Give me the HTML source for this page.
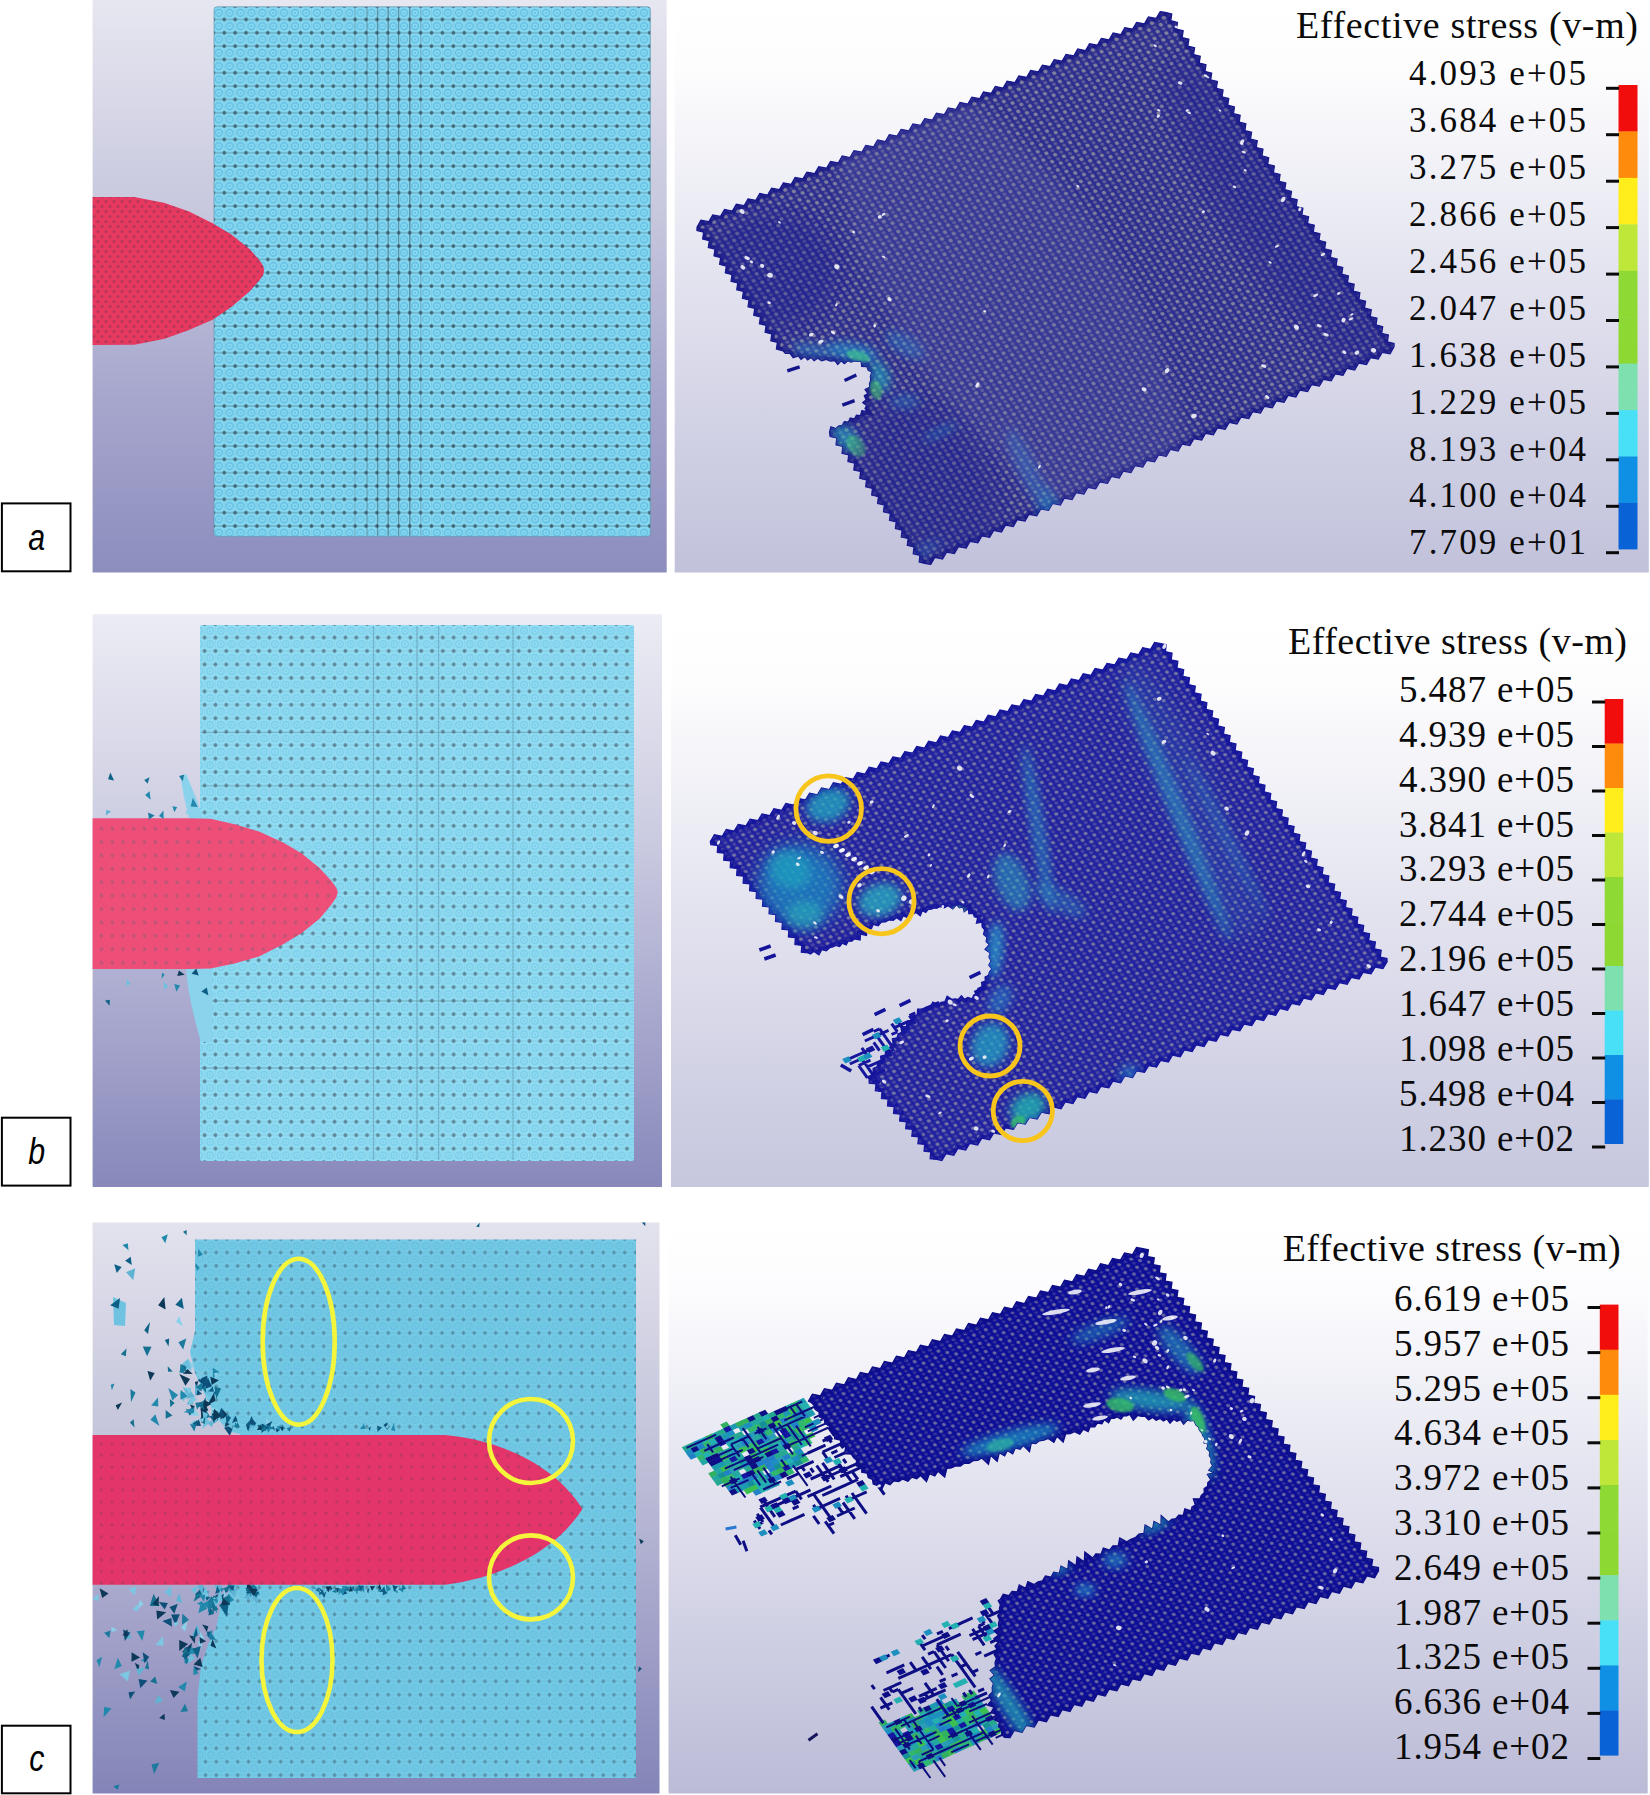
<!DOCTYPE html>
<html lang="en"><head><meta charset="utf-8"><title>Effective stress (v-m)</title>
<style>
html,body{margin:0;padding:0;background:#fff}
body{width:1650px;height:1795px;overflow:hidden;font-family:"Liberation Serif",serif}
svg{display:block}
.t{font-family:"Liberation Serif",serif;fill:#0a0a0a}
.l{font-family:"Liberation Sans",sans-serif;font-style:italic;fill:#000}
</style></head><body>
<svg width="1650" height="1795" viewBox="0 0 1650 1795">
<defs>
<linearGradient id="gaL" x1="0" y1="0" x2="0" y2="1"><stop offset="0" stop-color="#e7e7f1"/><stop offset="0.35" stop-color="#c9c9df"/><stop offset="0.7" stop-color="#a6a6cd"/><stop offset="1" stop-color="#8d8dbe"/></linearGradient>
<linearGradient id="gbL" x1="0" y1="0" x2="0" y2="1"><stop offset="0" stop-color="#ececf5"/><stop offset="0.35" stop-color="#cfcfe3"/><stop offset="0.7" stop-color="#a8a8ce"/><stop offset="1" stop-color="#8888bb"/></linearGradient>
<linearGradient id="gcL" x1="0" y1="0" x2="0" y2="1"><stop offset="0" stop-color="#e3e3ee"/><stop offset="0.35" stop-color="#c6c6dc"/><stop offset="0.7" stop-color="#a3a3ca"/><stop offset="1" stop-color="#8484b8"/></linearGradient>
<linearGradient id="gaR" x1="0" y1="0" x2="0" y2="1"><stop offset="0" stop-color="#ffffff"/><stop offset="0.12" stop-color="#fdfdfe"/><stop offset="0.5" stop-color="#e2e2ef"/><stop offset="1" stop-color="#c1c1db"/></linearGradient>
<linearGradient id="gbR" x1="0" y1="0" x2="0" y2="1"><stop offset="0" stop-color="#ffffff"/><stop offset="0.12" stop-color="#fdfdfe"/><stop offset="0.5" stop-color="#e4e4f0"/><stop offset="1" stop-color="#c6c6de"/></linearGradient>
<linearGradient id="gcR" x1="0" y1="0" x2="0" y2="1"><stop offset="0" stop-color="#ffffff"/><stop offset="0.12" stop-color="#fcfcfe"/><stop offset="0.5" stop-color="#e0e0ee"/><stop offset="1" stop-color="#bbbbd7"/></linearGradient>
<clipPath id="caL"><rect x="92.6" y="0" width="574.1" height="572.5"/></clipPath>
<clipPath id="caR"><rect x="674.7" y="0" width="974.1" height="572.5"/></clipPath>
<clipPath id="cbL"><rect x="92.6" y="614.2" width="569.4" height="572.8"/></clipPath>
<clipPath id="cbR"><rect x="671" y="614.2" width="977.8" height="572.8"/></clipPath>
<clipPath id="ccL"><rect x="92.6" y="1222.4" width="566.9" height="571.1"/></clipPath>
<clipPath id="ccR"><rect x="668.5" y="1222.4" width="979.2" height="571.1"/></clipPath>
<filter id="b1" x="-5%" y="-5%" width="110%" height="110%"><feGaussianBlur stdDeviation="0.6"/></filter>
<filter id="b2" x="-20%" y="-20%" width="140%" height="140%"><feGaussianBlur stdDeviation="1.2"/></filter>
<filter id="b4" x="-30%" y="-30%" width="160%" height="160%"><feGaussianBlur stdDeviation="4"/></filter>
<filter id="b8" x="-40%" y="-40%" width="180%" height="180%"><feGaussianBlur stdDeviation="8"/></filter>
<pattern id="redA" patternUnits="userSpaceOnUse" width="8" height="10" patternTransform="translate(94 199)"><rect width="8" height="10" fill="#e73760"/><circle cx="4" cy="2.5" r="1.5" fill="#7a3a52" fill-opacity=".5"/><circle cx="0" cy="7.5" r="1.5" fill="#7a3a52" fill-opacity=".5"/><circle cx="8" cy="7.5" r="1.5" fill="#7a3a52" fill-opacity=".5"/></pattern>
<pattern id="redB" patternUnits="userSpaceOnUse" width="10.8" height="13.4" patternTransform="translate(96 822)"><rect width="10.8" height="13.4" fill="#ee4f79"/><circle cx="5.4" cy="6.7" r="1.8" fill="#8a5a74" fill-opacity=".5"/></pattern>
<pattern id="redC" patternUnits="userSpaceOnUse" width="10.7" height="11.6" patternTransform="translate(96 1438)"><rect width="10.7" height="11.6" fill="#e4346a"/><circle cx="5.3" cy="5.8" r="1.6" fill="#8a3a5c" fill-opacity=".45"/></pattern>
<pattern id="mA" patternUnits="userSpaceOnUse" x="415.1" y="12.8" width="10.91" height="13.33"><rect width="10.91" height="13.33" fill="#86d9f2"/><circle cx="0" cy="0" r="3.4" fill="none" stroke="#3f9dcc" stroke-opacity="0.6" stroke-width="1.1"/><circle cx="0" cy="0" r="1" fill="#3f9dcc" fill-opacity="0.5"/><circle cx="10.9" cy="0" r="3.4" fill="none" stroke="#3f9dcc" stroke-opacity="0.6" stroke-width="1.1"/><circle cx="10.9" cy="0" r="1" fill="#3f9dcc" fill-opacity="0.5"/><circle cx="0" cy="13.3" r="3.4" fill="none" stroke="#3f9dcc" stroke-opacity="0.6" stroke-width="1.1"/><circle cx="0" cy="13.3" r="1" fill="#3f9dcc" fill-opacity="0.5"/><circle cx="10.9" cy="13.3" r="3.4" fill="none" stroke="#3f9dcc" stroke-opacity="0.6" stroke-width="1.1"/><circle cx="10.9" cy="13.3" r="1" fill="#3f9dcc" fill-opacity="0.5"/><path d="M0 6.7 H10.91" stroke="#33505f" stroke-opacity="0.38" stroke-width="1.2"/><path d="M5.5 0 V13.33" stroke="#33505f" stroke-opacity="0.1" stroke-width="1"/><circle cx="5.5" cy="6.7" r="1.9" fill="#33505f" fill-opacity="0.78"/></pattern>
<pattern id="mB" patternUnits="userSpaceOnUse" x="199.2" y="630.8" width="10.83" height="13.45"><rect width="10.83" height="13.45" fill="#90dcf3"/><circle cx="0" cy="0" r="3.2" fill="none" stroke="#58aed2" stroke-opacity="0.4" stroke-width="1.1"/><circle cx="0" cy="0" r="1" fill="#58aed2" fill-opacity="0.4"/><circle cx="10.8" cy="0" r="3.2" fill="none" stroke="#58aed2" stroke-opacity="0.4" stroke-width="1.1"/><circle cx="10.8" cy="0" r="1" fill="#58aed2" fill-opacity="0.4"/><circle cx="0" cy="13.4" r="3.2" fill="none" stroke="#58aed2" stroke-opacity="0.4" stroke-width="1.1"/><circle cx="0" cy="13.4" r="1" fill="#58aed2" fill-opacity="0.4"/><circle cx="10.8" cy="13.4" r="3.2" fill="none" stroke="#58aed2" stroke-opacity="0.4" stroke-width="1.1"/><circle cx="10.8" cy="13.4" r="1" fill="#58aed2" fill-opacity="0.4"/><path d="M0 6.7 H10.83" stroke="#4a6878" stroke-opacity="0.12" stroke-width="1.2"/><path d="M5.4 0 V13.45" stroke="#4a6878" stroke-opacity="0.08" stroke-width="1"/><circle cx="5.4" cy="6.7" r="2.0" fill="#4a6878" fill-opacity="0.7"/></pattern>
<pattern id="mC" patternUnits="userSpaceOnUse" x="200.1" y="1245.8" width="10.75" height="13.4"><rect width="10.75" height="13.4" fill="#73cae6"/><circle cx="0" cy="0" r="3.2" fill="none" stroke="#4fa8cc" stroke-opacity="0.35" stroke-width="1.1"/><circle cx="0" cy="0" r="1" fill="#4fa8cc" fill-opacity="0.3"/><circle cx="10.8" cy="0" r="3.2" fill="none" stroke="#4fa8cc" stroke-opacity="0.35" stroke-width="1.1"/><circle cx="10.8" cy="0" r="1" fill="#4fa8cc" fill-opacity="0.3"/><circle cx="0" cy="13.4" r="3.2" fill="none" stroke="#4fa8cc" stroke-opacity="0.35" stroke-width="1.1"/><circle cx="0" cy="13.4" r="1" fill="#4fa8cc" fill-opacity="0.3"/><circle cx="10.8" cy="13.4" r="3.2" fill="none" stroke="#4fa8cc" stroke-opacity="0.35" stroke-width="1.1"/><circle cx="10.8" cy="13.4" r="1" fill="#4fa8cc" fill-opacity="0.3"/><path d="M0 6.7 H10.75" stroke="#3f6478" stroke-opacity="0.1" stroke-width="1.2"/><path d="M5.4 0 V13.4" stroke="#3f6478" stroke-opacity="0.06" stroke-width="1"/><circle cx="5.4" cy="6.7" r="1.8" fill="#3f6478" fill-opacity="0.5"/></pattern>
<pattern id="pA" patternUnits="userSpaceOnUse" width="13.0" height="10.1" patternTransform="matrix(0.9105 -0.4136 0.5592 0.8290 1167 11)"><rect width="13.0" height="10.1" fill="#2d2d90"/><circle cx="0" cy="0" r="2.0" fill="#80809e"/><circle cx="13" cy="0" r="2.0" fill="#80809e"/><circle cx="0" cy="10.1" r="2.0" fill="#80809e"/><circle cx="13" cy="10.1" r="2.0" fill="#80809e"/><circle cx="6.5" cy="5" r="2.0" fill="#80809e"/><circle cx="6.5" cy="0" r="1.8" fill="#5e5e98"/><circle cx="6.5" cy="10.1" r="1.8" fill="#5e5e98"/><circle cx="0" cy="5" r="1.8" fill="#5e5e98"/><circle cx="13" cy="5" r="1.8" fill="#5e5e98"/></pattern>
<clipPath id="kA"><path d="M1165.1 12.3 L1171.8 13.9 L1170.8 20.7 L1177.5 22.4 L1176.5 29.2 L1183.2 30.8 L1182.2 37.6 L1188.9 39.3 L1187.9 46.1 L1194.6 47.7 L1193.6 54.5 L1200.3 56.2 L1199.3 63 L1206 64.6 L1205 71.4 L1211.7 73.1 L1210.7 79.9 L1217.4 81.5 L1216.4 88.3 L1223.1 90 L1222.1 96.8 L1228.8 98.4 L1227.8 105.2 L1234.5 106.9 L1233.5 113.7 L1240.2 115.3 L1239.2 122.1 L1245.9 123.8 L1244.9 130.6 L1251.6 132.2 L1250.6 139 L1257.3 140.7 L1256.3 147.5 L1263 149.1 L1262 155.9 L1268.7 157.6 L1267.7 164.4 L1274.4 166 L1273.4 172.8 L1280.1 174.5 L1279.1 181.3 L1285.8 182.9 L1284.8 189.7 L1291.5 191.4 L1290.5 198.2 L1297.2 199.8 L1296.2 206.6 L1302.9 208.3 L1301.9 215.1 L1308.6 216.7 L1307.6 223.5 L1314.3 225.2 L1313.3 232 L1320 233.6 L1319 240.4 L1325.7 242.1 L1324.7 248.9 L1331.4 250.5 L1330.4 257.3 L1337.1 259 L1336.1 265.8 L1342.8 267.4 L1341.8 274.2 L1348.5 275.9 L1347.5 282.7 L1354.2 284.3 L1353.2 291.1 L1359.9 292.8 L1358.9 299.6 L1365.6 301.2 L1364.6 308 L1371.3 309.7 L1370.3 316.5 L1377 318.1 L1376 324.9 L1382.7 326.6 L1381.7 333.4 L1388.4 335 L1387.4 341.8 L1394.1 343.5 L1394 346.9 L1390.1 353.8 L1382.3 352.3 L1378.3 359.2 L1370.5 357.7 L1366.5 364.6 L1358.7 363.1 L1354.7 370 L1346.9 368.5 L1343 375.4 L1335.2 373.9 L1331.2 380.8 L1323.4 379.3 L1319.4 386.2 L1311.6 384.7 L1307.6 391.6 L1299.8 390.1 L1295.9 397 L1288.1 395.5 L1284.1 402.4 L1276.3 400.9 L1272.3 407.8 L1264.5 406.3 L1260.5 413.2 L1252.7 411.7 L1248.8 418.6 L1241 417.1 L1237 424 L1229.2 422.5 L1225.2 429.4 L1217.4 427.9 L1213.4 434.8 L1205.6 433.3 L1201.7 440.2 L1193.9 438.7 L1189.9 445.6 L1182.1 444.1 L1178.1 451 L1170.3 449.5 L1166.3 456.4 L1158.5 454.9 L1154.6 461.8 L1146.8 460.3 L1142.8 467.2 L1135 465.7 L1131 472.6 L1123.2 471.1 L1119.2 478 L1111.4 476.5 L1107.5 483.4 L1099.7 481.9 L1095.7 488.8 L1087.9 487.3 L1083.9 494.2 L1076.1 492.7 L1072.1 499.6 L1064.3 498.1 L1060.4 505 L1052.6 503.5 L1048.6 510.4 L1040.8 508.9 L1036.8 515.8 L1029 514.3 L1025 521.2 L1017.2 519.7 L1013.3 526.6 L1005.5 525.1 L1001.5 532 L993.7 530.5 L989.7 537.4 L981.9 535.9 L977.9 542.8 L970.1 541.3 L966.2 548.2 L958.4 546.7 L954.4 553.6 L946.6 552.1 L942.6 559 L934.8 557.5 L930.8 564.4 L925.9 563.7 L919.2 562.1 L919.9 555.3 L913.2 553.8 L914 546.9 L907.3 545.4 L908.1 538.5 L901.3 537 L902.1 530.2 L895.4 528.6 L896.2 521.8 L889.5 520.3 L890.3 513.4 L883.5 511.9 L884.3 505 L877.6 503.5 L878.4 496.7 L871.7 495.1 L872.4 488.3 L865.7 486.8 L866.5 479.9 L859.8 478.4 L860.6 471.5 L853.8 470 L854.6 463.2 L847.9 461.6 L848.7 454.8 L842 453.3 L842.8 446.4 L836 444.9 L836.8 438 L830.1 436.5 L829.5 432 L830.9 426.9 L835.8 428.6 L838.5 426.1 L842.2 425.3 L844.3 421.6 L848.5 422 L850.2 418 L854.5 418.8 L856.4 415.2 L860.5 415.6 L861.8 410.7 L867.1 411.4 L865 408.5 L866.6 405.4 L862.7 402.6 L866.1 399.7 L864.2 395.8 L867.8 393.5 L865 389.4 L869.6 387.2 L869.5 383.5 L870.8 380 L870.3 376.3 L871.8 371.9 L868.2 370.3 L866.8 366.6 L861.7 366.4 L861 360.9 L857.7 361.4 L854.4 360.9 L851.1 362.2 L847.8 360.8 L844.4 363.7 L841.1 360.8 L837.8 364.6 L834.7 360.7 L830.3 361.2 L826.2 359.5 L821.7 360.9 L817.7 358.3 L814.1 360.7 L811.2 357.5 L807.6 360 L804.7 356.7 L801 359.4 L798.3 355.9 L793.2 357.7 L789.9 353.5 L785.3 353.5 L783.1 350.8 L776.4 349.1 L777.4 342.3 L770.8 340.7 L771.8 333.9 L765.1 332.2 L766.1 325.4 L759.4 323.7 L760.4 316.9 L753.7 315.3 L754.7 308.5 L748 306.8 L749 300 L742.4 298.3 L743.4 291.5 L736.7 289.8 L737.7 283 L731 281.4 L732 274.6 L725.3 272.9 L726.3 266.1 L719.6 264.4 L720.6 257.6 L714 255.9 L715 249.1 L708.3 247.5 L709.3 240.7 L702.6 239 L703.6 232.2 L696.9 230.5 L697 227.1 L700.9 220.2 L708.7 221.7 L712.7 214.9 L720.5 216.4 L724.5 209.5 L732.3 211 L736.3 204.2 L744.1 205.7 L748 198.8 L755.8 200.3 L759.8 193.5 L767.6 195 L771.6 188.1 L779.4 189.6 L783.4 182.8 L791.2 184.3 L795.1 177.4 L802.9 178.9 L806.9 172.1 L814.7 173.6 L818.7 166.7 L826.5 168.2 L830.5 161.4 L838.3 162.9 L842.2 156 L850 157.5 L854 150.7 L861.8 152.2 L865.8 145.3 L873.6 146.8 L877.6 140 L885.4 141.5 L889.3 134.6 L897.1 136.1 L901.1 129.3 L908.9 130.8 L912.9 123.9 L920.7 125.4 L924.7 118.6 L932.5 120.1 L936.4 113.2 L944.2 114.7 L948.2 107.9 L956 109.4 L960 102.5 L967.8 104 L971.8 97.2 L979.6 98.7 L983.5 91.8 L991.3 93.3 L995.3 86.5 L1003.1 88 L1007.1 81.1 L1014.9 82.6 L1018.9 75.8 L1026.7 77.3 L1030.6 70.4 L1038.4 71.9 L1042.4 65.1 L1050.2 66.6 L1054.2 59.7 L1062 61.2 L1066 54.4 L1073.8 55.9 L1077.7 49 L1085.5 50.5 L1089.5 43.7 L1097.3 45.2 L1101.3 38.3 L1109.1 39.8 L1113.1 33 L1120.9 34.5 L1124.8 27.6 L1132.6 29.1 L1136.6 22.3 L1144.4 23.8 L1148.4 16.9 L1156.2 18.4 L1160.2 11.6Z"/></clipPath>
<pattern id="pB" patternUnits="userSpaceOnUse" width="13.0" height="10.1" patternTransform="matrix(0.9127 -0.4087 0.5753 0.8179 1161.5 642)"><rect width="13.0" height="10.1" fill="#2424a0"/><circle cx="0" cy="0" r="1.9" fill="#7676a4"/><circle cx="13" cy="0" r="1.9" fill="#7676a4"/><circle cx="0" cy="10.1" r="1.9" fill="#7676a4"/><circle cx="13" cy="10.1" r="1.9" fill="#7676a4"/><circle cx="6.5" cy="5" r="1.9" fill="#7676a4"/><circle cx="6.5" cy="0" r="1.7" fill="#4a4aa2"/><circle cx="6.5" cy="10.1" r="1.7" fill="#4a4aa2"/><circle cx="0" cy="5" r="1.7" fill="#4a4aa2"/><circle cx="13" cy="5" r="1.7" fill="#4a4aa2"/></pattern>
<clipPath id="kB"><path d="M1159.6 643.3 L1166.3 644.8 L1165.4 651.6 L1172.1 653.1 L1171.2 659.8 L1177.9 661.3 L1177 668.1 L1183.7 669.6 L1182.8 676.3 L1189.5 677.8 L1188.7 684.6 L1195.3 686.1 L1194.5 692.9 L1201.1 694.3 L1200.3 701.1 L1206.9 702.6 L1206.1 709.4 L1212.7 710.9 L1211.9 717.6 L1218.6 719.1 L1217.7 725.9 L1224.4 727.4 L1223.5 734.1 L1230.2 735.6 L1229.3 742.4 L1236 743.9 L1235.1 750.7 L1241.8 752.1 L1240.9 758.9 L1247.6 760.4 L1246.7 767.2 L1253.4 768.7 L1252.5 775.4 L1259.2 776.9 L1258.3 783.7 L1265 785.2 L1264.2 791.9 L1270.8 793.4 L1270 800.2 L1276.6 801.7 L1275.8 808.5 L1282.4 809.9 L1281.6 816.7 L1288.2 818.2 L1287.4 825 L1294.1 826.4 L1293.2 833.2 L1299.9 834.7 L1299 841.5 L1305.7 843 L1304.8 849.7 L1311.5 851.2 L1310.6 858 L1317.3 859.5 L1316.4 866.2 L1323.1 867.7 L1322.2 874.5 L1328.9 876 L1328 882.8 L1334.7 884.2 L1333.8 891 L1340.5 892.5 L1339.7 899.3 L1346.3 900.8 L1345.5 907.5 L1352.1 909 L1351.3 915.8 L1357.9 917.3 L1357.1 924 L1363.7 925.5 L1362.9 932.3 L1369.6 933.8 L1368.7 940.6 L1375.4 942 L1374.5 948.8 L1381.2 950.3 L1380.3 957.1 L1387 958.5 L1387.1 961.9 L1383 968.7 L1375.2 967.1 L1371 973.9 L1363.2 972.3 L1359.1 979.1 L1351.3 977.4 L1347.2 984.3 L1339.4 982.6 L1335.3 989.4 L1327.5 987.8 L1323.4 994.6 L1315.6 993 L1311.4 999.8 L1303.6 998.2 L1299.5 1005 L1291.7 1003.4 L1287.6 1010.2 L1279.8 1008.5 L1275.7 1015.4 L1267.9 1013.7 L1263.7 1020.5 L1256 1018.9 L1251.8 1025.7 L1244 1024.1 L1239.9 1030.9 L1232.1 1029.3 L1228 1036.1 L1220.2 1034.5 L1216.1 1041.3 L1208.3 1039.7 L1204.1 1046.5 L1196.3 1044.8 L1192.2 1051.6 L1184.4 1050 L1180.3 1056.8 L1172.5 1055.2 L1168.4 1062 L1160.6 1060.4 L1156.5 1067.2 L1148.7 1065.6 L1144.5 1072.4 L1136.7 1070.8 L1132.6 1077.6 L1124.8 1075.9 L1120.7 1082.8 L1112.9 1081.1 L1108.8 1087.9 L1101 1086.3 L1096.9 1093.1 L1089.1 1091.5 L1084.9 1098.3 L1077.1 1096.7 L1073 1103.5 L1065.2 1101.9 L1061.1 1108.7 L1053.3 1107 L1049.2 1113.9 L1041.4 1112.2 L1037.2 1119 L1029.5 1117.4 L1025.3 1124.2 L1017.5 1122.6 L1013.4 1129.4 L1005.6 1127.8 L1001.5 1134.6 L993.7 1133 L989.6 1139.8 L981.8 1138.2 L977.6 1145 L969.8 1143.3 L965.7 1150.1 L957.9 1148.5 L953.8 1155.3 L946 1153.7 L941.9 1160.5 L936.9 1159.5 L930.1 1158.7 L930.8 1151.9 L924 1151.2 L924.7 1144.4 L917.9 1143.6 L918.6 1136.9 L911.8 1136.1 L912.5 1129.3 L905.7 1128.6 L906.4 1121.8 L899.6 1121 L900.3 1114.2 L893.5 1113.5 L894.2 1106.7 L887.5 1105.9 L888.1 1099.1 L881.4 1098.4 L882 1091.6 L875.3 1090.8 L876 1084 L869.2 1083.3 L869.1 1078.7 L870.8 1075.5 L873.1 1072.7 L873.1 1068.4 L877.1 1066.7 L877.6 1062.7 L881.1 1060.7 L880.6 1056.1 L885.1 1055 L885.6 1051.1 L889.1 1049.2 L890.4 1045.9 L893.1 1043.5 L892.3 1038.7 L897 1037.8 L898.1 1034 L901.7 1032.2 L900.9 1026.8 L906.3 1026.5 L907.4 1022.6 L910.9 1020.9 L912.1 1015.9 L917.2 1014.9 L917.6 1009 L923.1 1009.2 L926.5 1007.2 L930.4 1006.7 L932.8 1002 L937.7 1004.2 L941.1 1002.4 L944.9 1001.7 L947.1 996.1 L951.8 999.3 L955 998.9 L958.2 999.3 L961.4 995.7 L964.6 999.3 L967.8 997.3 L972 998.8 L973.7 995.1 L977 992.8 L977.9 988.5 L982.1 986.6 L981.5 982.5 L985.3 981 L985 977.1 L988.5 975.3 L989.4 972.1 L991.9 968.9 L988.8 965.2 L991 960.9 L988.9 957 L990.2 952.9 L985 949.4 L989.2 944.6 L986.1 941.6 L986.9 937.3 L983.5 934.3 L984.6 929.9 L982.1 926.7 L981.9 922.1 L976.4 923.3 L977.6 917.7 L974.2 916.8 L973.3 913.4 L968.8 913.6 L968.4 908.8 L964.2 911.7 L962.8 906.8 L959.3 907.8 L956.5 904.7 L952.8 909 L948.2 905.7 L944.2 907.8 L939.7 906.7 L937 908.2 L933.9 908.1 L931.2 909.2 L928.2 909.4 L925.8 912.4 L922.4 910.7 L920.3 915.8 L915.9 912.5 L913 914.5 L909.5 914.2 L906.9 917.4 L903.1 916 L900.9 920.6 L896.6 917.7 L893.2 920.3 L889 919.9 L885.4 921.9 L881.3 922.1 L878.2 925.8 L873.2 924.5 L871.4 928.7 L866.9 929.3 L866.5 935.4 L860.5 934.1 L860.1 940.1 L854.6 938.8 L851.9 941.2 L848.3 941 L846.2 944.9 L842.1 943.3 L839.7 946.5 L835.8 945.5 L832.8 947 L829.7 947.7 L826.3 950.9 L821.8 949.6 L818.9 954.9 L814 951.4 L810.4 954 L808.2 953 L801.3 952.2 L801.8 945.3 L794.9 944.5 L795.3 937.6 L788.4 936.9 L788.8 929.9 L781.9 929.2 L782.4 922.3 L775.5 921.5 L775.9 914.6 L769 913.8 L769.4 906.9 L762.5 906.2 L763 899.2 L756.1 898.5 L756.5 891.6 L749.6 890.8 L750 883.9 L743.1 883.1 L743.6 876.2 L736.7 875.5 L737.1 868.5 L730.2 867.8 L730.6 860.9 L723.7 860.1 L724.2 853.2 L717.3 852.5 L717.7 845.5 L710.8 844.8 L710.3 841.5 L714.4 834.7 L722.2 836.3 L726.3 829.5 L734.1 831.1 L738.2 824.3 L746 825.9 L750.1 819.1 L757.9 820.7 L762 813.9 L769.8 815.5 L773.9 808.7 L781.7 810.3 L785.8 803.5 L793.6 805.1 L797.7 798.3 L805.5 799.9 L809.6 793.1 L817.4 794.8 L821.5 787.9 L829.3 789.6 L833.4 782.7 L841.2 784.4 L845.3 777.6 L853.1 779.2 L857.2 772.4 L865 774 L869.1 767.2 L876.9 768.8 L881 762 L888.8 763.6 L892.9 756.8 L900.7 758.4 L904.8 751.6 L912.6 753.2 L916.7 746.4 L924.5 748 L928.6 741.2 L936.4 742.8 L940.5 736 L948.3 737.6 L952.4 730.8 L960.2 732.4 L964.3 725.6 L972.1 727.2 L976.2 720.4 L984 722 L988.1 715.2 L995.9 716.8 L1000 710 L1007.8 711.6 L1011.9 704.8 L1019.7 706.4 L1023.8 699.6 L1031.5 701.2 L1035.7 694.4 L1043.4 696.1 L1047.6 689.2 L1055.3 690.9 L1059.5 684 L1067.2 685.7 L1071.3 678.9 L1079.1 680.5 L1083.2 673.7 L1091 675.3 L1095.1 668.5 L1102.9 670.1 L1107 663.3 L1114.8 664.9 L1118.9 658.1 L1126.7 659.7 L1130.8 652.9 L1138.6 654.5 L1142.7 647.7 L1150.5 649.3 L1154.6 642.5Z"/></clipPath>
<pattern id="pC" patternUnits="userSpaceOnUse" width="13.0" height="10.1" patternTransform="matrix(0.9122 -0.4097 0.5817 0.8134 1146 1247)"><rect width="13.0" height="10.1" fill="#101098"/><circle cx="0" cy="0" r="1.8" fill="#6a6aa0"/><circle cx="13" cy="0" r="1.8" fill="#6a6aa0"/><circle cx="0" cy="10.1" r="1.8" fill="#6a6aa0"/><circle cx="13" cy="10.1" r="1.8" fill="#6a6aa0"/><circle cx="6.5" cy="5" r="1.8" fill="#6a6aa0"/><circle cx="6.5" cy="0" r="1.6" fill="#34349a"/><circle cx="6.5" cy="10.1" r="1.6" fill="#34349a"/><circle cx="0" cy="5" r="1.6" fill="#34349a"/><circle cx="13" cy="5" r="1.6" fill="#34349a"/></pattern>
<clipPath id="kC"><path d="M1141.6 1248.4 L1148.4 1249.7 L1147.5 1256.6 L1154.3 1257.8 L1153.4 1264.7 L1160.2 1266 L1159.3 1272.9 L1166.1 1274.1 L1165.2 1281 L1172 1282.3 L1171.1 1289.2 L1177.9 1290.4 L1177 1297.3 L1183.8 1298.6 L1182.9 1305.5 L1189.7 1306.7 L1188.8 1313.6 L1195.6 1314.9 L1194.7 1321.8 L1201.5 1323 L1200.6 1329.9 L1207.4 1331.2 L1206.5 1338.1 L1213.3 1339.3 L1212.4 1346.2 L1219.2 1347.5 L1218.3 1354.4 L1225.1 1355.6 L1224.2 1362.5 L1231 1363.8 L1230.1 1370.7 L1236.9 1371.9 L1236 1378.8 L1242.8 1380.1 L1241.9 1387 L1248.7 1388.2 L1247.8 1395.1 L1254.6 1396.4 L1253.7 1403.3 L1260.5 1404.5 L1259.6 1411.4 L1266.4 1412.7 L1265.5 1419.6 L1272.3 1420.8 L1271.4 1427.7 L1278.2 1429 L1277.3 1435.9 L1284.1 1437.1 L1283.2 1444 L1290 1445.3 L1289.1 1452.2 L1295.9 1453.4 L1295 1460.3 L1301.8 1461.6 L1300.9 1468.5 L1307.7 1469.7 L1306.8 1476.6 L1313.6 1477.9 L1312.7 1484.8 L1319.5 1486 L1318.6 1492.9 L1325.4 1494.2 L1324.5 1501.1 L1331.3 1502.3 L1330.4 1509.2 L1337.2 1510.5 L1336.3 1517.4 L1343.1 1518.6 L1342.2 1525.5 L1349 1526.8 L1348.1 1533.7 L1354.9 1534.9 L1354 1541.8 L1360.8 1543.1 L1359.9 1550 L1366.7 1551.2 L1365.8 1558.1 L1372.6 1559.4 L1371.7 1566.3 L1378.5 1567.5 L1378.5 1570.8 L1374.6 1577.8 L1366.8 1575.9 L1362.9 1582.9 L1355.1 1581.1 L1351.2 1588.1 L1343.4 1586.2 L1339.5 1593.2 L1331.7 1591.4 L1327.8 1598.3 L1320 1596.5 L1316 1603.5 L1308.2 1601.7 L1304.3 1608.6 L1296.5 1606.8 L1292.6 1613.8 L1284.8 1611.9 L1280.9 1618.9 L1273.1 1617.1 L1269.2 1624.1 L1261.4 1622.2 L1257.5 1629.2 L1249.7 1627.4 L1245.8 1634.3 L1238 1632.5 L1234 1639.5 L1226.2 1637.7 L1222.3 1644.6 L1214.5 1642.8 L1210.6 1649.8 L1202.8 1647.9 L1198.9 1654.9 L1191.1 1653.1 L1187.2 1660.1 L1179.4 1658.2 L1175.5 1665.2 L1167.7 1663.4 L1163.8 1670.3 L1156 1668.5 L1152 1675.5 L1144.2 1673.7 L1140.3 1680.6 L1132.5 1678.8 L1128.6 1685.8 L1120.8 1683.9 L1116.9 1690.9 L1109.1 1689.1 L1105.2 1696.1 L1097.4 1694.2 L1093.5 1701.2 L1085.7 1699.4 L1081.8 1706.3 L1074 1704.5 L1070 1711.5 L1062.2 1709.7 L1058.3 1716.6 L1050.5 1714.8 L1046.4 1721.8 L1038.4 1720 L1034.3 1727.1 L1026.3 1725.3 L1022.1 1732.3 L1014.2 1730.5 L1010 1737.6 L1004.4 1737.5 L1001.6 1734.2 L1001.8 1729.9 L998.6 1726.8 L999.2 1722.3 L994.3 1719.8 L996.6 1714.7 L991.1 1712.4 L994 1707.1 L987.5 1705.1 L991.5 1700.2 L988.9 1695.6 L992.5 1691.8 L992.2 1687.6 L993.5 1683.5 L990 1678.9 L994.5 1675.2 L990.3 1670.4 L995.5 1666.8 L995 1662.6 L996.5 1658.5 L994 1654 L997.5 1650.1 L994.9 1646.1 L998 1642.5 L993.9 1638.5 L998.5 1635 L993.9 1630.9 L999 1627.4 L998.4 1623.5 L999.4 1619.8 L997.6 1615.9 L999.9 1612.2 L999.4 1608.4 L1000.4 1604.7 L998.2 1600.7 L1000.4 1599.2 L1003.2 1594.3 L1008.8 1595.5 L1012 1591.4 L1017.2 1591.9 L1019.2 1584.9 L1025.7 1588.2 L1027.8 1581.5 L1034.1 1584.5 L1038 1581.9 L1042.5 1580.9 L1045.4 1576 L1051 1577.2 L1053.7 1572.1 L1059.3 1573.3 L1061 1566.1 L1067.7 1569.5 L1068.7 1560.9 L1076 1565.7 L1077 1556.9 L1084.3 1561.8 L1084.8 1552 L1092.7 1558 L1095.8 1553.8 L1101 1554.2 L1103.3 1547.9 L1109.6 1550 L1112.9 1545.8 L1118.2 1545.9 L1119.7 1538 L1126.8 1541.7 L1130.8 1539.2 L1135.3 1537.6 L1138.9 1534 L1143.9 1533.4 L1145.1 1525 L1152.5 1529.3 L1154 1521.4 L1161 1525.2 L1161.2 1515.6 L1168.4 1521.9 L1171.6 1519.3 L1175.8 1518.7 L1178.7 1515.2 L1183.2 1515.4 L1184.8 1508.8 L1190.9 1510.9 L1192 1507 L1195.3 1504.9 L1193.3 1498.8 L1199.8 1498.9 L1201.3 1495.4 L1204.3 1492.7 L1204.1 1488.6 L1207.6 1486.3 L1207.8 1482.5 L1210.8 1480 L1207.4 1474.3 L1214.2 1472.7 L1208.8 1470.2 L1212.7 1465.7 L1210.8 1462.5 L1211.3 1458.7 L1209.3 1455.5 L1209.9 1451.7 L1206.7 1448.7 L1208.3 1444.3 L1204 1442.9 L1205.1 1438.5 L1203 1435.9 L1201.8 1432.8 L1199.4 1430.3 L1198.6 1427 L1195.8 1424.8 L1194.1 1420.5 L1190.7 1420.9 L1187.3 1420.1 L1183.6 1424.2 L1180.5 1419.7 L1177 1421.4 L1173.7 1419.3 L1170 1423.3 L1166.9 1418.9 L1163.4 1421 L1160.2 1418.5 L1156.1 1420.4 L1152.7 1417.5 L1148.6 1419.9 L1145.2 1416.5 L1141.4 1416.5 L1137.7 1415.5 L1133.3 1420.2 L1129.7 1414.5 L1126.7 1415.8 L1123.5 1415.8 L1120.9 1419.1 L1117.2 1417 L1114.2 1418.3 L1111 1418.3 L1108.6 1422.8 L1104.3 1419.7 L1102 1423.9 L1097.3 1423.2 L1094.8 1427 L1090.2 1426.7 L1088.2 1431.6 L1083.2 1429.3 L1079.8 1434.3 L1074.5 1431.6 L1070.3 1433.6 L1065.7 1433.9 L1063.2 1442.2 L1056.9 1436.2 L1053.9 1442.4 L1048.2 1438.5 L1043.9 1440.2 L1039.3 1440.8 L1035.8 1443.6 L1031.3 1443.2 L1029.5 1451.7 L1023.3 1445.6 L1020.1 1449.3 L1015.3 1448 L1012.7 1453.9 L1007.3 1450.4 L1004.7 1456 L999.3 1452.8 L997.2 1461.4 L990.6 1455.4 L988.5 1464.4 L981.8 1458 L977.8 1460.5 L973.1 1460.7 L969.1 1463.3 L964.3 1463.3 L960.4 1466.1 L955.6 1465.9 L951.4 1467.9 L946.8 1468.5 L944.7 1477.2 L938.1 1471.2 L934.8 1476 L929.5 1473.7 L926.5 1481.7 L920.6 1475.5 L916.7 1478.8 L911.7 1477.3 L907.9 1481.4 L902.8 1479.1 L898.7 1481.6 L893.9 1480.9 L890 1484.7 L885 1482.7 L881.7 1489.6 L877.7 1485.8 L873.2 1484.1 L872.4 1479.5 L868.2 1477.6 L867.1 1473.1 L861.7 1472.2 L861.8 1466.8 L856.3 1465.9 L856.5 1460.4 L853.5 1457.5 L851.2 1454.1 L844.4 1453.7 L845.7 1447.1 L841.4 1444.8 L840.2 1440.1 L834.6 1438.8 L834.7 1433.1 L830.6 1430.6 L829.2 1426.1 L825.1 1423.7 L824.1 1419.1 L819.6 1417 L818.9 1412.1 L815.1 1409.5 L813.8 1405.1 L810.6 1402.1 L808.4 1401.2 L812.4 1394.1 L820.4 1395.8 L824.4 1388.7 L832.4 1390.3 L836.4 1383.2 L844.4 1384.9 L848.4 1377.8 L856.4 1379.5 L860.4 1372.4 L868.4 1374 L872.4 1367 L880.4 1368.6 L884.4 1361.5 L892.4 1363.2 L896.4 1356.1 L904.4 1357.8 L908.4 1350.7 L916.4 1352.3 L920.4 1345.2 L928.4 1346.9 L932.4 1339.8 L940.4 1341.5 L944.5 1334.4 L952.4 1336 L956.5 1329 L964.4 1330.6 L968.5 1323.5 L976.4 1325.2 L980.5 1318.1 L988.4 1319.8 L992.5 1312.7 L1000.4 1314.3 L1004.5 1307.2 L1012.4 1308.9 L1016.5 1301.8 L1024.5 1303.5 L1028.5 1296.4 L1036.5 1298 L1040.5 1291 L1048.5 1292.6 L1052.5 1285.5 L1060.5 1287.2 L1064.5 1280.1 L1072.5 1281.8 L1076.5 1274.7 L1084.5 1276.3 L1088.5 1269.2 L1096.5 1270.9 L1100.5 1263.8 L1108.5 1265.5 L1112.5 1258.4 L1120.5 1260 L1124.5 1253 L1132.5 1254.6 L1136.5 1247.5Z"/></clipPath>
</defs>
<rect x="92.6" y="0" width="574.1" height="572.5" fill="url(#gaL)"/>
<rect x="674.7" y="0" width="974.1" height="572.5" fill="url(#gaR)"/>
<rect x="92.6" y="614.2" width="569.4" height="572.8" fill="url(#gbL)"/>
<rect x="671" y="614.2" width="977.8" height="572.8" fill="url(#gbR)"/>
<rect x="92.6" y="1222.4" width="566.9" height="571.1" fill="url(#gcL)"/>
<rect x="668.5" y="1222.4" width="979.2" height="571.1" fill="url(#gcR)"/>
<rect x="1.9" y="503.4" width="68.6" height="67.9" fill="#fff" stroke="#000" stroke-width="2"/>
<text class="l" x="0" y="0" font-size="37" text-anchor="middle" transform="translate(36.8 549.7) scale(0.82 1)">a</text>
<rect x="1.9" y="1117.7" width="68.6" height="67.9" fill="#fff" stroke="#000" stroke-width="2"/>
<text class="l" x="0" y="0" font-size="37" text-anchor="middle" transform="translate(36.8 1164) scale(0.82 1)">b</text>
<rect x="1.9" y="1725.7" width="68.6" height="67.6" fill="#fff" stroke="#000" stroke-width="2"/>
<text class="l" x="0" y="0" font-size="37" text-anchor="middle" transform="translate(36.8 1771) scale(0.82 1)">c</text>
<g clip-path="url(#caL)">
<rect x="214" y="6.8" width="436.4" height="529.6" rx="3" fill="url(#mA)" filter="url(#b1)"/>
<path d="M367 7 V536" stroke="#2f4a58" stroke-opacity="0.35" stroke-width="1.3"/>
<path d="M377.6 7 V536" stroke="#2f4a58" stroke-opacity="0.45" stroke-width="1.3"/>
<path d="M388.2 7 V536" stroke="#2f4a58" stroke-opacity="0.5" stroke-width="1.3"/>
<path d="M398.6 7 V536" stroke="#2f4a58" stroke-opacity="0.45" stroke-width="1.3"/>
<path d="M409.8 7 V536" stroke="#2f4a58" stroke-opacity="0.5" stroke-width="1.3"/>
<path d="M355 7 V536" stroke="#2f4a58" stroke-opacity="0.2" stroke-width="1.3"/>
<path d="M420.8 7 V536" stroke="#2f4a58" stroke-opacity="0.2" stroke-width="1.3"/>
<rect x="214" y="6.8" width="436.4" height="529.6" rx="3" fill="none" stroke="#5a8ea6" stroke-opacity=".6" stroke-width="1"/>
<path d="M92 197 L134.4 197 L164.7 203 L189 211.5 L213 223.6 L231.4 234.5 L249.6 249 L259.3 260 L263.3 266 L264.1 270.3 L263.3 275 L259.3 280.6 L249.6 291.5 L231.4 307 L213 319.4 L189 330 L164.7 338.8 L134.4 344.8 L92 345Z" fill="url(#redA)" filter="url(#b1)"/>
</g>
<g clip-path="url(#cbL)">
<rect x="200" y="625" width="434" height="536" rx="2" fill="url(#mB)" filter="url(#b1)"/>
<path d="M373.5 626 V1160" stroke="#3f5c6c" stroke-opacity="0.3" stroke-width="1.1"/>
<path d="M417 626 V1160" stroke="#3f5c6c" stroke-opacity="0.35" stroke-width="1.1"/>
<path d="M438.6 626 V1160" stroke="#3f5c6c" stroke-opacity="0.3" stroke-width="1.1"/>
<path d="M513 626 V1160" stroke="#3f5c6c" stroke-opacity="0.3" stroke-width="1.1"/>
<path d="M201 732.5 H633" stroke="#3f5c6c" stroke-opacity="0.3" stroke-width="1.1"/>
<path d="M201 786 H633" stroke="#3f5c6c" stroke-opacity="0.3" stroke-width="1.1"/>
<path d="M201 1001 H633" stroke="#3f5c6c" stroke-opacity="0.3" stroke-width="1.1"/>
<path d="M201 1068 H633" stroke="#3f5c6c" stroke-opacity="0.35" stroke-width="1.1"/>
<path d="M180.6 776 L186 774 L197 800 L202 816 L202 822 L190 822 C186 806 182 790 180.6 776Z" fill="#8bd3ec"/>
<path d="M186 968 L212 968 L212 1042 L201 1042 C194 1018 188 994 186 968Z" fill="#8bd3ec"/>
<path d="M92 818.2 L190 818.2 L210.5 818.8 L234.7 824.2 L259 831.5 L283.2 842.4 L301.4 853.3 L319.6 867.9 L331.7 881.2 L336.5 888 L337.8 892.1 L336.5 897 L331.7 904.2 L319.6 918.8 L301.4 933.3 L283.2 944.2 L259 956.4 L234.7 963.6 L210.5 968.5 L190 969 L92 969Z" fill="url(#redB)" filter="url(#b1)"/>
</g>
<g clip-path="url(#cbL)">
<g filter="url(#b1)"><path d="M114.1 780.4 L108.1 779.2 L110.3 772.5Z" fill="#0f5f85" fill-opacity="1.0"/><path d="M144.2 779.9 L149.5 777.2 L147.7 783.8Z" fill="#14708f" fill-opacity="1.0"/><path d="M150.6 799.8 L145.1 795 L149.6 791.3Z" fill="#2389ad" fill-opacity="1.0"/><path d="M184.1 774.7 L182.8 781.2 L179 776.1Z" fill="#1a7a9e" fill-opacity="1.0"/><path d="M197.8 807.1 L190.6 806.5 L192.8 797.7Z" fill="#2389ad" fill-opacity="1.0"/><path d="M105.8 815.4 L106.2 809.9 L111.2 811.3Z" fill="#5fb4d4" fill-opacity="1.0"/><path d="M163.4 810.6 L163.7 818.9 L159 815.9Z" fill="#2389ad" fill-opacity="1.0"/><path d="M185.4 814.1 L187.5 809 L192 813.7Z" fill="#8ad0e8" fill-opacity="1.0"/><path d="M148.9 819.6 L148.1 812.5 L154.6 815.6Z" fill="#1a7a9e" fill-opacity="1.0"/><path d="M172.4 806.2 L177.2 807.1 L174.4 812.2Z" fill="#2389ad" fill-opacity="1.0"/></g>
<g filter="url(#b1)"><path d="M126.2 985.6 L126.8 978.9 L130.8 984.3Z" fill="#6cc0de" fill-opacity="1.0"/><path d="M161.7 978.6 L162 972.4 L164.7 974.7Z" fill="#2389ad" fill-opacity="1.0"/><path d="M164.7 990.4 L163.5 982.1 L168.1 986Z" fill="#6cc0de" fill-opacity="1.0"/><path d="M184.8 974.7 L177.3 975.9 L178.9 970.4Z" fill="#0a3858" fill-opacity="1.0"/><path d="M176.4 991.7 L174.3 984.1 L180.1 985.4Z" fill="#2389ad" fill-opacity="1.0"/><path d="M206.8 987.6 L208.5 995.5 L201.3 991.6Z" fill="#0f5f85" fill-opacity="1.0"/><path d="M109.6 1005.7 L105.1 1000.4 L109.8 999.8Z" fill="#0f5f85" fill-opacity="1.0"/><path d="M196.3 968.5 L198.7 975.6 L191.6 973.8Z" fill="#0d4f78" fill-opacity="1.0"/><path d="M211.4 998.4 L206.4 996.5 L210.4 993.2Z" fill="#8ad0e8" fill-opacity="1.0"/></g>
</g>
<g clip-path="url(#ccL)">
<path d="M195 1239.5 L636 1239.5 L636 1778 L197.5 1778 L197.5 1699 L201 1666 L208 1645 L216 1628 L221 1605 L232 1586 L240 1434 L228 1431 L215 1415 L205 1395 L195 1373 L190 1352 L195 1331Z" fill="url(#mC)" filter="url(#b1)"/>
<path d="M113 1297 L126 1303 L125 1326 L114 1325Z" fill="#6fc3e0"/>
<g filter="url(#b1)"><path d="M186.7 1230 L186.6 1235.3 L183 1231.7Z" fill="#14708f" fill-opacity="1.0"/><path d="M161.4 1237.3 L167.8 1234.2 L165.3 1243.2Z" fill="#2389ad" fill-opacity="1.0"/><path d="M128.5 1250.2 L122.4 1245.1 L127.8 1243.3Z" fill="#2389ad" fill-opacity="1.0"/><path d="M125.1 1260.7 L130.7 1256.7 L131.8 1265.1Z" fill="#0f5f85" fill-opacity="1.0"/><path d="M114.3 1264.2 L121.7 1267 L116.7 1272.9Z" fill="#0f5f85" fill-opacity="1.0"/><path d="M135.2 1268.2 L133.3 1280.2 L126.1 1272.3Z" fill="#5fb4d4" fill-opacity="1.0"/><path d="M118.6 1308.7 L110.2 1305.2 L120 1298.1Z" fill="#0f5f85" fill-opacity="1.0"/><path d="M165.6 1309.6 L158.1 1305.2 L164.3 1296.9Z" fill="#0a3858" fill-opacity="1.0"/><path d="M175.4 1304.7 L181.9 1297.8 L183.8 1309Z" fill="#0f5f85" fill-opacity="1.0"/><path d="M182.9 1326.3 L176.1 1321.9 L179.1 1316.3Z" fill="#8ad0e8" fill-opacity="1.0"/><path d="M148 1334 L144.2 1330.2 L150 1321.9Z" fill="#0f5f85" fill-opacity="1.0"/><path d="M164.8 1339.9 L169.2 1338.4 L168.6 1346.4Z" fill="#0f5f85" fill-opacity="1.0"/><path d="M178.4 1342.2 L186.3 1338.4 L183.2 1349.4Z" fill="#1a7a9e" fill-opacity="1.0"/><path d="M147.1 1356.3 L142.8 1346.5 L151.5 1346.8Z" fill="#14708f" fill-opacity="1.0"/><path d="M126.5 1348.5 L125.8 1356.3 L120.8 1354.3Z" fill="#14708f" fill-opacity="1.0"/><path d="M167.7 1366.3 L172.8 1371.5 L168.1 1371.8Z" fill="#14708f" fill-opacity="1.0"/><path d="M188.3 1366.5 L179.8 1371.6 L180.5 1363.9Z" fill="#1a7a9e" fill-opacity="1.0"/><path d="M184.4 1363.9 L189.2 1370.9 L182.5 1371.2Z" fill="#14708f" fill-opacity="1.0"/><path d="M188.7 1359.8 L194.2 1366.4 L185.4 1371.5Z" fill="#8ad0e8" fill-opacity="1.0"/><path d="M188.3 1358.5 L191.8 1371 L182.1 1363.7Z" fill="#6cc0de" fill-opacity="1.0"/><path d="M192.7 1374 L183 1373.8 L187.4 1369Z" fill="#0a3858" fill-opacity="1.0"/><path d="M183.5 1366.5 L184.1 1373.1 L179.1 1372.6Z" fill="#1a7a9e" fill-opacity="1.0"/><path d="M150.2 1380.7 L147.5 1371.1 L154.7 1373.1Z" fill="#0a3858" fill-opacity="1.0"/><path d="M111.9 1390.3 L110.7 1384.7 L114.5 1383.5Z" fill="#2389ad" fill-opacity="1.0"/><path d="M131 1402.1 L130.4 1388.9 L135.5 1392.8Z" fill="#1a7a9e" fill-opacity="1.0"/><path d="M151.1 1405.4 L158 1397.5 L158.3 1406.4Z" fill="#2389ad" fill-opacity="1.0"/><path d="M122.1 1402.4 L117.9 1410.1 L115.6 1405.3Z" fill="#0a3858" fill-opacity="1.0"/><path d="M165.7 1418.8 L165.7 1410 L172.5 1415.5Z" fill="#14708f" fill-opacity="1.0"/><path d="M186.6 1404.4 L189.8 1398.7 L193.9 1404Z" fill="#5fb4d4" fill-opacity="1.0"/><path d="M189.6 1415.5 L185.8 1408.8 L194.4 1411.4Z" fill="#14708f" fill-opacity="1.0"/><path d="M199.4 1415.6 L190.4 1415.7 L193.7 1408.2Z" fill="#8ad0e8" fill-opacity="1.0"/><path d="M197.1 1409.7 L195.3 1402.8 L201.9 1402Z" fill="#1a7a9e" fill-opacity="1.0"/><path d="M183.6 1412.3 L194.7 1406.1 L193.7 1413.3Z" fill="#2389ad" fill-opacity="1.0"/><path d="M133.6 1419.2 L134.5 1427.4 L129.9 1422.5Z" fill="#14708f" fill-opacity="1.0"/><path d="M159.5 1425.9 L150.4 1419.8 L155.3 1414.3Z" fill="#2389ad" fill-opacity="1.0"/><path d="M189.2 1424.7 L194.8 1419.9 L197.4 1424.5Z" fill="#7cc8e2" fill-opacity="1.0"/><path d="M201 1425.9 L192.7 1425.4 L198.9 1419.6Z" fill="#0d4f78" fill-opacity="1.0"/><path d="M197.5 1425.9 L192.1 1424 L197.3 1420.1Z" fill="#0f5f85" fill-opacity="1.0"/><path d="M190 1424.3 L196.4 1424.5 L194.3 1431.6Z" fill="#1a7a9e" fill-opacity="1.0"/><path d="M204.3 1392.2 L211.3 1388.9 L211.4 1397.2Z" fill="#6cc0de" fill-opacity="1.0"/><path d="M206.5 1387.4 L197.6 1380 L207.3 1375.4Z" fill="#0d4f78" fill-opacity="1.0"/><path d="M205.6 1384.9 L206.2 1393.1 L201.4 1387.3Z" fill="#14708f" fill-opacity="1.0"/><path d="M194.9 1381.9 L198.3 1381.1 L196.3 1389.1Z" fill="#0a3858" fill-opacity="1.0"/><path d="M200.4 1390.4 L194.9 1396 L195.1 1383.7Z" fill="#5fb4d4" fill-opacity="1.0"/><path d="M207 1388.1 L199.1 1389.8 L204.9 1381Z" fill="#1a7a9e" fill-opacity="1.0"/><path d="M197.4 1389.7 L202.2 1393.9 L196.5 1395.5Z" fill="#0d4f78" fill-opacity="1.0"/><path d="M207.2 1383.8 L201.6 1388.9 L203.6 1381.3Z" fill="#0d4f78" fill-opacity="1.0"/><path d="M205.5 1409.1 L210.4 1417.2 L200 1419.3Z" fill="#1a7a9e" fill-opacity="1.0"/><path d="M206.9 1410.5 L201.5 1419.9 L200.6 1407.5Z" fill="#0a3858" fill-opacity="1.0"/><path d="M211.4 1416.9 L211.7 1407.4 L217.9 1409.4Z" fill="#8ad0e8" fill-opacity="1.0"/><path d="M207 1405.8 L200.6 1405 L205.8 1396.9Z" fill="#2389ad" fill-opacity="1.0"/><path d="M212.4 1410.1 L220 1415.3 L216.1 1421.2Z" fill="#14708f" fill-opacity="1.0"/><path d="M203.1 1411.8 L205.2 1403.4 L208.3 1410.5Z" fill="#0a3858" fill-opacity="1.0"/><path d="M204.5 1399.7 L211.2 1403.9 L200.4 1410.6Z" fill="#0a3858" fill-opacity="1.0"/><path d="M202.7 1401.1 L204 1409.6 L196.6 1405Z" fill="#14708f" fill-opacity="1.0"/><path d="M221.4 1419 L216.1 1414.4 L224.4 1410.7Z" fill="#0a3858" fill-opacity="1.0"/><path d="M211.8 1413.4 L218.5 1413.1 L213.9 1420.5Z" fill="#0a3858" fill-opacity="1.0"/><path d="M218.8 1412.8 L224.6 1416.2 L218.3 1420.3Z" fill="#0a3858" fill-opacity="1.0"/><path d="M212.1 1424.8 L215.6 1414.7 L220.2 1419.3Z" fill="#5fb4d4" fill-opacity="1.0"/><path d="M215.6 1416.7 L220.5 1415 L220.1 1422.6Z" fill="#8ad0e8" fill-opacity="1.0"/><path d="M209.7 1416.5 L214.4 1414.6 L214.5 1423.2Z" fill="#0f5f85" fill-opacity="1.0"/><path d="M251.8 1415.4 L255.6 1422.6 L249.1 1423.2Z" fill="#6cc0de" fill-opacity="1.0"/><path d="M246.4 1423.9 L251.5 1418.4 L249.7 1427.7Z" fill="#0f5f85" fill-opacity="1.0"/><path d="M249.8 1423.3 L255.3 1423.8 L252 1430.2Z" fill="#1a7a9e" fill-opacity="1.0"/><path d="M256.4 1423.2 L251.5 1427.6 L252.4 1419.3Z" fill="#0f5f85" fill-opacity="1.0"/><path d="M249 1421.7 L252.1 1417.6 L253.7 1424.5Z" fill="#1a7a9e" fill-opacity="1.0"/><path d="M251.3 1416.1 L255.8 1425.6 L249.3 1423.6Z" fill="#0d4f78" fill-opacity="1.0"/><path d="M266.3 1417.4 L272.8 1426.3 L265.6 1429.1Z" fill="#8ad0e8" fill-opacity="1.0"/><path d="M268.8 1429.1 L266.1 1424.5 L272.4 1421Z" fill="#0d4f78" fill-opacity="1.0"/><path d="M264.8 1426.4 L270.9 1425.6 L268.8 1432.7Z" fill="#1a7a9e" fill-opacity="1.0"/><path d="M261.5 1433 L261.6 1423.6 L268.5 1427.3Z" fill="#0d4f78" fill-opacity="1.0"/><path d="M195.5 1262.9 L199.7 1267.7 L196.8 1271.1Z" fill="#2389ad" fill-opacity="1.0"/><path d="M203 1254.7 L197.7 1256.7 L198.2 1248.7Z" fill="#2389ad" fill-opacity="1.0"/></g>
<g filter="url(#b1)"><path d="M201.5 1391.5 L195.5 1387.1 L202.5 1382.5Z" fill="#1a7a9e" fill-opacity="1.0"/><path d="M187.1 1394.7 L182.7 1387.3 L189 1388.7Z" fill="#5fb4d4" fill-opacity="1.0"/><path d="M213.4 1393.1 L216.6 1389.5 L217.9 1395.9Z" fill="#0f5f85" fill-opacity="1.0"/><path d="M212.7 1367.7 L219.2 1371.7 L213 1378.3Z" fill="#2389ad" fill-opacity="1.0"/><path d="M207.7 1377.1 L211.9 1386.5 L205.6 1388.5Z" fill="#0d4f78" fill-opacity="1.0"/><path d="M185.4 1385.7 L179.3 1373.9 L190.1 1378.9Z" fill="#0a3858" fill-opacity="1.0"/><path d="M196.9 1399.7 L187.8 1405.6 L191.8 1394.8Z" fill="#7cc8e2" fill-opacity="1.0"/><path d="M218.9 1380.3 L211.7 1385 L210.3 1376.8Z" fill="#0a3858" fill-opacity="1.0"/><path d="M213.9 1373.3 L218 1372.4 L216 1379.2Z" fill="#8ad0e8" fill-opacity="1.0"/><path d="M214.5 1386.6 L221.1 1388.6 L216.2 1398.9Z" fill="#14708f" fill-opacity="1.0"/><path d="M215.3 1401 L207.3 1405 L214 1392.7Z" fill="#0a3858" fill-opacity="1.0"/><path d="M212.8 1386.6 L213.9 1391.7 L208.2 1391.6Z" fill="#0f5f85" fill-opacity="1.0"/><path d="M179.2 1392.7 L189.2 1391.7 L183.4 1401.4Z" fill="#6cc0de" fill-opacity="1.0"/><path d="M200.6 1380.1 L197.2 1371.6 L204.2 1371.5Z" fill="#7cc8e2" fill-opacity="1.0"/><path d="M208 1414 L204.1 1421.8 L202.4 1411.2Z" fill="#6cc0de" fill-opacity="1.0"/><path d="M205.4 1415.8 L210.2 1422.6 L202.2 1428.4Z" fill="#6cc0de" fill-opacity="1.0"/><path d="M200.8 1422.3 L205.4 1416.8 L204.8 1423.9Z" fill="#14708f" fill-opacity="1.0"/><path d="M217 1420.7 L216 1410.5 L220.9 1413.7Z" fill="#0f5f85" fill-opacity="1.0"/><path d="M221.4 1407.7 L227.4 1415.1 L218.9 1416.5Z" fill="#0d4f78" fill-opacity="1.0"/><path d="M227.6 1421.2 L227.5 1413.4 L230.5 1417.5Z" fill="#1a7a9e" fill-opacity="1.0"/><path d="M212.4 1427.2 L208.1 1424 L212.6 1419.1Z" fill="#5fb4d4" fill-opacity="1.0"/><path d="M227.1 1414.9 L222.6 1419.1 L223 1410.5Z" fill="#0a3858" fill-opacity="1.0"/><path d="M214.7 1410.3 L220.9 1414 L216 1420.5Z" fill="#8ad0e8" fill-opacity="1.0"/><path d="M224.6 1416 L217.4 1417.9 L220.9 1409.1Z" fill="#0d4f78" fill-opacity="1.0"/><path d="M198 1419.6 L204 1418.1 L203.1 1422.2Z" fill="#7cc8e2" fill-opacity="1.0"/><path d="M213 1421.8 L214.1 1408.7 L221 1415.6Z" fill="#0a3858" fill-opacity="1.0"/><path d="M192 1409 L189.9 1404.5 L194.7 1405.9Z" fill="#0a3858" fill-opacity="1.0"/><path d="M178.2 1395 L172.4 1400.5 L168.2 1388Z" fill="#2389ad" fill-opacity="1.0"/><path d="M169.8 1398.9 L174.6 1403.1 L170.3 1407.3Z" fill="#14708f" fill-opacity="1.0"/><path d="M189.8 1389.6 L194.8 1396.7 L185.9 1399Z" fill="#5fb4d4" fill-opacity="1.0"/><path d="M180.7 1389.7 L187.5 1396.2 L180.4 1399.7Z" fill="#2389ad" fill-opacity="1.0"/><path d="M190.4 1393.8 L183.6 1387.8 L191.3 1388Z" fill="#7cc8e2" fill-opacity="1.0"/><path d="M229.9 1436 L224.1 1427.7 L233.8 1425.3Z" fill="#0d4f78" fill-opacity="1.0"/><path d="M236.9 1418 L237.5 1422.4 L232.7 1418.9Z" fill="#2389ad" fill-opacity="1.0"/><path d="M232.5 1429.1 L228.1 1426.1 L233.1 1421.5Z" fill="#6cc0de" fill-opacity="1.0"/><path d="M225.6 1422.2 L230 1424.1 L224.9 1426.8Z" fill="#0a3858" fill-opacity="1.0"/><path d="M237.5 1422 L239.7 1427.2 L235.6 1427.6Z" fill="#14708f" fill-opacity="1.0"/><path d="M237.4 1420.8 L232 1422.9 L235.5 1415.4Z" fill="#0d4f78" fill-opacity="1.0"/><path d="M226.7 1424.9 L225.5 1415.6 L231 1417.5Z" fill="#0f5f85" fill-opacity="1.0"/><path d="M238.6 1427.9 L234.2 1427 L235.5 1422Z" fill="#1a7a9e" fill-opacity="1.0"/></g>
<g filter="url(#b1)"><path d="M99.6 1588.3 L108.5 1593.5 L102.2 1597.9Z" fill="#0a3858" fill-opacity="1.0"/><path d="M98.6 1594.1 L98.4 1601.1 L92.1 1598.7Z" fill="#7cc8e2" fill-opacity="1.0"/><path d="M128.7 1589.1 L136.1 1586.8 L134.9 1595.7Z" fill="#7cc8e2" fill-opacity="1.0"/><path d="M137.8 1608.9 L139.5 1599.9 L143.7 1604.1Z" fill="#8ad0e8" fill-opacity="1.0"/><path d="M138.1 1611.6 L132.3 1609.9 L137.9 1603.8Z" fill="#7cc8e2" fill-opacity="1.0"/><path d="M159.7 1606 L149.8 1605.9 L153.6 1593.8Z" fill="#14708f" fill-opacity="1.0"/><path d="M156.4 1610.5 L166.2 1612.2 L157.2 1619.4Z" fill="#0a3858" fill-opacity="1.0"/><path d="M171.3 1597.3 L164.4 1591.9 L171.1 1586.5Z" fill="#6cc0de" fill-opacity="1.0"/><path d="M182.3 1603.3 L176.1 1600.7 L179.2 1593Z" fill="#5fb4d4" fill-opacity="1.0"/><path d="M175.3 1625.2 L171.1 1614.4 L179.8 1614.2Z" fill="#0d4f78" fill-opacity="1.0"/><path d="M200.5 1597.6 L194.8 1594.7 L201.5 1587.7Z" fill="#0f5f85" fill-opacity="1.0"/><path d="M204.5 1587.8 L205.8 1599 L199.5 1595.2Z" fill="#2389ad" fill-opacity="1.0"/><path d="M195.9 1595.6 L203.1 1586.1 L204.9 1597.1Z" fill="#0f5f85" fill-opacity="1.0"/><path d="M208.4 1599 L202 1594.3 L208.5 1590.5Z" fill="#2389ad" fill-opacity="1.0"/><path d="M208.8 1595.7 L202.2 1595 L205.4 1586.1Z" fill="#6cc0de" fill-opacity="1.0"/><path d="M194.7 1593.8 L190.9 1589.4 L199.4 1585Z" fill="#6cc0de" fill-opacity="1.0"/><path d="M200.4 1597.1 L193.6 1601.7 L196.8 1592.2Z" fill="#14708f" fill-opacity="1.0"/><path d="M201.5 1593 L208.7 1594 L206.1 1599.8Z" fill="#7cc8e2" fill-opacity="1.0"/><path d="M228.7 1603.3 L226.9 1616.9 L219.5 1605.6Z" fill="#0f5f85" fill-opacity="1.0"/><path d="M223.3 1601 L225 1606.9 L218.9 1606.1Z" fill="#0f5f85" fill-opacity="1.0"/><path d="M210.6 1598.7 L217.8 1593.9 L218 1603.6Z" fill="#0d4f78" fill-opacity="1.0"/><path d="M216 1600.6 L217.1 1613.4 L208.9 1601.7Z" fill="#2389ad" fill-opacity="1.0"/><path d="M215.4 1603.5 L215.5 1596.1 L220.2 1601.7Z" fill="#6cc0de" fill-opacity="1.0"/><path d="M214.5 1597 L214.9 1604.3 L210.6 1598.9Z" fill="#0f5f85" fill-opacity="1.0"/><path d="M225.7 1588.9 L225.1 1601 L221.1 1596.6Z" fill="#8ad0e8" fill-opacity="1.0"/><path d="M213.1 1595.3 L218.3 1599.6 L212.8 1602.5Z" fill="#14708f" fill-opacity="1.0"/><path d="M231.2 1600.9 L225.6 1605.6 L226.9 1596Z" fill="#14708f" fill-opacity="1.0"/><path d="M233.7 1602.6 L225.3 1596.9 L230.9 1593.5Z" fill="#6cc0de" fill-opacity="1.0"/><path d="M232.8 1602.6 L234.7 1592.7 L239.8 1597Z" fill="#7cc8e2" fill-opacity="1.0"/><path d="M227.1 1604.2 L228.2 1593.8 L234.1 1600Z" fill="#2389ad" fill-opacity="1.0"/><path d="M237.6 1587.5 L234.9 1597.4 L228.3 1590.3Z" fill="#5fb4d4" fill-opacity="1.0"/><path d="M230 1604.7 L221.2 1598.9 L229.7 1594.8Z" fill="#14708f" fill-opacity="1.0"/><path d="M252 1594.7 L256.7 1587.4 L259.8 1594.5Z" fill="#2389ad" fill-opacity="1.0"/><path d="M252.2 1598.8 L255 1591.8 L257.7 1597.5Z" fill="#7cc8e2" fill-opacity="1.0"/><path d="M249.1 1594 L255.5 1597.2 L252.1 1602.9Z" fill="#6cc0de" fill-opacity="1.0"/><path d="M258.1 1589.5 L257.1 1604.4 L252.2 1597.1Z" fill="#5fb4d4" fill-opacity="1.0"/><path d="M256.1 1597.5 L251.9 1592.7 L259.3 1591.7Z" fill="#0f5f85" fill-opacity="1.0"/><path d="M316.9 1592.2 L322.7 1593.3 L317.3 1597.9Z" fill="#7cc8e2" fill-opacity="1.0"/><path d="M319.5 1595.4 L318.1 1587 L324.2 1591.4Z" fill="#0f5f85" fill-opacity="1.0"/><path d="M326.7 1590.4 L324.3 1598 L318.9 1589.5Z" fill="#0f5f85" fill-opacity="1.0"/><path d="M342.9 1587.4 L347.3 1593.6 L342.2 1595.1Z" fill="#0d4f78" fill-opacity="1.0"/><path d="M346.2 1586 L343.1 1595.5 L337.8 1588.7Z" fill="#2389ad" fill-opacity="1.0"/><path d="M344.1 1585.8 L343.8 1591.7 L340.3 1586.7Z" fill="#2389ad" fill-opacity="1.0"/><path d="M111.3 1626.7 L117.6 1630.1 L111.5 1632.1Z" fill="#8ad0e8" fill-opacity="1.0"/><path d="M128.8 1630.7 L131.2 1638.5 L123.4 1639.1Z" fill="#5fb4d4" fill-opacity="1.0"/><path d="M124.8 1640.9 L123.1 1629.4 L130.3 1632.7Z" fill="#0d4f78" fill-opacity="1.0"/><path d="M127.4 1629.2 L127.7 1636 L122.4 1635.2Z" fill="#0a3858" fill-opacity="1.0"/><path d="M110.7 1630.6 L109.3 1637.9 L104.1 1632.8Z" fill="#1a7a9e" fill-opacity="1.0"/><path d="M136.7 1631.2 L144.7 1630.5 L142.4 1641.1Z" fill="#2389ad" fill-opacity="1.0"/><path d="M163.8 1645.4 L155.6 1645 L162.6 1636.5Z" fill="#7cc8e2" fill-opacity="1.0"/><path d="M96.5 1660.3 L102 1656.7 L99.4 1667.3Z" fill="#2389ad" fill-opacity="1.0"/><path d="M114.3 1669.2 L117.8 1657.8 L121.9 1666Z" fill="#2389ad" fill-opacity="1.0"/><path d="M140.1 1657.5 L131.5 1661.8 L131.6 1652.3Z" fill="#0a3858" fill-opacity="1.0"/><path d="M147.9 1660.4 L149 1669.6 L145 1668.3Z" fill="#14708f" fill-opacity="1.0"/><path d="M147.5 1661.7 L140.7 1660.9 L145.3 1657.5Z" fill="#2389ad" fill-opacity="1.0"/><path d="M138.4 1672.7 L134.8 1662.8 L139.3 1665.2Z" fill="#0a3858" fill-opacity="1.0"/><path d="M149.3 1657 L144.5 1663.2 L142.6 1652.3Z" fill="#0d4f78" fill-opacity="1.0"/><path d="M138.7 1675.7 L136.2 1668.9 L145 1667.6Z" fill="#5fb4d4" fill-opacity="1.0"/><path d="M127.8 1681.2 L119.5 1674.2 L129.9 1670.8Z" fill="#7cc8e2" fill-opacity="1.0"/><path d="M147.5 1680.5 L140.3 1688.3 L138.6 1679Z" fill="#0d4f78" fill-opacity="1.0"/><path d="M157.3 1684 L150.1 1681.4 L155.1 1676.4Z" fill="#14708f" fill-opacity="1.0"/><path d="M135.3 1691.6 L130 1699.2 L128.5 1692.3Z" fill="#0d4f78" fill-opacity="1.0"/><path d="M154.6 1703.5 L158.4 1694.9 L163.1 1701.3Z" fill="#5fb4d4" fill-opacity="1.0"/><path d="M173.6 1698 L169.9 1689.9 L179.4 1691.8Z" fill="#0a3858" fill-opacity="1.0"/><path d="M184.8 1691.4 L178.1 1686.9 L186.9 1681.6Z" fill="#2389ad" fill-opacity="1.0"/><path d="M202.7 1666.9 L193.5 1664.4 L200.3 1657.8Z" fill="#0a3858" fill-opacity="1.0"/><path d="M193.7 1666 L201 1668.9 L195.1 1671.2Z" fill="#0d4f78" fill-opacity="1.0"/><path d="M186.5 1654.6 L188.9 1662.8 L184.3 1662.7Z" fill="#1a7a9e" fill-opacity="1.0"/><path d="M198.7 1673.5 L193.3 1675 L193.6 1666.2Z" fill="#2389ad" fill-opacity="1.0"/><path d="M189.4 1659.6 L186.1 1664.8 L183.5 1656.9Z" fill="#1a7a9e" fill-opacity="1.0"/><path d="M187.9 1663.2 L189.8 1652.4 L195.2 1658.4Z" fill="#6cc0de" fill-opacity="1.0"/><path d="M201 1649.8 L197.8 1642.3 L203 1637.1Z" fill="#8ad0e8" fill-opacity="1.0"/><path d="M199.5 1640 L200.1 1631.4 L204.6 1639.3Z" fill="#8ad0e8" fill-opacity="1.0"/><path d="M199.9 1643.8 L199.6 1637.1 L206.1 1641.2Z" fill="#0a3858" fill-opacity="1.0"/><path d="M212.4 1629.8 L211.4 1640.1 L206 1635Z" fill="#2389ad" fill-opacity="1.0"/><path d="M216 1640 L209.3 1639.3 L211.7 1633.6Z" fill="#1a7a9e" fill-opacity="1.0"/><path d="M212.6 1639.3 L216.4 1648.4 L210.5 1645.8Z" fill="#0a3858" fill-opacity="1.0"/><path d="M104.2 1706.8 L111.6 1708.5 L103.5 1717.2Z" fill="#2389ad" fill-opacity="1.0"/><path d="M164.5 1713.7 L164.9 1720 L159.2 1718Z" fill="#0a3858" fill-opacity="1.0"/><path d="M188.1 1711.2 L180.5 1711.9 L184.9 1703.7Z" fill="#1a7a9e" fill-opacity="1.0"/><path d="M151.5 1764.4 L159.3 1762.8 L154.1 1774Z" fill="#1a7a9e" fill-opacity="1.0"/><path d="M119.3 1784.4 L117.8 1790 L113.3 1786.3Z" fill="#1a7a9e" fill-opacity="1.0"/><path d="M189.4 1654.6 L182.1 1651.8 L192.2 1642.8Z" fill="#0a3858" fill-opacity="1.0"/><path d="M195.9 1648.8 L186.3 1657.7 L185.7 1646.9Z" fill="#0d4f78" fill-opacity="1.0"/><path d="M188.6 1654.1 L191.5 1646.1 L196 1653.7Z" fill="#2389ad" fill-opacity="1.0"/><path d="M182.3 1656.9 L184.5 1646.9 L189.5 1653.7Z" fill="#14708f" fill-opacity="1.0"/><path d="M187.2 1651.9 L186.6 1659.7 L181.8 1655.9Z" fill="#0f5f85" fill-opacity="1.0"/></g>
<g filter="url(#b1)"><path d="M209.6 1600.5 L209 1608.5 L200.9 1604Z" fill="#2389ad" fill-opacity="1.0"/><path d="M214 1597.1 L219.6 1602.1 L214.9 1607.5Z" fill="#7cc8e2" fill-opacity="1.0"/><path d="M205.5 1596.8 L210.4 1596.9 L206.6 1601Z" fill="#0f5f85" fill-opacity="1.0"/><path d="M213.3 1597 L216.9 1604.5 L212.2 1604.5Z" fill="#5fb4d4" fill-opacity="1.0"/><path d="M208.5 1615.6 L209.7 1606.5 L214.3 1613.4Z" fill="#0f5f85" fill-opacity="1.0"/><path d="M202.2 1601.1 L204.2 1606.7 L196.8 1603.7Z" fill="#2389ad" fill-opacity="1.0"/><path d="M208.7 1601.5 L212.6 1606.5 L207.8 1613Z" fill="#1a7a9e" fill-opacity="1.0"/><path d="M211.1 1601.6 L218.6 1609.2 L212.7 1611.6Z" fill="#14708f" fill-opacity="1.0"/><path d="M218 1598.8 L217.4 1603.8 L212.7 1598.9Z" fill="#2389ad" fill-opacity="1.0"/><path d="M204.2 1602.1 L198.5 1594 L205.2 1594.8Z" fill="#2389ad" fill-opacity="1.0"/><path d="M197.8 1585.5 L203.2 1584.2 L202.6 1596Z" fill="#5fb4d4" fill-opacity="1.0"/><path d="M211.6 1596.1 L214.9 1605.1 L207.3 1602.1Z" fill="#1a7a9e" fill-opacity="1.0"/><path d="M198.3 1613.2 L201 1601.8 L207.4 1608.5Z" fill="#2389ad" fill-opacity="1.0"/><path d="M214.2 1609.4 L212.9 1614.9 L210.4 1612.2Z" fill="#14708f" fill-opacity="1.0"/><path d="M224.8 1588.2 L218.7 1595.3 L218.5 1587.9Z" fill="#2389ad" fill-opacity="1.0"/><path d="M230.2 1604.6 L221.6 1605.6 L222.3 1597.3Z" fill="#0a3858" fill-opacity="1.0"/><path d="M223.8 1593.4 L223 1600.8 L218.2 1597.5Z" fill="#0d4f78" fill-opacity="1.0"/><path d="M222.7 1585.9 L217.5 1592.4 L214.3 1584.2Z" fill="#5fb4d4" fill-opacity="1.0"/><path d="M230.4 1591.8 L226.9 1582.9 L235.4 1585.7Z" fill="#2389ad" fill-opacity="1.0"/><path d="M225.2 1592.7 L224.5 1587.2 L228.7 1590.7Z" fill="#0f5f85" fill-opacity="1.0"/><path d="M215.2 1593.7 L217.4 1585.7 L220.3 1592.3Z" fill="#0f5f85" fill-opacity="1.0"/><path d="M220.5 1589 L222.5 1601.2 L216.6 1599.2Z" fill="#6cc0de" fill-opacity="1.0"/><path d="M233.8 1586.1 L233.5 1591.1 L228.5 1586.6Z" fill="#0d4f78" fill-opacity="1.0"/><path d="M227 1592.8 L223.7 1589 L231 1583.7Z" fill="#14708f" fill-opacity="1.0"/><path d="M187.4 1621.2 L185.4 1631.4 L181 1627.5Z" fill="#8ad0e8" fill-opacity="1.0"/><path d="M179.2 1640.1 L188.1 1643.9 L179.3 1650.9Z" fill="#0a3858" fill-opacity="1.0"/><path d="M206.9 1632 L202.2 1624.6 L208.3 1626.3Z" fill="#0a3858" fill-opacity="1.0"/><path d="M200.1 1633.5 L192 1635.5 L197.3 1624.5Z" fill="#5fb4d4" fill-opacity="1.0"/><path d="M197.5 1658.6 L192.8 1648.7 L200.9 1645.9Z" fill="#0f5f85" fill-opacity="1.0"/><path d="M210.5 1631.6 L208.9 1637.9 L206.6 1631.7Z" fill="#0f5f85" fill-opacity="1.0"/><path d="M195.4 1636.5 L194.7 1643.6 L189.1 1635.6Z" fill="#0a3858" fill-opacity="1.0"/><path d="M197.8 1635.3 L192.6 1639.2 L196.3 1626.7Z" fill="#0f5f85" fill-opacity="1.0"/><path d="M152.1 1604.3 L159 1595.9 L158.5 1606.1Z" fill="#0a3858" fill-opacity="1.0"/><path d="M188.9 1619.7 L182 1624.8 L182.3 1613.5Z" fill="#1a7a9e" fill-opacity="1.0"/><path d="M158.8 1601.9 L167.9 1603 L164.7 1609.6Z" fill="#0d4f78" fill-opacity="1.0"/><path d="M171.4 1618.1 L172 1626.8 L162.3 1621.1Z" fill="#0d4f78" fill-opacity="1.0"/><path d="M173.3 1622.6 L179.3 1622.3 L175.3 1627Z" fill="#7cc8e2" fill-opacity="1.0"/><path d="M177.8 1603.8 L174.3 1613.7 L169.5 1607Z" fill="#0d4f78" fill-opacity="1.0"/><path d="M247.9 1591.4 L252.2 1595.7 L245.4 1597.6Z" fill="#2389ad" fill-opacity="1.0"/><path d="M244.2 1597.8 L250.2 1592.5 L249.7 1600.3Z" fill="#5fb4d4" fill-opacity="1.0"/><path d="M252 1583.2 L256.6 1589.6 L252.6 1594.6Z" fill="#0a3858" fill-opacity="1.0"/><path d="M250.9 1590.5 L251.8 1583.1 L257.1 1587.4Z" fill="#1a7a9e" fill-opacity="1.0"/><path d="M247.8 1580.9 L253.8 1590 L246 1591.1Z" fill="#0a3858" fill-opacity="1.0"/><path d="M247.7 1593.6 L245.4 1588.1 L249.9 1588.7Z" fill="#14708f" fill-opacity="1.0"/><path d="M245.8 1593.1 L249 1589.3 L251.9 1594.1Z" fill="#0f5f85" fill-opacity="1.0"/><path d="M253.7 1595.9 L248 1588.4 L257.8 1589.5Z" fill="#0a3858" fill-opacity="1.0"/></g>
<g filter="url(#b1)"><path d="M476.1 1226.5 L479.7 1222.7 L479.2 1227.2Z" fill="#0f5f85" fill-opacity="1.0"/><path d="M641.8 1222.2 L645.2 1219.7 L645.3 1226.3Z" fill="#0d4f78" fill-opacity="1.0"/></g>
<g filter="url(#b1)"><path d="M640.8 1544.2 L639.1 1538.6 L643.8 1541.2Z" fill="#0a3858" fill-opacity="1.0"/><path d="M638.9 1666.6 L641.9 1668.4 L638.1 1672.3Z" fill="#0d4f78" fill-opacity="1.0"/></g>
<g filter="url(#b1)"><path d="M249.1 1431.5 L246.8 1428.4 L249.8 1426.3Z" fill="#14708f" fill-opacity="1.0"/><path d="M247.6 1430.4 L245.8 1424.1 L250.1 1425.9Z" fill="#0d4f78" fill-opacity="1.0"/><path d="M252.9 1431.7 L248.8 1429.2 L253.9 1424.6Z" fill="#6cc0de" fill-opacity="1.0"/><path d="M251.8 1428 L248.8 1425.9 L252.9 1424.7Z" fill="#5fb4d4" fill-opacity="1.0"/><path d="M257.4 1424.9 L262.6 1424.6 L260.2 1430.6Z" fill="#14708f" fill-opacity="1.0"/><path d="M260.5 1425.2 L263.1 1429.7 L256.7 1430.1Z" fill="#0a3858" fill-opacity="1.0"/><path d="M263 1423.8 L267.4 1426.9 L265.2 1430.1Z" fill="#0f5f85" fill-opacity="1.0"/><path d="M265.4 1425 L265.9 1431.2 L260.9 1429.7Z" fill="#14708f" fill-opacity="1.0"/><path d="M275.2 1430.7 L271.3 1428.1 L273.5 1425.9Z" fill="#0f5f85" fill-opacity="1.0"/><path d="M273.5 1427.4 L270.7 1429.7 L268.6 1426.1Z" fill="#1a7a9e" fill-opacity="1.0"/><path d="M276.5 1432.6 L275.6 1427.9 L280.3 1429.7Z" fill="#0d4f78" fill-opacity="1.0"/><path d="M282.6 1426.5 L278.2 1430.4 L277 1425.9Z" fill="#2389ad" fill-opacity="1.0"/><path d="M281.9 1424.2 L285.2 1428.6 L281 1430.8Z" fill="#1a7a9e" fill-opacity="1.0"/><path d="M279.9 1427.2 L283.4 1427.2 L282.8 1431.2Z" fill="#0a3858" fill-opacity="1.0"/><path d="M289.7 1431.5 L287 1428.5 L291 1428Z" fill="#0d4f78" fill-opacity="1.0"/><path d="M289.5 1430.4 L286.6 1428.5 L290.9 1426.5Z" fill="#1a7a9e" fill-opacity="1.0"/><path d="M363.2 1420.8 L367.7 1424 L361.6 1427Z" fill="#6cc0de" fill-opacity="1.0"/><path d="M365.6 1429 L359.8 1429 L363.9 1424Z" fill="#2389ad" fill-opacity="1.0"/><path d="M369.5 1424.4 L372.4 1427.7 L368.1 1427.6Z" fill="#7cc8e2" fill-opacity="1.0"/><path d="M369.7 1431 L368.3 1427.9 L371.2 1426.5Z" fill="#0f5f85" fill-opacity="1.0"/><path d="M373.4 1426.4 L379.7 1422.7 L378.3 1428.7Z" fill="#7cc8e2" fill-opacity="1.0"/><path d="M382.1 1427.5 L377.6 1431.9 L377 1425.5Z" fill="#0f5f85" fill-opacity="1.0"/><path d="M387.5 1422.2 L387.7 1430.1 L383.4 1425.1Z" fill="#0d4f78" fill-opacity="1.0"/><path d="M388.4 1424.1 L388.1 1428.6 L385.2 1427.2Z" fill="#7cc8e2" fill-opacity="1.0"/><path d="M395.6 1423.7 L395.4 1430.3 L392.5 1427.8Z" fill="#7cc8e2" fill-opacity="1.0"/><path d="M391 1430.1 L394 1422.7 L395.2 1431.2Z" fill="#2389ad" fill-opacity="1.0"/></g>
<g filter="url(#b1)"><path d="M312.2 1590.4 L313.2 1587 L316.7 1588.4Z" fill="#2389ad" fill-opacity="1.0"/><path d="M312.1 1588 L316.2 1589.3 L314.5 1592.5Z" fill="#7cc8e2" fill-opacity="1.0"/><path d="M317.2 1593.3 L317.9 1587.6 L321.4 1591.8Z" fill="#6cc0de" fill-opacity="1.0"/><path d="M318.2 1588 L320.3 1592.6 L315.3 1590.3Z" fill="#14708f" fill-opacity="1.0"/><path d="M322.8 1589.1 L326.8 1590.1 L324 1593.5Z" fill="#6cc0de" fill-opacity="1.0"/><path d="M322.8 1587.5 L327.1 1591.6 L324 1592.8Z" fill="#6cc0de" fill-opacity="1.0"/><path d="M330.3 1591.3 L330.3 1586.2 L332.7 1588.2Z" fill="#0d4f78" fill-opacity="1.0"/><path d="M325.3 1586.5 L331.4 1586.2 L328.3 1592.3Z" fill="#0a3858" fill-opacity="1.0"/><path d="M339.8 1587.5 L337.8 1592.4 L334.9 1588.4Z" fill="#0a3858" fill-opacity="1.0"/><path d="M336.1 1593 L331.9 1591.4 L338 1588.2Z" fill="#1a7a9e" fill-opacity="1.0"/><path d="M342.7 1586.7 L340.1 1592 L338.2 1586Z" fill="#8ad0e8" fill-opacity="1.0"/><path d="M338.5 1588 L342.9 1588.9 L338.7 1595.2Z" fill="#2389ad" fill-opacity="1.0"/><path d="M343.8 1592.1 L345.8 1587.3 L350.3 1590.2Z" fill="#1a7a9e" fill-opacity="1.0"/><path d="M348.4 1591.5 L345.4 1586.6 L349.5 1586.7Z" fill="#1a7a9e" fill-opacity="1.0"/><path d="M350.1 1585.4 L353.1 1591.1 L349 1591.7Z" fill="#0a3858" fill-opacity="1.0"/><path d="M349.9 1587.7 L353.8 1585.9 L355 1591.2Z" fill="#14708f" fill-opacity="1.0"/><path d="M357.2 1594.8 L354.4 1589.2 L358.2 1588.5Z" fill="#2389ad" fill-opacity="1.0"/><path d="M359.6 1584.1 L360.3 1591 L355.1 1590.2Z" fill="#1a7a9e" fill-opacity="1.0"/><path d="M359.5 1587.9 L364 1585.6 L364.4 1592.7Z" fill="#2389ad" fill-opacity="1.0"/><path d="M360.9 1592 L358.6 1585.6 L363.6 1585.8Z" fill="#0f5f85" fill-opacity="1.0"/><path d="M368.2 1593.2 L365.9 1590.2 L369.5 1588.2Z" fill="#0d4f78" fill-opacity="1.0"/><path d="M367.1 1593.3 L363.8 1591.2 L367.3 1588.9Z" fill="#7cc8e2" fill-opacity="1.0"/><path d="M374.2 1588 L371.3 1591.7 L370.3 1587.7Z" fill="#6cc0de" fill-opacity="1.0"/><path d="M369.9 1586.2 L375.2 1585.9 L372 1590.8Z" fill="#0a3858" fill-opacity="1.0"/><path d="M379.6 1583.2 L381.6 1590.5 L377.9 1587.9Z" fill="#0a3858" fill-opacity="1.0"/><path d="M381.8 1591.4 L378.2 1591.8 L378.5 1588.1Z" fill="#1a7a9e" fill-opacity="1.0"/><path d="M383.4 1589 L387.7 1593.1 L382.6 1595.6Z" fill="#0f5f85" fill-opacity="1.0"/><path d="M384.3 1586.3 L385.7 1592.4 L380 1591.8Z" fill="#0f5f85" fill-opacity="1.0"/><path d="M390.9 1589.1 L386.9 1591.8 L386.1 1584.7Z" fill="#14708f" fill-opacity="1.0"/><path d="M390.9 1589.7 L386.9 1591.5 L386 1584.7Z" fill="#2389ad" fill-opacity="1.0"/><path d="M393.5 1590.8 L396.9 1585.9 L397.9 1593.3Z" fill="#2389ad" fill-opacity="1.0"/><path d="M398.2 1586.7 L394.1 1591.6 L392.4 1585.1Z" fill="#0d4f78" fill-opacity="1.0"/><path d="M395.4 1589.4 L398.4 1586.4 L401.1 1593Z" fill="#8ad0e8" fill-opacity="1.0"/><path d="M403.1 1587.4 L403.2 1592.6 L397.7 1589.2Z" fill="#2389ad" fill-opacity="1.0"/><path d="M406.5 1589.1 L401.9 1589.9 L402.5 1584Z" fill="#14708f" fill-opacity="1.0"/><path d="M407.1 1587.8 L409.3 1592.1 L404.3 1589.8Z" fill="#7cc8e2" fill-opacity="1.0"/></g>
<path d="M92 1435 L445 1435 C500 1440 555 1465 582.4 1509 C555 1552 500 1578 445 1584.7 L92 1584.7Z" fill="url(#redC)" filter="url(#b1)"/>
<ellipse cx="298.7" cy="1341.7" rx="36" ry="83" fill="none" stroke="#f5f53c" stroke-width="4.6"/>
<ellipse cx="297" cy="1660" rx="35.5" ry="72" fill="none" stroke="#f5f53c" stroke-width="4.6"/>
<ellipse cx="531" cy="1441" rx="42" ry="42" fill="none" stroke="#f5f53c" stroke-width="4.6"/>
<ellipse cx="531" cy="1577.4" rx="42" ry="42" fill="none" stroke="#f5f53c" stroke-width="4.6"/>
</g>
<g clip-path="url(#caR)">
<g filter="url(#b1)">
<path d="M1165.1 12.3 L1171.8 13.9 L1170.8 20.7 L1177.5 22.4 L1176.5 29.2 L1183.2 30.8 L1182.2 37.6 L1188.9 39.3 L1187.9 46.1 L1194.6 47.7 L1193.6 54.5 L1200.3 56.2 L1199.3 63 L1206 64.6 L1205 71.4 L1211.7 73.1 L1210.7 79.9 L1217.4 81.5 L1216.4 88.3 L1223.1 90 L1222.1 96.8 L1228.8 98.4 L1227.8 105.2 L1234.5 106.9 L1233.5 113.7 L1240.2 115.3 L1239.2 122.1 L1245.9 123.8 L1244.9 130.6 L1251.6 132.2 L1250.6 139 L1257.3 140.7 L1256.3 147.5 L1263 149.1 L1262 155.9 L1268.7 157.6 L1267.7 164.4 L1274.4 166 L1273.4 172.8 L1280.1 174.5 L1279.1 181.3 L1285.8 182.9 L1284.8 189.7 L1291.5 191.4 L1290.5 198.2 L1297.2 199.8 L1296.2 206.6 L1302.9 208.3 L1301.9 215.1 L1308.6 216.7 L1307.6 223.5 L1314.3 225.2 L1313.3 232 L1320 233.6 L1319 240.4 L1325.7 242.1 L1324.7 248.9 L1331.4 250.5 L1330.4 257.3 L1337.1 259 L1336.1 265.8 L1342.8 267.4 L1341.8 274.2 L1348.5 275.9 L1347.5 282.7 L1354.2 284.3 L1353.2 291.1 L1359.9 292.8 L1358.9 299.6 L1365.6 301.2 L1364.6 308 L1371.3 309.7 L1370.3 316.5 L1377 318.1 L1376 324.9 L1382.7 326.6 L1381.7 333.4 L1388.4 335 L1387.4 341.8 L1394.1 343.5 L1394 346.9 L1390.1 353.8 L1382.3 352.3 L1378.3 359.2 L1370.5 357.7 L1366.5 364.6 L1358.7 363.1 L1354.7 370 L1346.9 368.5 L1343 375.4 L1335.2 373.9 L1331.2 380.8 L1323.4 379.3 L1319.4 386.2 L1311.6 384.7 L1307.6 391.6 L1299.8 390.1 L1295.9 397 L1288.1 395.5 L1284.1 402.4 L1276.3 400.9 L1272.3 407.8 L1264.5 406.3 L1260.5 413.2 L1252.7 411.7 L1248.8 418.6 L1241 417.1 L1237 424 L1229.2 422.5 L1225.2 429.4 L1217.4 427.9 L1213.4 434.8 L1205.6 433.3 L1201.7 440.2 L1193.9 438.7 L1189.9 445.6 L1182.1 444.1 L1178.1 451 L1170.3 449.5 L1166.3 456.4 L1158.5 454.9 L1154.6 461.8 L1146.8 460.3 L1142.8 467.2 L1135 465.7 L1131 472.6 L1123.2 471.1 L1119.2 478 L1111.4 476.5 L1107.5 483.4 L1099.7 481.9 L1095.7 488.8 L1087.9 487.3 L1083.9 494.2 L1076.1 492.7 L1072.1 499.6 L1064.3 498.1 L1060.4 505 L1052.6 503.5 L1048.6 510.4 L1040.8 508.9 L1036.8 515.8 L1029 514.3 L1025 521.2 L1017.2 519.7 L1013.3 526.6 L1005.5 525.1 L1001.5 532 L993.7 530.5 L989.7 537.4 L981.9 535.9 L977.9 542.8 L970.1 541.3 L966.2 548.2 L958.4 546.7 L954.4 553.6 L946.6 552.1 L942.6 559 L934.8 557.5 L930.8 564.4 L925.9 563.7 L919.2 562.1 L919.9 555.3 L913.2 553.8 L914 546.9 L907.3 545.4 L908.1 538.5 L901.3 537 L902.1 530.2 L895.4 528.6 L896.2 521.8 L889.5 520.3 L890.3 513.4 L883.5 511.9 L884.3 505 L877.6 503.5 L878.4 496.7 L871.7 495.1 L872.4 488.3 L865.7 486.8 L866.5 479.9 L859.8 478.4 L860.6 471.5 L853.8 470 L854.6 463.2 L847.9 461.6 L848.7 454.8 L842 453.3 L842.8 446.4 L836 444.9 L836.8 438 L830.1 436.5 L829.5 432 L830.9 426.9 L835.8 428.6 L838.5 426.1 L842.2 425.3 L844.3 421.6 L848.5 422 L850.2 418 L854.5 418.8 L856.4 415.2 L860.5 415.6 L861.8 410.7 L867.1 411.4 L865 408.5 L866.6 405.4 L862.7 402.6 L866.1 399.7 L864.2 395.8 L867.8 393.5 L865 389.4 L869.6 387.2 L869.5 383.5 L870.8 380 L870.3 376.3 L871.8 371.9 L868.2 370.3 L866.8 366.6 L861.7 366.4 L861 360.9 L857.7 361.4 L854.4 360.9 L851.1 362.2 L847.8 360.8 L844.4 363.7 L841.1 360.8 L837.8 364.6 L834.7 360.7 L830.3 361.2 L826.2 359.5 L821.7 360.9 L817.7 358.3 L814.1 360.7 L811.2 357.5 L807.6 360 L804.7 356.7 L801 359.4 L798.3 355.9 L793.2 357.7 L789.9 353.5 L785.3 353.5 L783.1 350.8 L776.4 349.1 L777.4 342.3 L770.8 340.7 L771.8 333.9 L765.1 332.2 L766.1 325.4 L759.4 323.7 L760.4 316.9 L753.7 315.3 L754.7 308.5 L748 306.8 L749 300 L742.4 298.3 L743.4 291.5 L736.7 289.8 L737.7 283 L731 281.4 L732 274.6 L725.3 272.9 L726.3 266.1 L719.6 264.4 L720.6 257.6 L714 255.9 L715 249.1 L708.3 247.5 L709.3 240.7 L702.6 239 L703.6 232.2 L696.9 230.5 L697 227.1 L700.9 220.2 L708.7 221.7 L712.7 214.9 L720.5 216.4 L724.5 209.5 L732.3 211 L736.3 204.2 L744.1 205.7 L748 198.8 L755.8 200.3 L759.8 193.5 L767.6 195 L771.6 188.1 L779.4 189.6 L783.4 182.8 L791.2 184.3 L795.1 177.4 L802.9 178.9 L806.9 172.1 L814.7 173.6 L818.7 166.7 L826.5 168.2 L830.5 161.4 L838.3 162.9 L842.2 156 L850 157.5 L854 150.7 L861.8 152.2 L865.8 145.3 L873.6 146.8 L877.6 140 L885.4 141.5 L889.3 134.6 L897.1 136.1 L901.1 129.3 L908.9 130.8 L912.9 123.9 L920.7 125.4 L924.7 118.6 L932.5 120.1 L936.4 113.2 L944.2 114.7 L948.2 107.9 L956 109.4 L960 102.5 L967.8 104 L971.8 97.2 L979.6 98.7 L983.5 91.8 L991.3 93.3 L995.3 86.5 L1003.1 88 L1007.1 81.1 L1014.9 82.6 L1018.9 75.8 L1026.7 77.3 L1030.6 70.4 L1038.4 71.9 L1042.4 65.1 L1050.2 66.6 L1054.2 59.7 L1062 61.2 L1066 54.4 L1073.8 55.9 L1077.7 49 L1085.5 50.5 L1089.5 43.7 L1097.3 45.2 L1101.3 38.3 L1109.1 39.8 L1113.1 33 L1120.9 34.5 L1124.8 27.6 L1132.6 29.1 L1136.6 22.3 L1144.4 23.8 L1148.4 16.9 L1156.2 18.4 L1160.2 11.6Z" fill="url(#pA)" stroke="#1a1a92" stroke-width="1.2" stroke-linejoin="miter"/>
<g clip-path="url(#kA)">
<path d="M1165.1 12.3 L1171.8 13.9 L1170.8 20.7 L1177.5 22.4 L1176.5 29.2 L1183.2 30.8 L1182.2 37.6 L1188.9 39.3 L1187.9 46.1 L1194.6 47.7 L1193.6 54.5 L1200.3 56.2 L1199.3 63 L1206 64.6 L1205 71.4 L1211.7 73.1 L1210.7 79.9 L1217.4 81.5 L1216.4 88.3 L1223.1 90 L1222.1 96.8 L1228.8 98.4 L1227.8 105.2 L1234.5 106.9 L1233.5 113.7 L1240.2 115.3 L1239.2 122.1 L1245.9 123.8 L1244.9 130.6 L1251.6 132.2 L1250.6 139 L1257.3 140.7 L1256.3 147.5 L1263 149.1 L1262 155.9 L1268.7 157.6 L1267.7 164.4 L1274.4 166 L1273.4 172.8 L1280.1 174.5 L1279.1 181.3 L1285.8 182.9 L1284.8 189.7 L1291.5 191.4 L1290.5 198.2 L1297.2 199.8 L1296.2 206.6 L1302.9 208.3 L1301.9 215.1 L1308.6 216.7 L1307.6 223.5 L1314.3 225.2 L1313.3 232 L1320 233.6 L1319 240.4 L1325.7 242.1 L1324.7 248.9 L1331.4 250.5 L1330.4 257.3 L1337.1 259 L1336.1 265.8 L1342.8 267.4 L1341.8 274.2 L1348.5 275.9 L1347.5 282.7 L1354.2 284.3 L1353.2 291.1 L1359.9 292.8 L1358.9 299.6 L1365.6 301.2 L1364.6 308 L1371.3 309.7 L1370.3 316.5 L1377 318.1 L1376 324.9 L1382.7 326.6 L1381.7 333.4 L1388.4 335 L1387.4 341.8 L1394.1 343.5 L1394 346.9 L1390.1 353.8 L1382.3 352.3 L1378.3 359.2 L1370.5 357.7 L1366.5 364.6 L1358.7 363.1 L1354.7 370 L1346.9 368.5 L1343 375.4 L1335.2 373.9 L1331.2 380.8 L1323.4 379.3 L1319.4 386.2 L1311.6 384.7 L1307.6 391.6 L1299.8 390.1 L1295.9 397 L1288.1 395.5 L1284.1 402.4 L1276.3 400.9 L1272.3 407.8 L1264.5 406.3 L1260.5 413.2 L1252.7 411.7 L1248.8 418.6 L1241 417.1 L1237 424 L1229.2 422.5 L1225.2 429.4 L1217.4 427.9 L1213.4 434.8 L1205.6 433.3 L1201.7 440.2 L1193.9 438.7 L1189.9 445.6 L1182.1 444.1 L1178.1 451 L1170.3 449.5 L1166.3 456.4 L1158.5 454.9 L1154.6 461.8 L1146.8 460.3 L1142.8 467.2 L1135 465.7 L1131 472.6 L1123.2 471.1 L1119.2 478 L1111.4 476.5 L1107.5 483.4 L1099.7 481.9 L1095.7 488.8 L1087.9 487.3 L1083.9 494.2 L1076.1 492.7 L1072.1 499.6 L1064.3 498.1 L1060.4 505 L1052.6 503.5 L1048.6 510.4 L1040.8 508.9 L1036.8 515.8 L1029 514.3 L1025 521.2 L1017.2 519.7 L1013.3 526.6 L1005.5 525.1 L1001.5 532 L993.7 530.5 L989.7 537.4 L981.9 535.9 L977.9 542.8 L970.1 541.3 L966.2 548.2 L958.4 546.7 L954.4 553.6 L946.6 552.1 L942.6 559 L934.8 557.5 L930.8 564.4 L925.9 563.7 L919.2 562.1 L919.9 555.3 L913.2 553.8 L914 546.9 L907.3 545.4 L908.1 538.5 L901.3 537 L902.1 530.2 L895.4 528.6 L896.2 521.8 L889.5 520.3 L890.3 513.4 L883.5 511.9 L884.3 505 L877.6 503.5 L878.4 496.7 L871.7 495.1 L872.4 488.3 L865.7 486.8 L866.5 479.9 L859.8 478.4 L860.6 471.5 L853.8 470 L854.6 463.2 L847.9 461.6 L848.7 454.8 L842 453.3 L842.8 446.4 L836 444.9 L836.8 438 L830.1 436.5 L829.5 432 L830.9 426.9 L835.8 428.6 L838.5 426.1 L842.2 425.3 L844.3 421.6 L848.5 422 L850.2 418 L854.5 418.8 L856.4 415.2 L860.5 415.6 L861.8 410.7 L867.1 411.4 L865 408.5 L866.6 405.4 L862.7 402.6 L866.1 399.7 L864.2 395.8 L867.8 393.5 L865 389.4 L869.6 387.2 L869.5 383.5 L870.8 380 L870.3 376.3 L871.8 371.9 L868.2 370.3 L866.8 366.6 L861.7 366.4 L861 360.9 L857.7 361.4 L854.4 360.9 L851.1 362.2 L847.8 360.8 L844.4 363.7 L841.1 360.8 L837.8 364.6 L834.7 360.7 L830.3 361.2 L826.2 359.5 L821.7 360.9 L817.7 358.3 L814.1 360.7 L811.2 357.5 L807.6 360 L804.7 356.7 L801 359.4 L798.3 355.9 L793.2 357.7 L789.9 353.5 L785.3 353.5 L783.1 350.8 L776.4 349.1 L777.4 342.3 L770.8 340.7 L771.8 333.9 L765.1 332.2 L766.1 325.4 L759.4 323.7 L760.4 316.9 L753.7 315.3 L754.7 308.5 L748 306.8 L749 300 L742.4 298.3 L743.4 291.5 L736.7 289.8 L737.7 283 L731 281.4 L732 274.6 L725.3 272.9 L726.3 266.1 L719.6 264.4 L720.6 257.6 L714 255.9 L715 249.1 L708.3 247.5 L709.3 240.7 L702.6 239 L703.6 232.2 L696.9 230.5 L697 227.1 L700.9 220.2 L708.7 221.7 L712.7 214.9 L720.5 216.4 L724.5 209.5 L732.3 211 L736.3 204.2 L744.1 205.7 L748 198.8 L755.8 200.3 L759.8 193.5 L767.6 195 L771.6 188.1 L779.4 189.6 L783.4 182.8 L791.2 184.3 L795.1 177.4 L802.9 178.9 L806.9 172.1 L814.7 173.6 L818.7 166.7 L826.5 168.2 L830.5 161.4 L838.3 162.9 L842.2 156 L850 157.5 L854 150.7 L861.8 152.2 L865.8 145.3 L873.6 146.8 L877.6 140 L885.4 141.5 L889.3 134.6 L897.1 136.1 L901.1 129.3 L908.9 130.8 L912.9 123.9 L920.7 125.4 L924.7 118.6 L932.5 120.1 L936.4 113.2 L944.2 114.7 L948.2 107.9 L956 109.4 L960 102.5 L967.8 104 L971.8 97.2 L979.6 98.7 L983.5 91.8 L991.3 93.3 L995.3 86.5 L1003.1 88 L1007.1 81.1 L1014.9 82.6 L1018.9 75.8 L1026.7 77.3 L1030.6 70.4 L1038.4 71.9 L1042.4 65.1 L1050.2 66.6 L1054.2 59.7 L1062 61.2 L1066 54.4 L1073.8 55.9 L1077.7 49 L1085.5 50.5 L1089.5 43.7 L1097.3 45.2 L1101.3 38.3 L1109.1 39.8 L1113.1 33 L1120.9 34.5 L1124.8 27.6 L1132.6 29.1 L1136.6 22.3 L1144.4 23.8 L1148.4 16.9 L1156.2 18.4 L1160.2 11.6Z" fill="none" stroke="#181884" stroke-width="7" stroke-opacity=".7"/>
<ellipse cx="852" cy="352" rx="26" ry="9" fill="#1f9fd2" fill-opacity="0.56" transform="rotate(10 852 352)" filter="url(#b4)"/>
<ellipse cx="812" cy="350" rx="20" ry="7" fill="#2a90cc" fill-opacity="0.45" transform="rotate(8 812 350)" filter="url(#b4)"/>
<ellipse cx="858" cy="356" rx="12" ry="5" fill="#3fd08a" fill-opacity="0.6" transform="rotate(15 858 356)" filter="url(#b2)"/>
<ellipse cx="880" cy="376" rx="9" ry="16" fill="#22b0c0" fill-opacity="0.56" transform="rotate(-20 880 376)" filter="url(#b4)"/>
<ellipse cx="876" cy="390" rx="6" ry="10" fill="#45cc70" fill-opacity="0.52" transform="rotate(-15 876 390)" filter="url(#b2)"/>
<ellipse cx="905" cy="345" rx="22" ry="9" fill="#2590d0" fill-opacity="0.38" transform="rotate(30 905 345)" filter="url(#b4)"/>
<ellipse cx="846" cy="438" rx="16" ry="10" fill="#25a8c0" fill-opacity="0.6" transform="rotate(45 846 438)" filter="url(#b4)"/>
<ellipse cx="856" cy="446" rx="8" ry="12" fill="#48c878" fill-opacity="0.52" transform="rotate(-35 856 446)" filter="url(#b2)"/>
<ellipse cx="905" cy="402" rx="14" ry="7" fill="#2a98d0" fill-opacity="0.38" transform="rotate(0 905 402)" filter="url(#b4)"/>
<ellipse cx="940" cy="432" rx="18" ry="5" fill="#2a9fd2" fill-opacity="0.38" transform="rotate(-25 940 432)" filter="url(#b4)"/>
<ellipse cx="1028" cy="470" rx="9" ry="45" fill="#2c8fd0" fill-opacity="0.38" transform="rotate(-25 1028 470)" filter="url(#b4)"/>
<ellipse cx="1052" cy="502" rx="6" ry="18" fill="#25a0d0" fill-opacity="0.38" transform="rotate(-25 1052 502)" filter="url(#b4)"/>
<ellipse cx="928" cy="548" rx="14" ry="6" fill="#2a8fd0" fill-opacity="0.3" transform="rotate(-25 928 548)" filter="url(#b4)"/>
<ellipse cx="1045" cy="510" rx="8" ry="8" fill="#25a0c8" fill-opacity="0.3" transform="rotate(0 1045 510)" filter="url(#b4)"/>
<ellipse cx="1010" cy="300" rx="110" ry="260" fill="#5c5cac" fill-opacity="0.25" transform="rotate(-34 1010 300)" filter="url(#b8)"/>
<ellipse cx="770" cy="270" rx="70" ry="60" fill="#1c1c90" fill-opacity="0.35" transform="rotate(0 770 270)" filter="url(#b8)"/>
<ellipse cx="1285" cy="230" rx="45" ry="200" fill="#1c1c90" fill-opacity="0.3" transform="rotate(-34 1285 230)" filter="url(#b8)"/>
<ellipse cx="930" cy="480" rx="60" ry="90" fill="#1c1c90" fill-opacity="0.3" transform="rotate(-34 930 480)" filter="url(#b8)"/>
</g>
<ellipse cx="1243.7" cy="152.1" rx="2.3" ry="1.2" fill="#f4f4fb" fill-opacity="0.9" transform="rotate(20 1243.7 152.1)"/><ellipse cx="883.6" cy="256.9" rx="2" ry="1" fill="#f4f4fb" fill-opacity="0.9" transform="rotate(20 883.6 256.9)"/><ellipse cx="770" cy="275.2" rx="2.9" ry="2.4" fill="#f4f4fb" fill-opacity="0.9" transform="rotate(20 770 275.2)"/><ellipse cx="751.4" cy="261.9" rx="1.8" ry="1.4" fill="#f4f4fb" fill-opacity="0.9" transform="rotate(35 751.4 261.9)"/><ellipse cx="1144.1" cy="389.4" rx="2.5" ry="2" fill="#f4f4fb" fill-opacity="0.9" transform="rotate(20 1144.1 389.4)"/><ellipse cx="977.4" cy="385.1" rx="2.9" ry="1.7" fill="#f4f4fb" fill-opacity="0.9" transform="rotate(-60 977.4 385.1)"/><ellipse cx="874.7" cy="325.7" rx="1.7" ry="1.4" fill="#f4f4fb" fill-opacity="0.9" transform="rotate(-60 874.7 325.7)"/><ellipse cx="1219.9" cy="110.5" rx="1.6" ry="1" fill="#f4f4fb" fill-opacity="0.9" transform="rotate(35 1219.9 110.5)"/><ellipse cx="1319.3" cy="325.8" rx="2.5" ry="1.5" fill="#f4f4fb" fill-opacity="0.9" transform="rotate(20 1319.3 325.8)"/><ellipse cx="1267.2" cy="397.1" rx="2.5" ry="1.5" fill="#f4f4fb" fill-opacity="0.9" transform="rotate(35 1267.2 397.1)"/><ellipse cx="1242.1" cy="141.9" rx="2.9" ry="1.7" fill="#f4f4fb" fill-opacity="0.9" transform="rotate(-60 1242.1 141.9)"/><ellipse cx="1241.9" cy="143.8" rx="1.6" ry="0.9" fill="#f4f4fb" fill-opacity="0.9" transform="rotate(20 1241.9 143.8)"/><ellipse cx="833" cy="332.5" rx="2.5" ry="1.5" fill="#f4f4fb" fill-opacity="0.9" transform="rotate(35 833 332.5)"/><ellipse cx="742.8" cy="267.3" rx="2.6" ry="2" fill="#f4f4fb" fill-opacity="0.9" transform="rotate(35 742.8 267.3)"/><ellipse cx="1234.5" cy="186.9" rx="2" ry="1.2" fill="#f4f4fb" fill-opacity="0.9" transform="rotate(20 1234.5 186.9)"/><ellipse cx="1344.4" cy="352.2" rx="2.2" ry="1.6" fill="#f4f4fb" fill-opacity="0.9" transform="rotate(35 1344.4 352.2)"/><ellipse cx="1351" cy="318.9" rx="2.5" ry="1.3" fill="#f4f4fb" fill-opacity="0.9" transform="rotate(-25 1351 318.9)"/><ellipse cx="1194" cy="416.1" rx="2.9" ry="2.2" fill="#f4f4fb" fill-opacity="0.9" transform="rotate(-25 1194 416.1)"/><ellipse cx="1373.6" cy="350.4" rx="2.6" ry="2.2" fill="#f4f4fb" fill-opacity="0.9" transform="rotate(20 1373.6 350.4)"/><ellipse cx="1155.2" cy="45.7" rx="1.8" ry="1.2" fill="#f4f4fb" fill-opacity="0.9" transform="rotate(35 1155.2 45.7)"/><ellipse cx="883.5" cy="214.4" rx="2" ry="1.3" fill="#f4f4fb" fill-opacity="0.9" transform="rotate(-25 883.5 214.4)"/><ellipse cx="1263.7" cy="366.1" rx="2.8" ry="1.6" fill="#f4f4fb" fill-opacity="0.9" transform="rotate(20 1263.7 366.1)"/><ellipse cx="1167.1" cy="370.6" rx="2.8" ry="2" fill="#f4f4fb" fill-opacity="0.9" transform="rotate(-60 1167.1 370.6)"/><ellipse cx="1203.3" cy="211.7" rx="1.7" ry="1.4" fill="#f4f4fb" fill-opacity="0.9" transform="rotate(-25 1203.3 211.7)"/><ellipse cx="836.9" cy="266.8" rx="2.7" ry="2.4" fill="#f4f4fb" fill-opacity="0.9" transform="rotate(35 836.9 266.8)"/><ellipse cx="747.2" cy="258.1" rx="2.9" ry="1.7" fill="#f4f4fb" fill-opacity="0.9" transform="rotate(20 747.2 258.1)"/><ellipse cx="1180.2" cy="83" rx="2.4" ry="1.6" fill="#f4f4fb" fill-opacity="0.9" transform="rotate(20 1180.2 83)"/><ellipse cx="1343.5" cy="320.2" rx="2.4" ry="2" fill="#f4f4fb" fill-opacity="0.9" transform="rotate(-60 1343.5 320.2)"/><ellipse cx="1276.9" cy="246.3" rx="2.2" ry="1.1" fill="#f4f4fb" fill-opacity="0.9" transform="rotate(-25 1276.9 246.3)"/><ellipse cx="1299.8" cy="209.3" rx="2" ry="1.5" fill="#f4f4fb" fill-opacity="0.9" transform="rotate(-60 1299.8 209.3)"/><ellipse cx="1296.4" cy="327.1" rx="2.8" ry="2.2" fill="#f4f4fb" fill-opacity="0.9" transform="rotate(35 1296.4 327.1)"/><ellipse cx="1356.9" cy="352.8" rx="2.5" ry="2" fill="#f4f4fb" fill-opacity="0.9" transform="rotate(-25 1356.9 352.8)"/><ellipse cx="1351.9" cy="314.4" rx="1.8" ry="1" fill="#f4f4fb" fill-opacity="0.9" transform="rotate(-25 1351.9 314.4)"/><ellipse cx="889.5" cy="299.2" rx="2.3" ry="1.9" fill="#f4f4fb" fill-opacity="0.9" transform="rotate(35 889.5 299.2)"/><ellipse cx="879.8" cy="216.9" rx="2" ry="1.8" fill="#f4f4fb" fill-opacity="0.9" transform="rotate(-25 879.8 216.9)"/><ellipse cx="1176.1" cy="26.9" rx="1.6" ry="1.3" fill="#f4f4fb" fill-opacity="0.9" transform="rotate(20 1176.1 26.9)"/><ellipse cx="1189.1" cy="112.8" rx="2" ry="1" fill="#f4f4fb" fill-opacity="0.9" transform="rotate(20 1189.1 112.8)"/><ellipse cx="1187.1" cy="110.4" rx="1.7" ry="1.1" fill="#f4f4fb" fill-opacity="0.9" transform="rotate(-25 1187.1 110.4)"/><ellipse cx="1039.5" cy="466.6" rx="2.1" ry="1.1" fill="#f4f4fb" fill-opacity="0.9" transform="rotate(-60 1039.5 466.6)"/><ellipse cx="1326" cy="334.7" rx="2.9" ry="1.6" fill="#f4f4fb" fill-opacity="0.9" transform="rotate(20 1326 334.7)"/><ellipse cx="1077.8" cy="186.1" rx="1.8" ry="1" fill="#f4f4fb" fill-opacity="0.9" transform="rotate(35 1077.8 186.1)"/><ellipse cx="1158.8" cy="110.3" rx="1.8" ry="1.1" fill="#f4f4fb" fill-opacity="0.9" transform="rotate(20 1158.8 110.3)"/><ellipse cx="1315.7" cy="295.3" rx="2.8" ry="1.4" fill="#f4f4fb" fill-opacity="0.9" transform="rotate(-25 1315.7 295.3)"/><ellipse cx="984.8" cy="311.3" rx="1.6" ry="1.1" fill="#f4f4fb" fill-opacity="0.9" transform="rotate(20 984.8 311.3)"/><ellipse cx="1245.2" cy="170.3" rx="1.6" ry="1.1" fill="#f4f4fb" fill-opacity="0.9" transform="rotate(20 1245.2 170.3)"/><ellipse cx="853.7" cy="232.1" rx="1.6" ry="1.3" fill="#f4f4fb" fill-opacity="0.9" transform="rotate(35 853.7 232.1)"/><ellipse cx="779.5" cy="222.4" rx="1.6" ry="1" fill="#f4f4fb" fill-opacity="0.9" transform="rotate(35 779.5 222.4)"/><ellipse cx="1158.3" cy="116.1" rx="1.9" ry="1.5" fill="#f4f4fb" fill-opacity="0.9" transform="rotate(-60 1158.3 116.1)"/><ellipse cx="1338.7" cy="293.4" rx="1.9" ry="1.3" fill="#f4f4fb" fill-opacity="0.9" transform="rotate(-25 1338.7 293.4)"/><ellipse cx="742" cy="211.5" rx="2.9" ry="2.1" fill="#f4f4fb" fill-opacity="0.9" transform="rotate(35 742 211.5)"/><ellipse cx="1322.9" cy="254.5" rx="2.4" ry="1.4" fill="#f4f4fb" fill-opacity="0.9" transform="rotate(-25 1322.9 254.5)"/><ellipse cx="1207.7" cy="77.2" rx="1.7" ry="0.9" fill="#f4f4fb" fill-opacity="0.9" transform="rotate(20 1207.7 77.2)"/><ellipse cx="762.1" cy="265.8" rx="2.2" ry="1.9" fill="#f4f4fb" fill-opacity="0.9" transform="rotate(35 762.1 265.8)"/><ellipse cx="820.9" cy="341.6" rx="2.9" ry="1.7" fill="#f4f4fb" fill-opacity="0.9" transform="rotate(-25 820.9 341.6)"/><ellipse cx="769.1" cy="302.7" rx="1.9" ry="1.4" fill="#f4f4fb" fill-opacity="0.9" transform="rotate(20 769.1 302.7)"/><ellipse cx="1283.1" cy="199.5" rx="2.9" ry="1.9" fill="#f4f4fb" fill-opacity="0.9" transform="rotate(-60 1283.1 199.5)"/><ellipse cx="836.4" cy="304.7" rx="1.9" ry="1.1" fill="#f4f4fb" fill-opacity="0.9" transform="rotate(-60 836.4 304.7)"/><ellipse cx="1205.6" cy="75.6" rx="2" ry="1.1" fill="#f4f4fb" fill-opacity="0.9" transform="rotate(20 1205.6 75.6)"/><ellipse cx="1270" cy="262.4" rx="1.8" ry="1.1" fill="#f4f4fb" fill-opacity="0.9" transform="rotate(35 1270 262.4)"/><ellipse cx="811.3" cy="334.6" rx="2.5" ry="1.7" fill="#f4f4fb" fill-opacity="0.9" transform="rotate(-25 811.3 334.6)"/>
</g>
<rect x="787" y="367.3" width="13" height="3.4" fill="#14148a" transform="rotate(-18 793 369)"/>
<rect x="844" y="376.3" width="13" height="3.4" fill="#14148a" transform="rotate(-25 850 378)"/>
<rect x="842" y="401.3" width="13" height="3.4" fill="#14148a" transform="rotate(-20 848 403)"/>
</g>
<g clip-path="url(#cbR)">
<g filter="url(#b1)">
<path d="M1159.6 643.3 L1166.3 644.8 L1165.4 651.6 L1172.1 653.1 L1171.2 659.8 L1177.9 661.3 L1177 668.1 L1183.7 669.6 L1182.8 676.3 L1189.5 677.8 L1188.7 684.6 L1195.3 686.1 L1194.5 692.9 L1201.1 694.3 L1200.3 701.1 L1206.9 702.6 L1206.1 709.4 L1212.7 710.9 L1211.9 717.6 L1218.6 719.1 L1217.7 725.9 L1224.4 727.4 L1223.5 734.1 L1230.2 735.6 L1229.3 742.4 L1236 743.9 L1235.1 750.7 L1241.8 752.1 L1240.9 758.9 L1247.6 760.4 L1246.7 767.2 L1253.4 768.7 L1252.5 775.4 L1259.2 776.9 L1258.3 783.7 L1265 785.2 L1264.2 791.9 L1270.8 793.4 L1270 800.2 L1276.6 801.7 L1275.8 808.5 L1282.4 809.9 L1281.6 816.7 L1288.2 818.2 L1287.4 825 L1294.1 826.4 L1293.2 833.2 L1299.9 834.7 L1299 841.5 L1305.7 843 L1304.8 849.7 L1311.5 851.2 L1310.6 858 L1317.3 859.5 L1316.4 866.2 L1323.1 867.7 L1322.2 874.5 L1328.9 876 L1328 882.8 L1334.7 884.2 L1333.8 891 L1340.5 892.5 L1339.7 899.3 L1346.3 900.8 L1345.5 907.5 L1352.1 909 L1351.3 915.8 L1357.9 917.3 L1357.1 924 L1363.7 925.5 L1362.9 932.3 L1369.6 933.8 L1368.7 940.6 L1375.4 942 L1374.5 948.8 L1381.2 950.3 L1380.3 957.1 L1387 958.5 L1387.1 961.9 L1383 968.7 L1375.2 967.1 L1371 973.9 L1363.2 972.3 L1359.1 979.1 L1351.3 977.4 L1347.2 984.3 L1339.4 982.6 L1335.3 989.4 L1327.5 987.8 L1323.4 994.6 L1315.6 993 L1311.4 999.8 L1303.6 998.2 L1299.5 1005 L1291.7 1003.4 L1287.6 1010.2 L1279.8 1008.5 L1275.7 1015.4 L1267.9 1013.7 L1263.7 1020.5 L1256 1018.9 L1251.8 1025.7 L1244 1024.1 L1239.9 1030.9 L1232.1 1029.3 L1228 1036.1 L1220.2 1034.5 L1216.1 1041.3 L1208.3 1039.7 L1204.1 1046.5 L1196.3 1044.8 L1192.2 1051.6 L1184.4 1050 L1180.3 1056.8 L1172.5 1055.2 L1168.4 1062 L1160.6 1060.4 L1156.5 1067.2 L1148.7 1065.6 L1144.5 1072.4 L1136.7 1070.8 L1132.6 1077.6 L1124.8 1075.9 L1120.7 1082.8 L1112.9 1081.1 L1108.8 1087.9 L1101 1086.3 L1096.9 1093.1 L1089.1 1091.5 L1084.9 1098.3 L1077.1 1096.7 L1073 1103.5 L1065.2 1101.9 L1061.1 1108.7 L1053.3 1107 L1049.2 1113.9 L1041.4 1112.2 L1037.2 1119 L1029.5 1117.4 L1025.3 1124.2 L1017.5 1122.6 L1013.4 1129.4 L1005.6 1127.8 L1001.5 1134.6 L993.7 1133 L989.6 1139.8 L981.8 1138.2 L977.6 1145 L969.8 1143.3 L965.7 1150.1 L957.9 1148.5 L953.8 1155.3 L946 1153.7 L941.9 1160.5 L936.9 1159.5 L930.1 1158.7 L930.8 1151.9 L924 1151.2 L924.7 1144.4 L917.9 1143.6 L918.6 1136.9 L911.8 1136.1 L912.5 1129.3 L905.7 1128.6 L906.4 1121.8 L899.6 1121 L900.3 1114.2 L893.5 1113.5 L894.2 1106.7 L887.5 1105.9 L888.1 1099.1 L881.4 1098.4 L882 1091.6 L875.3 1090.8 L876 1084 L869.2 1083.3 L869.1 1078.7 L870.8 1075.5 L873.1 1072.7 L873.1 1068.4 L877.1 1066.7 L877.6 1062.7 L881.1 1060.7 L880.6 1056.1 L885.1 1055 L885.6 1051.1 L889.1 1049.2 L890.4 1045.9 L893.1 1043.5 L892.3 1038.7 L897 1037.8 L898.1 1034 L901.7 1032.2 L900.9 1026.8 L906.3 1026.5 L907.4 1022.6 L910.9 1020.9 L912.1 1015.9 L917.2 1014.9 L917.6 1009 L923.1 1009.2 L926.5 1007.2 L930.4 1006.7 L932.8 1002 L937.7 1004.2 L941.1 1002.4 L944.9 1001.7 L947.1 996.1 L951.8 999.3 L955 998.9 L958.2 999.3 L961.4 995.7 L964.6 999.3 L967.8 997.3 L972 998.8 L973.7 995.1 L977 992.8 L977.9 988.5 L982.1 986.6 L981.5 982.5 L985.3 981 L985 977.1 L988.5 975.3 L989.4 972.1 L991.9 968.9 L988.8 965.2 L991 960.9 L988.9 957 L990.2 952.9 L985 949.4 L989.2 944.6 L986.1 941.6 L986.9 937.3 L983.5 934.3 L984.6 929.9 L982.1 926.7 L981.9 922.1 L976.4 923.3 L977.6 917.7 L974.2 916.8 L973.3 913.4 L968.8 913.6 L968.4 908.8 L964.2 911.7 L962.8 906.8 L959.3 907.8 L956.5 904.7 L952.8 909 L948.2 905.7 L944.2 907.8 L939.7 906.7 L937 908.2 L933.9 908.1 L931.2 909.2 L928.2 909.4 L925.8 912.4 L922.4 910.7 L920.3 915.8 L915.9 912.5 L913 914.5 L909.5 914.2 L906.9 917.4 L903.1 916 L900.9 920.6 L896.6 917.7 L893.2 920.3 L889 919.9 L885.4 921.9 L881.3 922.1 L878.2 925.8 L873.2 924.5 L871.4 928.7 L866.9 929.3 L866.5 935.4 L860.5 934.1 L860.1 940.1 L854.6 938.8 L851.9 941.2 L848.3 941 L846.2 944.9 L842.1 943.3 L839.7 946.5 L835.8 945.5 L832.8 947 L829.7 947.7 L826.3 950.9 L821.8 949.6 L818.9 954.9 L814 951.4 L810.4 954 L808.2 953 L801.3 952.2 L801.8 945.3 L794.9 944.5 L795.3 937.6 L788.4 936.9 L788.8 929.9 L781.9 929.2 L782.4 922.3 L775.5 921.5 L775.9 914.6 L769 913.8 L769.4 906.9 L762.5 906.2 L763 899.2 L756.1 898.5 L756.5 891.6 L749.6 890.8 L750 883.9 L743.1 883.1 L743.6 876.2 L736.7 875.5 L737.1 868.5 L730.2 867.8 L730.6 860.9 L723.7 860.1 L724.2 853.2 L717.3 852.5 L717.7 845.5 L710.8 844.8 L710.3 841.5 L714.4 834.7 L722.2 836.3 L726.3 829.5 L734.1 831.1 L738.2 824.3 L746 825.9 L750.1 819.1 L757.9 820.7 L762 813.9 L769.8 815.5 L773.9 808.7 L781.7 810.3 L785.8 803.5 L793.6 805.1 L797.7 798.3 L805.5 799.9 L809.6 793.1 L817.4 794.8 L821.5 787.9 L829.3 789.6 L833.4 782.7 L841.2 784.4 L845.3 777.6 L853.1 779.2 L857.2 772.4 L865 774 L869.1 767.2 L876.9 768.8 L881 762 L888.8 763.6 L892.9 756.8 L900.7 758.4 L904.8 751.6 L912.6 753.2 L916.7 746.4 L924.5 748 L928.6 741.2 L936.4 742.8 L940.5 736 L948.3 737.6 L952.4 730.8 L960.2 732.4 L964.3 725.6 L972.1 727.2 L976.2 720.4 L984 722 L988.1 715.2 L995.9 716.8 L1000 710 L1007.8 711.6 L1011.9 704.8 L1019.7 706.4 L1023.8 699.6 L1031.5 701.2 L1035.7 694.4 L1043.4 696.1 L1047.6 689.2 L1055.3 690.9 L1059.5 684 L1067.2 685.7 L1071.3 678.9 L1079.1 680.5 L1083.2 673.7 L1091 675.3 L1095.1 668.5 L1102.9 670.1 L1107 663.3 L1114.8 664.9 L1118.9 658.1 L1126.7 659.7 L1130.8 652.9 L1138.6 654.5 L1142.7 647.7 L1150.5 649.3 L1154.6 642.5Z" fill="url(#pB)" stroke="#1515a0" stroke-width="1.2" stroke-linejoin="miter"/>
<g clip-path="url(#kB)">
<path d="M1159.6 643.3 L1166.3 644.8 L1165.4 651.6 L1172.1 653.1 L1171.2 659.8 L1177.9 661.3 L1177 668.1 L1183.7 669.6 L1182.8 676.3 L1189.5 677.8 L1188.7 684.6 L1195.3 686.1 L1194.5 692.9 L1201.1 694.3 L1200.3 701.1 L1206.9 702.6 L1206.1 709.4 L1212.7 710.9 L1211.9 717.6 L1218.6 719.1 L1217.7 725.9 L1224.4 727.4 L1223.5 734.1 L1230.2 735.6 L1229.3 742.4 L1236 743.9 L1235.1 750.7 L1241.8 752.1 L1240.9 758.9 L1247.6 760.4 L1246.7 767.2 L1253.4 768.7 L1252.5 775.4 L1259.2 776.9 L1258.3 783.7 L1265 785.2 L1264.2 791.9 L1270.8 793.4 L1270 800.2 L1276.6 801.7 L1275.8 808.5 L1282.4 809.9 L1281.6 816.7 L1288.2 818.2 L1287.4 825 L1294.1 826.4 L1293.2 833.2 L1299.9 834.7 L1299 841.5 L1305.7 843 L1304.8 849.7 L1311.5 851.2 L1310.6 858 L1317.3 859.5 L1316.4 866.2 L1323.1 867.7 L1322.2 874.5 L1328.9 876 L1328 882.8 L1334.7 884.2 L1333.8 891 L1340.5 892.5 L1339.7 899.3 L1346.3 900.8 L1345.5 907.5 L1352.1 909 L1351.3 915.8 L1357.9 917.3 L1357.1 924 L1363.7 925.5 L1362.9 932.3 L1369.6 933.8 L1368.7 940.6 L1375.4 942 L1374.5 948.8 L1381.2 950.3 L1380.3 957.1 L1387 958.5 L1387.1 961.9 L1383 968.7 L1375.2 967.1 L1371 973.9 L1363.2 972.3 L1359.1 979.1 L1351.3 977.4 L1347.2 984.3 L1339.4 982.6 L1335.3 989.4 L1327.5 987.8 L1323.4 994.6 L1315.6 993 L1311.4 999.8 L1303.6 998.2 L1299.5 1005 L1291.7 1003.4 L1287.6 1010.2 L1279.8 1008.5 L1275.7 1015.4 L1267.9 1013.7 L1263.7 1020.5 L1256 1018.9 L1251.8 1025.7 L1244 1024.1 L1239.9 1030.9 L1232.1 1029.3 L1228 1036.1 L1220.2 1034.5 L1216.1 1041.3 L1208.3 1039.7 L1204.1 1046.5 L1196.3 1044.8 L1192.2 1051.6 L1184.4 1050 L1180.3 1056.8 L1172.5 1055.2 L1168.4 1062 L1160.6 1060.4 L1156.5 1067.2 L1148.7 1065.6 L1144.5 1072.4 L1136.7 1070.8 L1132.6 1077.6 L1124.8 1075.9 L1120.7 1082.8 L1112.9 1081.1 L1108.8 1087.9 L1101 1086.3 L1096.9 1093.1 L1089.1 1091.5 L1084.9 1098.3 L1077.1 1096.7 L1073 1103.5 L1065.2 1101.9 L1061.1 1108.7 L1053.3 1107 L1049.2 1113.9 L1041.4 1112.2 L1037.2 1119 L1029.5 1117.4 L1025.3 1124.2 L1017.5 1122.6 L1013.4 1129.4 L1005.6 1127.8 L1001.5 1134.6 L993.7 1133 L989.6 1139.8 L981.8 1138.2 L977.6 1145 L969.8 1143.3 L965.7 1150.1 L957.9 1148.5 L953.8 1155.3 L946 1153.7 L941.9 1160.5 L936.9 1159.5 L930.1 1158.7 L930.8 1151.9 L924 1151.2 L924.7 1144.4 L917.9 1143.6 L918.6 1136.9 L911.8 1136.1 L912.5 1129.3 L905.7 1128.6 L906.4 1121.8 L899.6 1121 L900.3 1114.2 L893.5 1113.5 L894.2 1106.7 L887.5 1105.9 L888.1 1099.1 L881.4 1098.4 L882 1091.6 L875.3 1090.8 L876 1084 L869.2 1083.3 L869.1 1078.7 L870.8 1075.5 L873.1 1072.7 L873.1 1068.4 L877.1 1066.7 L877.6 1062.7 L881.1 1060.7 L880.6 1056.1 L885.1 1055 L885.6 1051.1 L889.1 1049.2 L890.4 1045.9 L893.1 1043.5 L892.3 1038.7 L897 1037.8 L898.1 1034 L901.7 1032.2 L900.9 1026.8 L906.3 1026.5 L907.4 1022.6 L910.9 1020.9 L912.1 1015.9 L917.2 1014.9 L917.6 1009 L923.1 1009.2 L926.5 1007.2 L930.4 1006.7 L932.8 1002 L937.7 1004.2 L941.1 1002.4 L944.9 1001.7 L947.1 996.1 L951.8 999.3 L955 998.9 L958.2 999.3 L961.4 995.7 L964.6 999.3 L967.8 997.3 L972 998.8 L973.7 995.1 L977 992.8 L977.9 988.5 L982.1 986.6 L981.5 982.5 L985.3 981 L985 977.1 L988.5 975.3 L989.4 972.1 L991.9 968.9 L988.8 965.2 L991 960.9 L988.9 957 L990.2 952.9 L985 949.4 L989.2 944.6 L986.1 941.6 L986.9 937.3 L983.5 934.3 L984.6 929.9 L982.1 926.7 L981.9 922.1 L976.4 923.3 L977.6 917.7 L974.2 916.8 L973.3 913.4 L968.8 913.6 L968.4 908.8 L964.2 911.7 L962.8 906.8 L959.3 907.8 L956.5 904.7 L952.8 909 L948.2 905.7 L944.2 907.8 L939.7 906.7 L937 908.2 L933.9 908.1 L931.2 909.2 L928.2 909.4 L925.8 912.4 L922.4 910.7 L920.3 915.8 L915.9 912.5 L913 914.5 L909.5 914.2 L906.9 917.4 L903.1 916 L900.9 920.6 L896.6 917.7 L893.2 920.3 L889 919.9 L885.4 921.9 L881.3 922.1 L878.2 925.8 L873.2 924.5 L871.4 928.7 L866.9 929.3 L866.5 935.4 L860.5 934.1 L860.1 940.1 L854.6 938.8 L851.9 941.2 L848.3 941 L846.2 944.9 L842.1 943.3 L839.7 946.5 L835.8 945.5 L832.8 947 L829.7 947.7 L826.3 950.9 L821.8 949.6 L818.9 954.9 L814 951.4 L810.4 954 L808.2 953 L801.3 952.2 L801.8 945.3 L794.9 944.5 L795.3 937.6 L788.4 936.9 L788.8 929.9 L781.9 929.2 L782.4 922.3 L775.5 921.5 L775.9 914.6 L769 913.8 L769.4 906.9 L762.5 906.2 L763 899.2 L756.1 898.5 L756.5 891.6 L749.6 890.8 L750 883.9 L743.1 883.1 L743.6 876.2 L736.7 875.5 L737.1 868.5 L730.2 867.8 L730.6 860.9 L723.7 860.1 L724.2 853.2 L717.3 852.5 L717.7 845.5 L710.8 844.8 L710.3 841.5 L714.4 834.7 L722.2 836.3 L726.3 829.5 L734.1 831.1 L738.2 824.3 L746 825.9 L750.1 819.1 L757.9 820.7 L762 813.9 L769.8 815.5 L773.9 808.7 L781.7 810.3 L785.8 803.5 L793.6 805.1 L797.7 798.3 L805.5 799.9 L809.6 793.1 L817.4 794.8 L821.5 787.9 L829.3 789.6 L833.4 782.7 L841.2 784.4 L845.3 777.6 L853.1 779.2 L857.2 772.4 L865 774 L869.1 767.2 L876.9 768.8 L881 762 L888.8 763.6 L892.9 756.8 L900.7 758.4 L904.8 751.6 L912.6 753.2 L916.7 746.4 L924.5 748 L928.6 741.2 L936.4 742.8 L940.5 736 L948.3 737.6 L952.4 730.8 L960.2 732.4 L964.3 725.6 L972.1 727.2 L976.2 720.4 L984 722 L988.1 715.2 L995.9 716.8 L1000 710 L1007.8 711.6 L1011.9 704.8 L1019.7 706.4 L1023.8 699.6 L1031.5 701.2 L1035.7 694.4 L1043.4 696.1 L1047.6 689.2 L1055.3 690.9 L1059.5 684 L1067.2 685.7 L1071.3 678.9 L1079.1 680.5 L1083.2 673.7 L1091 675.3 L1095.1 668.5 L1102.9 670.1 L1107 663.3 L1114.8 664.9 L1118.9 658.1 L1126.7 659.7 L1130.8 652.9 L1138.6 654.5 L1142.7 647.7 L1150.5 649.3 L1154.6 642.5Z" fill="none" stroke="#12129a" stroke-width="7" stroke-opacity=".7"/>
<ellipse cx="800" cy="885" rx="42" ry="40" fill="#1f8fc4" fill-opacity="0.7" transform="rotate(30 800 885)" filter="url(#b8)"/>
<ellipse cx="790" cy="870" rx="22" ry="18" fill="#22a8c0" fill-opacity="0.6" transform="rotate(30 790 870)" filter="url(#b4)"/>
<ellipse cx="805" cy="915" rx="18" ry="14" fill="#27b0b8" fill-opacity="0.55" transform="rotate(0 805 915)" filter="url(#b4)"/>
<ellipse cx="828" cy="805" rx="22" ry="16" fill="#22a8c0" fill-opacity="0.75" transform="rotate(-20 828 805)" filter="url(#b4)"/>
<ellipse cx="880" cy="900" rx="22" ry="16" fill="#25b0c0" fill-opacity="0.75" transform="rotate(-20 880 900)" filter="url(#b4)"/>
<ellipse cx="990" cy="1045" rx="18" ry="22" fill="#25a8c4" fill-opacity="0.7" transform="rotate(20 990 1045)" filter="url(#b4)"/>
<ellipse cx="1028" cy="1108" rx="18" ry="14" fill="#22b0b0" fill-opacity="0.8" transform="rotate(-30 1028 1108)" filter="url(#b4)"/>
<ellipse cx="1018" cy="1122" rx="8" ry="6" fill="#38c070" fill-opacity="0.8" transform="rotate(-30 1018 1122)" filter="url(#b2)"/>
<ellipse cx="958" cy="912" rx="8" ry="6" fill="#3ac070" fill-opacity="0.7" transform="rotate(0 958 912)" filter="url(#b2)"/>
<ellipse cx="995" cy="950" rx="8" ry="28" fill="#2aa0cc" fill-opacity="0.7" transform="rotate(5 995 950)" filter="url(#b4)"/>
<ellipse cx="1000" cy="1000" rx="10" ry="16" fill="#2a90cc" fill-opacity="0.5" transform="rotate(30 1000 1000)" filter="url(#b4)"/>
<ellipse cx="1178" cy="811" rx="8" ry="140" fill="#2a98c0" fill-opacity="0.55" transform="rotate(-22 1178 811)" filter="url(#b4)"/>
<ellipse cx="1190" cy="800" rx="26" ry="150" fill="#3a8cc0" fill-opacity="0.16" transform="rotate(-24 1190 800)" filter="url(#b8)"/>
<ellipse cx="1228" cy="840" rx="6" ry="90" fill="#2a90c4" fill-opacity="0.28" transform="rotate(-27 1228 840)" filter="url(#b4)"/>
<ellipse cx="1038" cy="830" rx="7" ry="85" fill="#2a98c4" fill-opacity="0.5" transform="rotate(-9 1038 830)" filter="url(#b4)"/>
<ellipse cx="1012" cy="882" rx="16" ry="30" fill="#28a8c0" fill-opacity="0.5" transform="rotate(-20 1012 882)" filter="url(#b4)"/>
<ellipse cx="1060" cy="900" rx="30" ry="10" fill="#2a98c4" fill-opacity="0.35" transform="rotate(30 1060 900)" filter="url(#b4)"/>
<ellipse cx="1130" cy="1075" rx="10" ry="10" fill="#2a98d0" fill-opacity="0.5" transform="rotate(0 1130 1075)" filter="url(#b4)"/>
</g>
<ellipse cx="836" cy="846" rx="3" ry="2" fill="#f3f3fa" transform="rotate(-25 836 846)"/>
<ellipse cx="842" cy="850.3" rx="3" ry="2" fill="#f3f3fa" transform="rotate(-25 842 850.3)"/>
<ellipse cx="848" cy="854.7" rx="3" ry="2" fill="#f3f3fa" transform="rotate(-25 848 854.7)"/>
<ellipse cx="854" cy="859" rx="3" ry="2" fill="#f3f3fa" transform="rotate(-25 854 859)"/>
<ellipse cx="860" cy="863.3" rx="3" ry="2" fill="#f3f3fa" transform="rotate(-25 860 863.3)"/>
<ellipse cx="866" cy="867.7" rx="3" ry="2" fill="#f3f3fa" transform="rotate(-25 866 867.7)"/>
<ellipse cx="872" cy="872" rx="3" ry="2" fill="#f3f3fa" transform="rotate(-25 872 872)"/>
<ellipse cx="1159.2" cy="698.8" rx="2.5" ry="1.9" fill="#f4f4fb" fill-opacity="0.9" transform="rotate(-25 1159.2 698.8)"/><ellipse cx="976.6" cy="997.9" rx="2.5" ry="1.8" fill="#f4f4fb" fill-opacity="0.9" transform="rotate(35 976.6 997.9)"/><ellipse cx="892" cy="1050.5" rx="2" ry="1.3" fill="#f4f4fb" fill-opacity="0.9" transform="rotate(20 892 1050.5)"/><ellipse cx="815.9" cy="937.5" rx="2" ry="1.1" fill="#f4f4fb" fill-opacity="0.9" transform="rotate(20 815.9 937.5)"/><ellipse cx="859.5" cy="885.2" rx="2.4" ry="2" fill="#f4f4fb" fill-opacity="0.9" transform="rotate(-25 859.5 885.2)"/><ellipse cx="815" cy="923" rx="2.1" ry="1.2" fill="#f4f4fb" fill-opacity="0.9" transform="rotate(35 815 923)"/><ellipse cx="1226.6" cy="808.6" rx="2.4" ry="2" fill="#f4f4fb" fill-opacity="0.9" transform="rotate(20 1226.6 808.6)"/><ellipse cx="1163.9" cy="741.9" rx="2.6" ry="1.8" fill="#f4f4fb" fill-opacity="0.9" transform="rotate(-25 1163.9 741.9)"/><ellipse cx="871.7" cy="802" rx="2.1" ry="1.6" fill="#f4f4fb" fill-opacity="0.9" transform="rotate(-25 871.7 802)"/><ellipse cx="718.5" cy="842.5" rx="2.4" ry="1.3" fill="#f4f4fb" fill-opacity="0.9" transform="rotate(-60 718.5 842.5)"/><ellipse cx="1164.5" cy="646.4" rx="2.8" ry="1.8" fill="#f4f4fb" fill-opacity="0.9" transform="rotate(-60 1164.5 646.4)"/><ellipse cx="1368.7" cy="966" rx="2.5" ry="1.7" fill="#f4f4fb" fill-opacity="0.9" transform="rotate(35 1368.7 966)"/><ellipse cx="927.9" cy="1096.3" rx="2.7" ry="1.4" fill="#f4f4fb" fill-opacity="0.9" transform="rotate(20 927.9 1096.3)"/><ellipse cx="878.1" cy="910.8" rx="2" ry="1.7" fill="#f4f4fb" fill-opacity="0.9" transform="rotate(20 878.1 910.8)"/><ellipse cx="906.4" cy="835.9" rx="2.7" ry="1.4" fill="#f4f4fb" fill-opacity="0.9" transform="rotate(-25 906.4 835.9)"/><ellipse cx="901.6" cy="1042.4" rx="2.7" ry="1.5" fill="#f4f4fb" fill-opacity="0.9" transform="rotate(-25 901.6 1042.4)"/><ellipse cx="773.2" cy="852" rx="1.8" ry="1.6" fill="#f4f4fb" fill-opacity="0.9" transform="rotate(-25 773.2 852)"/><ellipse cx="988.3" cy="876.5" rx="2" ry="1.2" fill="#f4f4fb" fill-opacity="0.9" transform="rotate(-60 988.3 876.5)"/><ellipse cx="971.8" cy="795.9" rx="2.6" ry="1.5" fill="#f4f4fb" fill-opacity="0.9" transform="rotate(35 971.8 795.9)"/><ellipse cx="1004.7" cy="845.4" rx="2" ry="1.1" fill="#f4f4fb" fill-opacity="0.9" transform="rotate(-60 1004.7 845.4)"/><ellipse cx="1207.7" cy="734" rx="1.6" ry="0.9" fill="#f4f4fb" fill-opacity="0.9" transform="rotate(35 1207.7 734)"/><ellipse cx="930.8" cy="865.4" rx="1.6" ry="1" fill="#f4f4fb" fill-opacity="0.9" transform="rotate(-60 930.8 865.4)"/><ellipse cx="778.1" cy="817.2" rx="2.8" ry="1.4" fill="#f4f4fb" fill-opacity="0.9" transform="rotate(-60 778.1 817.2)"/><ellipse cx="962.8" cy="902.1" rx="1.8" ry="1.1" fill="#f4f4fb" fill-opacity="0.9" transform="rotate(35 962.8 902.1)"/><ellipse cx="903.8" cy="898.2" rx="2.9" ry="2.6" fill="#f4f4fb" fill-opacity="0.9" transform="rotate(-60 903.8 898.2)"/><ellipse cx="947" cy="1020.7" rx="1.8" ry="1.4" fill="#f4f4fb" fill-opacity="0.9" transform="rotate(-25 947 1020.7)"/><ellipse cx="942.8" cy="906.7" rx="1.6" ry="1.4" fill="#f4f4fb" fill-opacity="0.9" transform="rotate(-60 942.8 906.7)"/><ellipse cx="971.4" cy="1058.6" rx="2.7" ry="1.7" fill="#f4f4fb" fill-opacity="0.9" transform="rotate(-25 971.4 1058.6)"/><ellipse cx="848.9" cy="822.3" rx="1.8" ry="1.4" fill="#f4f4fb" fill-opacity="0.9" transform="rotate(-25 848.9 822.3)"/><ellipse cx="1213" cy="753.1" rx="2.8" ry="2.2" fill="#f4f4fb" fill-opacity="0.9" transform="rotate(35 1213 753.1)"/><ellipse cx="799.2" cy="857.9" rx="2.1" ry="1.1" fill="#f4f4fb" fill-opacity="0.9" transform="rotate(-25 799.2 857.9)"/><ellipse cx="1303.6" cy="853.7" rx="2.7" ry="1.5" fill="#f4f4fb" fill-opacity="0.9" transform="rotate(-60 1303.6 853.7)"/><ellipse cx="1305.8" cy="861.3" rx="1.9" ry="1.3" fill="#f4f4fb" fill-opacity="0.9" transform="rotate(35 1305.8 861.3)"/><ellipse cx="933.4" cy="806.3" rx="2.1" ry="1.1" fill="#f4f4fb" fill-opacity="0.9" transform="rotate(-60 933.4 806.3)"/><ellipse cx="797.7" cy="864.3" rx="2.1" ry="1.6" fill="#f4f4fb" fill-opacity="0.9" transform="rotate(35 797.7 864.3)"/><ellipse cx="1009.6" cy="811.5" rx="2.2" ry="1.3" fill="#f4f4fb" fill-opacity="0.9" transform="rotate(-25 1009.6 811.5)"/><ellipse cx="959.6" cy="768.2" rx="2.8" ry="2.5" fill="#f4f4fb" fill-opacity="0.9" transform="rotate(35 959.6 768.2)"/><ellipse cx="1246.9" cy="833.2" rx="2.7" ry="2.1" fill="#f4f4fb" fill-opacity="0.9" transform="rotate(-60 1246.9 833.2)"/><ellipse cx="815.2" cy="833" rx="2.7" ry="2.1" fill="#f4f4fb" fill-opacity="0.9" transform="rotate(20 815.2 833)"/><ellipse cx="954.5" cy="1004.8" rx="2.3" ry="1.3" fill="#f4f4fb" fill-opacity="0.9" transform="rotate(20 954.5 1004.8)"/><ellipse cx="911.8" cy="902.2" rx="3" ry="2.5" fill="#f4f4fb" fill-opacity="0.9" transform="rotate(35 911.8 902.2)"/><ellipse cx="841" cy="896.7" rx="2.7" ry="1.8" fill="#f4f4fb" fill-opacity="0.9" transform="rotate(35 841 896.7)"/><ellipse cx="884.1" cy="1081.6" rx="2.5" ry="1.6" fill="#f4f4fb" fill-opacity="0.9" transform="rotate(35 884.1 1081.6)"/><ellipse cx="1319" cy="929.7" rx="2.1" ry="1.4" fill="#f4f4fb" fill-opacity="0.9" transform="rotate(20 1319 929.7)"/><ellipse cx="822" cy="852.3" rx="2.1" ry="1.5" fill="#f4f4fb" fill-opacity="0.9" transform="rotate(20 822 852.3)"/><ellipse cx="984.5" cy="1057.1" rx="2" ry="1.7" fill="#f4f4fb" fill-opacity="0.9" transform="rotate(-25 984.5 1057.1)"/><ellipse cx="929" cy="854.9" rx="1.7" ry="1.3" fill="#f4f4fb" fill-opacity="0.9" transform="rotate(-60 929 854.9)"/><ellipse cx="950.2" cy="1002.1" rx="2.8" ry="2.2" fill="#f4f4fb" fill-opacity="0.9" transform="rotate(35 950.2 1002.1)"/><ellipse cx="1331.2" cy="922.3" rx="1.9" ry="1.4" fill="#f4f4fb" fill-opacity="0.9" transform="rotate(-60 1331.2 922.3)"/><ellipse cx="794.1" cy="823" rx="2.1" ry="1.9" fill="#f4f4fb" fill-opacity="0.9" transform="rotate(20 794.1 823)"/><ellipse cx="939.9" cy="1112.9" rx="2" ry="1.1" fill="#f4f4fb" fill-opacity="0.9" transform="rotate(-25 939.9 1112.9)"/><ellipse cx="993.1" cy="1131.2" rx="2.1" ry="1.5" fill="#f4f4fb" fill-opacity="0.9" transform="rotate(20 993.1 1131.2)"/><ellipse cx="968.7" cy="875.7" rx="2.5" ry="1.4" fill="#f4f4fb" fill-opacity="0.9" transform="rotate(-60 968.7 875.7)"/><ellipse cx="976.2" cy="1128.5" rx="2.5" ry="2.1" fill="#f4f4fb" fill-opacity="0.9" transform="rotate(20 976.2 1128.5)"/><ellipse cx="1308" cy="886.3" rx="2.4" ry="1.7" fill="#f4f4fb" fill-opacity="0.9" transform="rotate(20 1308 886.3)"/>
</g>
<g filter="url(#b1)">
<path d="M891.6 1023.6 L897.4 1031.8 M897.5 1020.9 L900.4 1025 M849.8 1064 L867.6 1056 M867.5 1066.9 L885.3 1059 M894.5 1027.7 L912.3 1019.7 M909.4 1015.6 L915.2 1023.9 M909.4 1015.6 L915.3 1012.9 M888.3 1052.2 L891.2 1056.3 M846.9 1059.9 L858.8 1054.5 M888.5 1041.3 L891.4 1045.4 M861.7 1058.7 L870.4 1071.1 M888.3 1052.2 L894.3 1049.5 M864.8 1041 L876.7 1035.7 M870.4 1071.1 L879.1 1083.5 M858.8 1054.5 L864.7 1051.9 M882.6 1033 L888.5 1041.3 M873.8 1031.5 L879.7 1028.9 M879.7 1028.9 L888.5 1041.3 M858.7 1065.5 L861.6 1069.6 M921.3 1010.3 L939.1 1002.3 M891.5 1034.5 L897.4 1031.8 M861.8 1047.8 L867.6 1056 M861.6 1069.6 L867.4 1077.9 M876.7 1035.7 L879.6 1039.8 M906.4 1022.4 L909.3 1026.5 M873.7 1042.4 L879.5 1050.7 M861.8 1047.8 L864.7 1051.9 M897.5 1020.9 L906.3 1033.3 M879.6 1039.8 L882.5 1043.9 M879.6 1039.8 L888.3 1052.2 M867.4 1077.9 L885.2 1069.9 M864.7 1051.9 L870.7 1049.2 M876.7 1035.7 L888.6 1030.3 M858.7 1065.5 L870.5 1060.2" stroke="#15159c" stroke-width="3.0" stroke-opacity="1.0" fill="none" stroke-linecap="butt"/>
<path d="M842.2 1059.1 L848.6 1056.2 L851.7 1060.7 L845.3 1063.5Z" fill="#1a8fc0"/><path d="M856.9 1057.9 L863.3 1055 L866.5 1059.5 L860.1 1062.3Z" fill="#22b0b0"/><path d="M862.9 1055.2 L869.3 1052.4 L872.4 1056.8 L866 1059.7Z" fill="#1a8fc0"/><path d="M865.9 1048.4 L872.3 1045.6 L875.4 1050 L869 1052.9Z" fill="#15159c"/><path d="M871.9 1034.9 L878.3 1032 L881.5 1036.5 L875.1 1039.3Z" fill="#1a8fc0"/><path d="M880.7 1047.3 L887.1 1044.4 L890.2 1048.8 L883.8 1051.7Z" fill="#22b0b0"/><path d="M892.8 1020.1 L899.2 1017.2 L902.3 1021.7 L895.9 1024.6Z" fill="#1a8fc0"/>
</g>
<rect x="759" y="946.2" width="12" height="3.6" fill="#14149a" transform="rotate(-20 765 948)"/>
<rect x="764" y="955.2" width="12" height="3.6" fill="#14149a" transform="rotate(-20 770 957)"/>
<rect x="899" y="1001.2" width="12" height="3.6" fill="#14149a" transform="rotate(-25 905 1003)"/>
<rect x="874" y="1010.2" width="12" height="3.6" fill="#14149a" transform="rotate(-25 880 1012)"/>
<rect x="862" y="1030.2" width="12" height="3.6" fill="#14149a" transform="rotate(-25 868 1032)"/>
<rect x="840" y="1066.2" width="12" height="3.6" fill="#14149a" transform="rotate(30 846 1068)"/>
<rect x="969" y="973.2" width="12" height="3.6" fill="#14149a" transform="rotate(-25 975 975)"/>
<rect x="974" y="988.2" width="12" height="3.6" fill="#14149a" transform="rotate(-25 980 990)"/>
<circle cx="828.7" cy="808.6" r="32.8" fill="none" stroke="#f8c51c" stroke-width="4.8"/>
<circle cx="881.5" cy="901.2" r="32.6" fill="none" stroke="#f8c51c" stroke-width="4.8"/>
<circle cx="990" cy="1046" r="30" fill="none" stroke="#f8c51c" stroke-width="4.8"/>
<circle cx="1022.8" cy="1111" r="29.6" fill="none" stroke="#f8c51c" stroke-width="4.8"/>
</g>
<g clip-path="url(#ccR)">
<g filter="url(#b1)">
<path d="M681.7 1447.2 L688.1 1444.3 L691.3 1448.7 L684.9 1451.6Z" fill="#28a890"/><path d="M684.7 1451.3 L691.1 1448.4 L694.2 1452.8 L687.8 1455.7Z" fill="#1a8fc0"/><path d="M687.6 1455.4 L694 1452.5 L697.2 1456.9 L690.8 1459.8Z" fill="#2380c8"/><path d="M687.6 1444.5 L694.1 1441.6 L697.2 1446.1 L690.8 1448.9Z" fill="#28a890"/><path d="M690.6 1448.6 L697 1445.7 L700.2 1450.2 L693.8 1453Z" fill="#0e0e84"/><path d="M693.5 1452.7 L699.9 1449.8 L703.1 1454.3 L696.7 1457.2Z" fill="#22b0b0"/><path d="M696.5 1456.8 L702.9 1454 L706 1458.4 L699.6 1461.3Z" fill="#2fb870"/><path d="M699.4 1460.9 L705.8 1458.1 L709 1462.5 L702.6 1465.4Z" fill="#22a8a0"/><path d="M708.2 1473.3 L714.6 1470.4 L717.8 1474.8 L711.4 1477.7Z" fill="#30b060"/><path d="M711.1 1477.4 L717.6 1474.5 L720.7 1478.9 L714.3 1481.8Z" fill="#22a8a0"/><path d="M714.1 1481.5 L720.5 1478.6 L723.7 1483 L717.3 1485.9Z" fill="#28a890"/><path d="M693.6 1441.8 L700 1439 L703.2 1443.4 L696.7 1446.3Z" fill="#1a8fc0"/><path d="M696.5 1445.9 L702.9 1443.1 L706.1 1447.5 L699.7 1450.4Z" fill="#2380c8"/><path d="M699.5 1450.1 L705.9 1447.2 L709 1451.6 L702.6 1454.5Z" fill="#30b060"/><path d="M702.4 1454.2 L708.8 1451.3 L712 1455.7 L705.6 1458.6Z" fill="#22b0b0"/><path d="M705.3 1458.3 L711.7 1455.4 L714.9 1459.8 L708.5 1462.7Z" fill="#0e0e84"/><path d="M708.3 1462.4 L714.7 1459.5 L717.8 1463.9 L711.4 1466.8Z" fill="#0e0e84"/><path d="M711.2 1466.5 L717.6 1463.6 L720.8 1468 L714.4 1470.9Z" fill="#1f9ab0"/><path d="M714.1 1470.6 L720.5 1467.7 L723.7 1472.2 L717.3 1475Z" fill="#22a8a0"/><path d="M717.1 1474.7 L723.5 1471.8 L726.7 1476.3 L720.3 1479.1Z" fill="#159098"/><path d="M720 1478.8 L726.4 1475.9 L729.6 1480.4 L723.2 1483.2Z" fill="#30b060"/><path d="M723 1482.9 L729.4 1480 L732.5 1484.5 L726.1 1487.4Z" fill="#30b060"/><path d="M725.9 1487 L732.3 1484.1 L735.5 1488.6 L729.1 1491.5Z" fill="#2380c8"/><path d="M728.8 1491.1 L735.2 1488.3 L738.4 1492.7 L732 1495.6Z" fill="#0e0e84"/><path d="M699.5 1439.2 L705.9 1436.3 L709.1 1440.7 L702.7 1443.6Z" fill="#22b0b0"/><path d="M702.4 1443.3 L708.8 1440.4 L712 1444.8 L705.6 1447.7Z" fill="#2fb870"/><path d="M705.4 1447.4 L711.8 1444.5 L715 1449 L708.6 1451.8Z" fill="#2380c8"/><path d="M708.3 1451.5 L714.7 1448.6 L717.9 1453.1 L711.5 1455.9Z" fill="#2fb870"/><path d="M711.3 1455.6 L717.7 1452.7 L720.8 1457.2 L714.4 1460Z" fill="#0e0e84"/><path d="M714.2 1459.7 L720.6 1456.8 L723.8 1461.3 L717.4 1464.2Z" fill="#1212a0"/><path d="M717.1 1463.8 L723.5 1460.9 L726.7 1465.4 L720.3 1468.3Z" fill="#1f9ab0"/><path d="M720.1 1467.9 L726.5 1465.1 L729.6 1469.5 L723.2 1472.4Z" fill="#3ac050"/><path d="M723 1472 L729.4 1469.2 L732.6 1473.6 L726.2 1476.5Z" fill="#2380c8"/><path d="M725.9 1476.1 L732.3 1473.3 L735.5 1477.7 L729.1 1480.6Z" fill="#2fb870"/><path d="M728.9 1480.3 L735.3 1477.4 L738.5 1481.8 L732.1 1484.7Z" fill="#0e0e84"/><path d="M731.8 1484.4 L738.2 1481.5 L741.4 1485.9 L735 1488.8Z" fill="#22b0b0"/><path d="M734.8 1488.5 L741.2 1485.6 L744.3 1490 L737.9 1492.9Z" fill="#1f9ab0"/><path d="M705.4 1436.5 L711.8 1433.6 L715 1438.1 L708.6 1441Z" fill="#30b060"/><path d="M708.4 1440.6 L714.8 1437.7 L717.9 1442.2 L711.5 1445.1Z" fill="#22b0b0"/><path d="M711.3 1444.7 L717.7 1441.9 L720.9 1446.3 L714.5 1449.2Z" fill="#1f9ab0"/><path d="M714.2 1448.8 L720.7 1446 L723.8 1450.4 L717.4 1453.3Z" fill="#30b060"/><path d="M717.2 1452.9 L723.6 1450.1 L726.8 1454.5 L720.4 1457.4Z" fill="#2a9cb8"/><path d="M720.1 1457.1 L726.5 1454.2 L729.7 1458.6 L723.3 1461.5Z" fill="#3ac050"/><path d="M723.1 1461.2 L729.5 1458.3 L732.6 1462.7 L726.2 1465.6Z" fill="#22a8a0"/><path d="M726 1465.3 L732.4 1462.4 L735.6 1466.8 L729.2 1469.7Z" fill="#28a890"/><path d="M728.9 1469.4 L735.3 1466.5 L738.5 1470.9 L732.1 1473.8Z" fill="#2a9cb8"/><path d="M731.9 1473.5 L738.3 1470.6 L741.4 1475 L735 1477.9Z" fill="#22a8a0"/><path d="M734.8 1477.6 L741.2 1474.7 L744.4 1479.2 L738 1482Z" fill="#22b0b0"/><path d="M737.7 1481.7 L744.2 1478.8 L747.3 1483.3 L740.9 1486.1Z" fill="#2380c8"/><path d="M740.7 1485.8 L747.1 1482.9 L750.3 1487.4 L743.9 1490.2Z" fill="#1f9ab0"/><path d="M743.6 1489.9 L750 1487 L753.2 1491.5 L746.8 1494.4Z" fill="#3ac050"/><path d="M711.4 1433.9 L717.8 1431 L720.9 1435.4 L714.5 1438.3Z" fill="#22a8a0"/><path d="M714.3 1438 L720.7 1435.1 L723.9 1439.5 L717.5 1442.4Z" fill="#0e0e84"/><path d="M717.2 1442.1 L723.6 1439.2 L726.8 1443.6 L720.4 1446.5Z" fill="#1212a0"/><path d="M723.1 1450.3 L729.5 1447.4 L732.7 1451.8 L726.3 1454.7Z" fill="#22a8a0"/><path d="M726.1 1454.4 L732.5 1451.5 L735.6 1456 L729.2 1458.8Z" fill="#1f9ab0"/><path d="M729 1458.5 L735.4 1455.6 L738.6 1460.1 L732.2 1462.9Z" fill="#1212a0"/><path d="M731.9 1462.6 L738.3 1459.7 L741.5 1464.2 L735.1 1467Z" fill="#22b0b0"/><path d="M734.9 1466.7 L741.3 1463.8 L744.4 1468.3 L738 1471.1Z" fill="#28a890"/><path d="M740.7 1474.9 L747.1 1472.1 L750.3 1476.5 L743.9 1479.4Z" fill="#1212a0"/><path d="M743.7 1479 L750.1 1476.2 L753.3 1480.6 L746.9 1483.5Z" fill="#2380c8"/><path d="M746.6 1483.1 L753 1480.3 L756.2 1484.7 L749.8 1487.6Z" fill="#159098"/><path d="M749.6 1487.3 L756 1484.4 L759.1 1488.8 L752.7 1491.7Z" fill="#3ac050"/><path d="M752.5 1491.4 L758.9 1488.5 L762.1 1492.9 L755.7 1495.8Z" fill="#2380c8"/><path d="M717.3 1431.2 L723.7 1428.3 L726.9 1432.7 L720.5 1435.6Z" fill="#28a890"/><path d="M720.2 1435.3 L726.6 1432.4 L729.8 1436.9 L723.4 1439.7Z" fill="#1f9ab0"/><path d="M723.2 1439.4 L729.6 1436.5 L732.7 1441 L726.3 1443.8Z" fill="#2380c8"/><path d="M726.1 1443.5 L732.5 1440.6 L735.7 1445.1 L729.3 1447.9Z" fill="#22b0b0"/><path d="M729 1447.6 L735.4 1444.7 L738.6 1449.2 L732.2 1452.1Z" fill="#22b0b0"/><path d="M732 1451.7 L738.4 1448.9 L741.6 1453.3 L735.2 1456.2Z" fill="#2380c8"/><path d="M734.9 1455.8 L741.3 1453 L744.5 1457.4 L738.1 1460.3Z" fill="#22a8a0"/><path d="M737.9 1459.9 L744.3 1457.1 L747.4 1461.5 L741 1464.4Z" fill="#159098"/><path d="M740.8 1464.1 L747.2 1461.2 L750.4 1465.6 L744 1468.5Z" fill="#1a8fc0"/><path d="M743.7 1468.2 L750.1 1465.3 L753.3 1469.7 L746.9 1472.6Z" fill="#28a890"/><path d="M746.7 1472.3 L753.1 1469.4 L756.2 1473.8 L749.8 1476.7Z" fill="#0e0e84"/><path d="M749.6 1476.4 L756 1473.5 L759.2 1477.9 L752.8 1480.8Z" fill="#2380c8"/><path d="M752.5 1480.5 L758.9 1477.6 L762.1 1482 L755.7 1484.9Z" fill="#22b0b0"/><path d="M755.5 1484.6 L761.9 1481.7 L765.1 1486.1 L758.7 1489Z" fill="#22b0b0"/><path d="M758.4 1488.7 L764.8 1485.8 L768 1490.3 L761.6 1493.1Z" fill="#22b0b0"/><path d="M720.3 1424.4 L726.7 1421.5 L729.9 1426 L723.5 1428.9Z" fill="#30b060"/><path d="M723.2 1428.5 L729.6 1425.6 L732.8 1430.1 L726.4 1433Z" fill="#1212a0"/><path d="M726.2 1432.6 L732.6 1429.8 L735.7 1434.2 L729.3 1437.1Z" fill="#1a8fc0"/><path d="M729.1 1436.7 L735.5 1433.9 L738.7 1438.3 L732.3 1441.2Z" fill="#28a890"/><path d="M732 1440.8 L738.4 1438 L741.6 1442.4 L735.2 1445.3Z" fill="#22b0b0"/><path d="M735 1445 L741.4 1442.1 L744.5 1446.5 L738.1 1449.4Z" fill="#2a9cb8"/><path d="M737.9 1449.1 L744.3 1446.2 L747.5 1450.6 L741.1 1453.5Z" fill="#3ac050"/><path d="M743.8 1457.3 L750.2 1454.4 L753.4 1458.8 L747 1461.7Z" fill="#0e0e84"/><path d="M746.7 1461.4 L753.1 1458.5 L756.3 1462.9 L749.9 1465.8Z" fill="#0e0e84"/><path d="M749.7 1465.5 L756.1 1462.6 L759.2 1467.1 L752.8 1469.9Z" fill="#0e0e84"/><path d="M752.6 1469.6 L759 1466.7 L762.2 1471.2 L755.8 1474Z" fill="#30b060"/><path d="M755.5 1473.7 L761.9 1470.8 L765.1 1475.3 L758.7 1478.1Z" fill="#22a8a0"/><path d="M758.5 1477.8 L764.9 1474.9 L768.1 1479.4 L761.6 1482.3Z" fill="#28a890"/><path d="M761.4 1481.9 L767.8 1479 L771 1483.5 L764.6 1486.4Z" fill="#22b0b0"/><path d="M764.3 1486 L770.8 1483.2 L773.9 1487.6 L767.5 1490.5Z" fill="#2a9cb8"/><path d="M729.2 1425.9 L735.6 1423 L738.7 1427.4 L732.3 1430.3Z" fill="#1f9ab0"/><path d="M735 1434.1 L741.4 1431.2 L744.6 1435.6 L738.2 1438.5Z" fill="#28a890"/><path d="M738 1438.2 L744.4 1435.3 L747.5 1439.7 L741.1 1442.6Z" fill="#1a8fc0"/><path d="M740.9 1442.3 L747.3 1439.4 L750.5 1443.9 L744.1 1446.7Z" fill="#2380c8"/><path d="M743.8 1446.4 L750.2 1443.5 L753.4 1448 L747 1450.8Z" fill="#2fb870"/><path d="M746.8 1450.5 L753.2 1447.6 L756.4 1452.1 L750 1454.9Z" fill="#0e0e84"/><path d="M749.7 1454.6 L756.1 1451.7 L759.3 1456.2 L752.9 1459.1Z" fill="#30b060"/><path d="M752.7 1458.7 L759.1 1455.8 L762.2 1460.3 L755.8 1463.2Z" fill="#0e0e84"/><path d="M755.6 1462.8 L762 1460 L765.2 1464.4 L758.8 1467.3Z" fill="#2380c8"/><path d="M758.5 1466.9 L764.9 1464.1 L768.1 1468.5 L761.7 1471.4Z" fill="#30b060"/><path d="M764.4 1475.2 L770.8 1472.3 L774 1476.7 L767.6 1479.6Z" fill="#2380c8"/><path d="M767.3 1479.3 L773.7 1476.4 L776.9 1480.8 L770.5 1483.7Z" fill="#0e0e84"/><path d="M770.3 1483.4 L776.7 1480.5 L779.9 1484.9 L773.5 1487.8Z" fill="#1f9ab0"/><path d="M735.1 1423.2 L741.5 1420.3 L744.7 1424.8 L738.3 1427.6Z" fill="#30b060"/><path d="M738 1427.3 L744.4 1424.4 L747.6 1428.9 L741.2 1431.7Z" fill="#1f9ab0"/><path d="M743.9 1435.5 L750.3 1432.6 L753.5 1437.1 L747.1 1440Z" fill="#1a8fc0"/><path d="M746.8 1439.6 L753.2 1436.8 L756.4 1441.2 L750 1444.1Z" fill="#2a9cb8"/><path d="M749.8 1443.7 L756.2 1440.9 L759.3 1445.3 L752.9 1448.2Z" fill="#2fb870"/><path d="M752.7 1447.8 L759.1 1445 L762.3 1449.4 L755.9 1452.3Z" fill="#3ac050"/><path d="M755.6 1452 L762 1449.1 L765.2 1453.5 L758.8 1456.4Z" fill="#22b0b0"/><path d="M758.6 1456.1 L765 1453.2 L768.2 1457.6 L761.8 1460.5Z" fill="#22a8a0"/><path d="M761.5 1460.2 L767.9 1457.3 L771.1 1461.7 L764.7 1464.6Z" fill="#2380c8"/><path d="M764.5 1464.3 L770.9 1461.4 L774 1465.8 L767.6 1468.7Z" fill="#2380c8"/><path d="M767.4 1468.4 L773.8 1465.5 L777 1469.9 L770.6 1472.8Z" fill="#2380c8"/><path d="M770.3 1472.5 L776.7 1469.6 L779.9 1474.1 L773.5 1476.9Z" fill="#2fb870"/><path d="M773.3 1476.6 L779.7 1473.7 L782.8 1478.2 L776.4 1481Z" fill="#2380c8"/><path d="M741 1420.5 L747.4 1417.7 L750.6 1422.1 L744.2 1425Z" fill="#30b060"/><path d="M743.9 1424.6 L750.4 1421.8 L753.5 1426.2 L747.1 1429.1Z" fill="#1a8fc0"/><path d="M746.9 1428.8 L753.3 1425.9 L756.5 1430.3 L750.1 1433.2Z" fill="#2fb870"/><path d="M749.8 1432.9 L756.2 1430 L759.4 1434.4 L753 1437.3Z" fill="#2a9cb8"/><path d="M752.8 1437 L759.2 1434.1 L762.3 1438.5 L755.9 1441.4Z" fill="#22a8a0"/><path d="M755.7 1441.1 L762.1 1438.2 L765.3 1442.6 L758.9 1445.5Z" fill="#1212a0"/><path d="M758.6 1445.2 L765 1442.3 L768.2 1446.7 L761.8 1449.6Z" fill="#22b0b0"/><path d="M761.6 1449.3 L768 1446.4 L771.2 1450.9 L764.7 1453.7Z" fill="#3ac050"/><path d="M764.5 1453.4 L770.9 1450.5 L774.1 1455 L767.7 1457.8Z" fill="#0e0e84"/><path d="M767.4 1457.5 L773.9 1454.6 L777 1459.1 L770.6 1461.9Z" fill="#2380c8"/><path d="M770.4 1461.6 L776.8 1458.7 L780 1463.2 L773.6 1466Z" fill="#1a8fc0"/><path d="M773.3 1465.7 L779.7 1462.8 L782.9 1467.3 L776.5 1470.2Z" fill="#159098"/><path d="M776.3 1469.8 L782.7 1467 L785.8 1471.4 L779.4 1474.3Z" fill="#30b060"/><path d="M779.2 1473.9 L785.6 1471.1 L788.8 1475.5 L782.4 1478.4Z" fill="#0e0e84"/><path d="M746.9 1417.9 L753.3 1415 L756.5 1419.4 L750.1 1422.3Z" fill="#0e0e84"/><path d="M749.9 1422 L756.3 1419.1 L759.5 1423.5 L753.1 1426.4Z" fill="#22a8a0"/><path d="M752.8 1426.1 L759.2 1423.2 L762.4 1427.6 L756 1430.5Z" fill="#2fb870"/><path d="M755.8 1430.2 L762.2 1427.3 L765.3 1431.8 L758.9 1434.6Z" fill="#1212a0"/><path d="M758.7 1434.3 L765.1 1431.4 L768.3 1435.9 L761.9 1438.7Z" fill="#159098"/><path d="M761.6 1438.4 L768 1435.5 L771.2 1440 L764.8 1442.8Z" fill="#2380c8"/><path d="M764.6 1442.5 L771 1439.6 L774.1 1444.1 L767.7 1447Z" fill="#22a8a0"/><path d="M767.5 1446.6 L773.9 1443.8 L777.1 1448.2 L770.7 1451.1Z" fill="#22a8a0"/><path d="M770.4 1450.7 L776.8 1447.9 L780 1452.3 L773.6 1455.2Z" fill="#1212a0"/><path d="M773.4 1454.8 L779.8 1452 L783 1456.4 L776.6 1459.3Z" fill="#28a890"/><path d="M776.3 1459 L782.7 1456.1 L785.9 1460.5 L779.5 1463.4Z" fill="#2a9cb8"/><path d="M779.3 1463.1 L785.7 1460.2 L788.8 1464.6 L782.4 1467.5Z" fill="#3ac050"/><path d="M782.2 1467.2 L788.6 1464.3 L791.8 1468.7 L785.4 1471.6Z" fill="#1212a0"/><path d="M785.1 1471.3 L791.5 1468.4 L794.7 1472.8 L788.3 1475.7Z" fill="#2fb870"/><path d="M752.9 1415.2 L759.3 1412.3 L762.4 1416.8 L756 1419.6Z" fill="#28a890"/><path d="M755.8 1419.3 L762.2 1416.4 L765.4 1420.9 L759 1423.8Z" fill="#22a8a0"/><path d="M758.7 1423.4 L765.1 1420.5 L768.3 1425 L761.9 1427.9Z" fill="#159098"/><path d="M761.7 1427.5 L768.1 1424.7 L771.3 1429.1 L764.9 1432Z" fill="#159098"/><path d="M764.6 1431.6 L771 1428.8 L774.2 1433.2 L767.8 1436.1Z" fill="#2fb870"/><path d="M767.6 1435.7 L774 1432.9 L777.1 1437.3 L770.7 1440.2Z" fill="#2a9cb8"/><path d="M770.5 1439.9 L776.9 1437 L780.1 1441.4 L773.7 1444.3Z" fill="#28a890"/><path d="M773.4 1444 L779.8 1441.1 L783 1445.5 L776.6 1448.4Z" fill="#22b0b0"/><path d="M776.4 1448.1 L782.8 1445.2 L785.9 1449.6 L779.5 1452.5Z" fill="#22a8a0"/><path d="M779.3 1452.2 L785.7 1449.3 L788.9 1453.7 L782.5 1456.6Z" fill="#28a890"/><path d="M782.2 1456.3 L788.6 1453.4 L791.8 1457.8 L785.4 1460.7Z" fill="#2380c8"/><path d="M785.2 1460.4 L791.6 1457.5 L794.8 1462 L788.4 1464.8Z" fill="#22b0b0"/><path d="M788.1 1464.5 L794.5 1461.6 L797.7 1466.1 L791.3 1468.9Z" fill="#1f9ab0"/><path d="M758.8 1412.5 L765.2 1409.7 L768.4 1414.1 L762 1417Z" fill="#0e0e84"/><path d="M761.7 1416.7 L768.1 1413.8 L771.3 1418.2 L764.9 1421.1Z" fill="#22b0b0"/><path d="M764.7 1420.8 L771.1 1417.9 L774.3 1422.3 L767.8 1425.2Z" fill="#30b060"/><path d="M767.6 1424.9 L774 1422 L777.2 1426.4 L770.8 1429.3Z" fill="#0e0e84"/><path d="M770.5 1429 L777 1426.1 L780.1 1430.5 L773.7 1433.4Z" fill="#2380c8"/><path d="M776.4 1437.2 L782.8 1434.3 L786 1438.8 L779.6 1441.6Z" fill="#2fb870"/><path d="M779.4 1441.3 L785.8 1438.4 L788.9 1442.9 L782.5 1445.7Z" fill="#2380c8"/><path d="M782.3 1445.4 L788.7 1442.5 L791.9 1447 L785.5 1449.8Z" fill="#0e0e84"/><path d="M788.2 1453.6 L794.6 1450.7 L797.8 1455.2 L791.3 1458.1Z" fill="#2fb870"/><path d="M791.1 1457.7 L797.5 1454.9 L800.7 1459.3 L794.3 1462.2Z" fill="#1a8fc0"/><path d="M794.1 1461.8 L800.5 1459 L803.6 1463.4 L797.2 1466.3Z" fill="#159098"/><path d="M767.7 1414 L774.1 1411.1 L777.2 1415.6 L770.8 1418.4Z" fill="#28a890"/><path d="M770.6 1418.1 L777 1415.2 L780.2 1419.7 L773.8 1422.5Z" fill="#0e0e84"/><path d="M773.5 1422.2 L779.9 1419.3 L783.1 1423.8 L776.7 1426.6Z" fill="#3ac050"/><path d="M776.5 1426.3 L782.9 1423.4 L786.1 1427.9 L779.7 1430.8Z" fill="#22a8a0"/><path d="M779.4 1430.4 L785.8 1427.5 L789 1432 L782.6 1434.9Z" fill="#1212a0"/><path d="M782.4 1434.5 L788.8 1431.7 L791.9 1436.1 L785.5 1439Z" fill="#1212a0"/><path d="M785.3 1438.6 L791.7 1435.8 L794.9 1440.2 L788.5 1443.1Z" fill="#28a890"/><path d="M788.2 1442.7 L794.6 1439.9 L797.8 1444.3 L791.4 1447.2Z" fill="#30b060"/><path d="M791.2 1446.9 L797.6 1444 L800.7 1448.4 L794.3 1451.3Z" fill="#28a890"/><path d="M794.1 1451 L800.5 1448.1 L803.7 1452.5 L797.3 1455.4Z" fill="#1a8fc0"/><path d="M797 1455.1 L803.4 1452.2 L806.6 1456.6 L800.2 1459.5Z" fill="#159098"/><path d="M800 1459.2 L806.4 1456.3 L809.6 1460.7 L803.2 1463.6Z" fill="#2fb870"/><path d="M773.6 1411.3 L780 1408.5 L783.2 1412.9 L776.8 1415.8Z" fill="#0e0e84"/><path d="M776.5 1415.4 L782.9 1412.6 L786.1 1417 L779.7 1419.9Z" fill="#2fb870"/><path d="M779.5 1419.5 L785.9 1416.7 L789 1421.1 L782.6 1424Z" fill="#2380c8"/><path d="M782.4 1423.7 L788.8 1420.8 L792 1425.2 L785.6 1428.1Z" fill="#22a8a0"/><path d="M785.3 1427.8 L791.7 1424.9 L794.9 1429.3 L788.5 1432.2Z" fill="#2fb870"/><path d="M788.3 1431.9 L794.7 1429 L797.9 1433.4 L791.5 1436.3Z" fill="#159098"/><path d="M791.2 1436 L797.6 1433.1 L800.8 1437.5 L794.4 1440.4Z" fill="#159098"/><path d="M794.2 1440.1 L800.6 1437.2 L803.7 1441.6 L797.3 1444.5Z" fill="#2fb870"/><path d="M797.1 1444.2 L803.5 1441.3 L806.7 1445.8 L800.3 1448.6Z" fill="#22b0b0"/><path d="M779.5 1408.7 L785.9 1405.8 L789.1 1410.2 L782.7 1413.1Z" fill="#0e0e84"/><path d="M782.5 1412.8 L788.9 1409.9 L792 1414.3 L785.6 1417.2Z" fill="#1f9ab0"/><path d="M785.4 1416.9 L791.8 1414 L795 1418.4 L788.6 1421.3Z" fill="#3ac050"/><path d="M788.3 1421 L794.7 1418.1 L797.9 1422.5 L791.5 1425.4Z" fill="#1a8fc0"/><path d="M791.3 1425.1 L797.7 1422.2 L800.9 1426.7 L794.4 1429.5Z" fill="#2380c8"/><path d="M794.2 1429.2 L800.6 1426.3 L803.8 1430.8 L797.4 1433.6Z" fill="#3ac050"/><path d="M797.2 1433.3 L803.6 1430.4 L806.7 1434.9 L800.3 1437.7Z" fill="#28a890"/><path d="M800.1 1437.4 L806.5 1434.5 L809.7 1439 L803.3 1441.9Z" fill="#1a8fc0"/><path d="M803 1441.5 L809.4 1438.7 L812.6 1443.1 L806.2 1446Z" fill="#2fb870"/><path d="M785.5 1406 L791.9 1403.1 L795 1407.6 L788.6 1410.4Z" fill="#22a8a0"/><path d="M788.4 1410.1 L794.8 1407.2 L798 1411.7 L791.6 1414.5Z" fill="#3ac050"/><path d="M791.3 1414.2 L797.7 1411.3 L800.9 1415.8 L794.5 1418.7Z" fill="#1a8fc0"/><path d="M794.3 1418.3 L800.7 1415.4 L803.8 1419.9 L797.4 1422.8Z" fill="#159098"/><path d="M797.2 1422.4 L803.6 1419.6 L806.8 1424 L800.4 1426.9Z" fill="#2fb870"/><path d="M800.1 1426.5 L806.5 1423.7 L809.7 1428.1 L803.3 1431Z" fill="#2fb870"/><path d="M806 1434.8 L812.4 1431.9 L815.6 1436.3 L809.2 1439.2Z" fill="#3ac050"/><path d="M791.4 1403.3 L797.8 1400.5 L801 1404.9 L794.6 1407.8Z" fill="#2fb870"/><path d="M794.3 1407.4 L800.7 1404.6 L803.9 1409 L797.5 1411.9Z" fill="#28a890"/><path d="M797.3 1411.6 L803.7 1408.7 L806.8 1413.1 L800.4 1416Z" fill="#2380c8"/><path d="M800.2 1415.7 L806.6 1412.8 L809.8 1417.2 L803.4 1420.1Z" fill="#2380c8"/><path d="M803.1 1419.8 L809.5 1416.9 L812.7 1421.3 L806.3 1424.2Z" fill="#3ac050"/><path d="M806.1 1423.9 L812.5 1421 L815.6 1425.4 L809.2 1428.3Z" fill="#1f9ab0"/><path d="M809 1428 L815.4 1425.1 L818.6 1429.5 L812.2 1432.4Z" fill="#1a8fc0"/><path d="M797.3 1400.7 L803.7 1397.8 L806.9 1402.2 L800.5 1405.1Z" fill="#1f9ab0"/><path d="M800.3 1404.8 L806.7 1401.9 L809.8 1406.3 L803.4 1409.2Z" fill="#22b0b0"/><path d="M803.2 1408.9 L809.6 1406 L812.8 1410.5 L806.4 1413.3Z" fill="#22b0b0"/><path d="M806.1 1413 L812.5 1410.1 L815.7 1414.6 L809.3 1417.4Z" fill="#1f9ab0"/>
<path d="M713.1 1463.2 L742.7 1449.8 M763.3 1467.7 L775.1 1484.2 M730.9 1444.3 L739.7 1456.6 M730.7 1476.9 L745.4 1497.5 M804.9 1427.3 L822.7 1419.3 M796.2 1404.1 L805 1416.4 M733.7 1470.2 L763.4 1456.8 M742.8 1439 L748.6 1447.2 M784.2 1442.1 L790 1450.3 M754.6 1433.6 L766.5 1428.3 M751.5 1473 L760.3 1485.4 M730.9 1444.3 L748.7 1436.3 M796.1 1415 L813.9 1407 M742.8 1428.1 L757.5 1448.6 M798.9 1440.9 L828.6 1427.5 M784.3 1420.3 L808 1409.7 M813.9 1417.9 L831.6 1409.9 M730.7 1487.8 L748.5 1479.8 M721.8 1486.4 L739.6 1478.4 M790.2 1406.8 L796.1 1415 M757.6 1426.9 L766.4 1439.2 M801.8 1455.8 L819.6 1447.9 M704.2 1450.8 L733.9 1437.5 M787.1 1446.2 L793 1454.4 M787.2 1424.4 L801.9 1445 M778.4 1412.1 L796.2 1404.1 M781.1 1459.7 L787 1467.9 M790.2 1406.8 L802.1 1401.5 M745.7 1432.2 L760.4 1452.7 M787.1 1446.2 L816.7 1432.9 M757.5 1448.6 L781.2 1438 M807.9 1431.4 L831.6 1420.8 M748.6 1458.1 L778.2 1444.7 M763.2 1489.5 L781 1481.5 M724.9 1468.7 L748.6 1458.1 M775.3 1429.8 L805 1416.4 M757.4 1470.4 L766.2 1482.7 M716 1456.4 L733.8 1448.4 M707.2 1444.1 L713.1 1452.3 M778.3 1423 L784.2 1431.2 M792.9 1465.3 L807.6 1485.8 M772.4 1425.7 L787.1 1446.2 M796.1 1425.9 L810.8 1446.4 M796.2 1404.1 L805 1416.4 M686.5 1447.9 L716.2 1434.6" stroke="#0c0c7c" stroke-width="2.0" stroke-opacity="1.0" fill="none" stroke-linecap="butt"/>
<path d="M816.4 1498.1 L828.2 1514.6 M825.4 1467 L834.3 1479.3 M786.9 1478.8 L798.8 1473.5 M780.8 1525 L804.5 1514.3 M852 1471.3 L857.9 1479.5 M846 1495.7 L848.9 1499.8 M757.1 1524.8 L763 1522.1 M778 1499.1 L795.7 1491.1 M840.2 1476.6 L863.9 1466 M810.6 1479.1 L828.4 1471.1 M828.2 1514.6 L831.1 1518.7 M840.2 1465.7 L843.2 1469.8 M840.3 1444 L843.3 1448.1 M822.6 1452 L846.3 1441.3 M804.6 1492.6 L810.5 1489.9 M825.4 1477.8 L837.2 1472.5 M828.5 1438.4 L831.5 1442.5 M851.9 1493 L863.7 1509.5 M834.2 1490.2 L857.9 1479.5 M878.6 1486.5 L884.5 1494.7 M754.2 1520.7 L760.1 1528.9 M822.5 1462.8 L831.3 1475.2 M813.4 1515.8 L819.2 1524 M813.5 1494 L816.4 1498.1 M801.8 1466.7 L804.7 1470.8 M813.4 1504.9 L816.4 1509 M840.3 1454.9 L852.1 1449.5 M795.7 1491.1 L801.6 1499.4 M852 1471.3 L869.8 1463.3 M837.3 1461.6 L849 1478.1 M831.4 1453.4 L837.4 1450.7 M857.8 1501.3 L866.6 1513.6 M860.9 1483.6 L863.8 1487.7 M757.2 1513.9 L763 1522.1 M792.7 1508.8 L798.6 1506.1 M816.4 1509 L822.3 1506.4 M763.2 1500.4 L774.9 1516.8 M860.8 1494.5 L866.7 1491.8 M822.3 1495.5 L828.3 1492.8 M828.3 1492.8 L846.1 1484.8 M843.2 1459 L846.2 1463.1 M769 1508.6 L786.8 1500.6 M813.9 1407 L819.8 1404.3 M768.9 1530.3 L771.9 1534.4 M822.6 1452 L828.4 1460.2 M846.1 1474 L852 1482.2 M843 1502.5 L854.8 1518.9 M825.2 1521.3 L834 1533.7 M816.4 1509 L840.1 1498.4 M792.7 1497.9 L795.7 1502 M760.2 1507.1 L778 1499.1 M822.6 1441.1 L828.5 1438.4 M837.1 1505.1 L843 1513.4 M807.5 1496.7 L831.3 1486 M760.2 1507.1 L769 1519.4 M848.9 1499.8 L860.8 1494.5 M786.7 1522.3 L792.6 1519.7 M795.8 1469.4 L813.6 1461.4 M834.4 1457.5 L858.1 1446.9 M828.6 1427.5 L834.5 1435.8 M816.6 1465.5 L828.3 1481.9 M858 1468.6 L869.8 1463.3 M816.5 1476.4 L840.2 1465.7 M786.8 1500.6 L804.6 1492.6 M837.2 1472.5 L861 1461.9 M837 1516 L854.8 1508 M828.1 1525.5 L834 1522.8 M807.8 1453.2 L825.5 1445.2 M769 1519.4 L774.9 1527.7 M810.6 1468.2 L813.6 1472.3" stroke="#0e0e84" stroke-width="3.0" stroke-opacity="1.0" fill="none" stroke-linecap="butt"/>
<path d="M752.3 1524 L758.7 1521.1 L761.9 1525.6 L755.5 1528.4Z" fill="#22b0b0"/><path d="M758.2 1532.2 L764.6 1529.3 L767.8 1533.8 L761.4 1536.6Z" fill="#1a8fc0"/><path d="M755.3 1517.2 L761.7 1514.3 L764.9 1518.8 L758.5 1521.7Z" fill="#10108c"/><path d="M770.1 1526.9 L776.5 1524 L779.6 1528.4 L773.2 1531.3Z" fill="#1a8fc0"/><path d="M758.4 1499.6 L764.8 1496.7 L767.9 1501.1 L761.5 1504Z" fill="#10108c"/><path d="M764.2 1507.8 L770.6 1504.9 L773.8 1509.4 L767.4 1512.2Z" fill="#22b0b0"/><path d="M770.2 1505.1 L776.6 1502.3 L779.7 1506.7 L773.3 1509.6Z" fill="#10108c"/><path d="M773.1 1509.2 L779.5 1506.4 L782.7 1510.8 L776.3 1513.7Z" fill="#22b0b0"/><path d="M776 1513.3 L782.4 1510.5 L785.6 1514.9 L779.2 1517.8Z" fill="#10108c"/><path d="M779.1 1495.7 L785.5 1492.8 L788.7 1497.3 L782.3 1500.1Z" fill="#22b0b0"/><path d="M782 1499.8 L788.4 1496.9 L791.6 1501.4 L785.2 1504.2Z" fill="#10108c"/><path d="M788 1497.1 L794.4 1494.3 L797.5 1498.7 L791.1 1501.6Z" fill="#1a8fc0"/><path d="M790.9 1501.2 L797.3 1498.4 L800.5 1502.8 L794.1 1505.7Z" fill="#0e0e84"/><path d="M785.1 1482.2 L791.5 1479.3 L794.7 1483.7 L788.2 1486.6Z" fill="#1a8fc0"/><path d="M811.6 1508.2 L818 1505.4 L821.1 1509.8 L814.7 1512.7Z" fill="#1a8fc0"/><path d="M826.3 1517.9 L832.7 1515 L835.9 1519.5 L829.5 1522.3Z" fill="#0e0e84"/><path d="M802.9 1474.2 L809.3 1471.3 L812.4 1475.7 L806 1478.6Z" fill="#10108c"/><path d="M832.3 1504.4 L838.7 1501.5 L841.9 1505.9 L835.5 1508.8Z" fill="#1a8fc0"/><path d="M820.6 1477.1 L827 1474.2 L830.2 1478.6 L823.8 1481.5Z" fill="#0e0e84"/><path d="M844.2 1499 L850.6 1496.2 L853.7 1500.6 L847.3 1503.5Z" fill="#22b0b0"/><path d="M823.6 1459.4 L830 1456.5 L833.2 1461 L826.8 1463.8Z" fill="#1a8fc0"/><path d="M832.5 1460.8 L838.9 1458 L842.1 1462.4 L835.7 1465.3Z" fill="#22b0b0"/><path d="M838.4 1469.1 L844.8 1466.2 L848 1470.6 L841.6 1473.5Z" fill="#10108c"/><path d="M812 1421.2 L818.4 1418.3 L821.6 1422.8 L815.2 1425.7Z" fill="#1a8fc0"/><path d="M823.8 1437.6 L830.2 1434.8 L833.3 1439.2 L826.9 1442.1Z" fill="#0e0e84"/><path d="M856.1 1482.8 L862.5 1480 L865.6 1484.4 L859.2 1487.3Z" fill="#0e0e84"/><path d="M859 1486.9 L865.4 1484.1 L868.6 1488.5 L862.2 1491.4Z" fill="#22b0b0"/>
<path d="M878.5 1722.4 L884.9 1719.5 L888.1 1723.9 L881.7 1726.8Z" fill="#30b060"/><path d="M881.5 1726.5 L887.9 1723.6 L891.1 1728 L884.6 1730.9Z" fill="#2a9cb8"/><path d="M884.4 1730.6 L890.8 1727.7 L894 1732.2 L887.6 1735Z" fill="#1a8fc0"/><path d="M887.3 1734.7 L893.8 1731.8 L896.9 1736.3 L890.5 1739.1Z" fill="#1212a0"/><path d="M890.3 1738.8 L896.7 1735.9 L899.9 1740.4 L893.5 1743.2Z" fill="#0e0e84"/><path d="M893.2 1742.9 L899.6 1740 L902.8 1744.5 L896.4 1747.4Z" fill="#1212a0"/><path d="M896.2 1747 L902.6 1744.2 L905.7 1748.6 L899.3 1751.5Z" fill="#2a9cb8"/><path d="M899.1 1751.1 L905.5 1748.3 L908.7 1752.7 L902.3 1755.6Z" fill="#0e0e84"/><path d="M902 1755.2 L908.4 1752.4 L911.6 1756.8 L905.2 1759.7Z" fill="#159098"/><path d="M905 1759.4 L911.4 1756.5 L914.6 1760.9 L908.1 1763.8Z" fill="#3ac050"/><path d="M907.9 1763.5 L914.3 1760.6 L917.5 1765 L911.1 1767.9Z" fill="#159098"/><path d="M910.8 1767.6 L917.3 1764.7 L920.4 1769.1 L914 1772Z" fill="#2a9cb8"/><path d="M887.4 1723.8 L893.8 1720.9 L897 1725.4 L890.6 1728.3Z" fill="#1f9ab0"/><path d="M890.3 1727.9 L896.7 1725.1 L899.9 1729.5 L893.5 1732.4Z" fill="#30b060"/><path d="M893.3 1732 L899.7 1729.2 L902.9 1733.6 L896.5 1736.5Z" fill="#1f9ab0"/><path d="M896.2 1736.1 L902.6 1733.3 L905.8 1737.7 L899.4 1740.6Z" fill="#22b0b0"/><path d="M899.2 1740.3 L905.6 1737.4 L908.7 1741.8 L902.3 1744.7Z" fill="#3ac050"/><path d="M902.1 1744.4 L908.5 1741.5 L911.7 1745.9 L905.3 1748.8Z" fill="#0e0e84"/><path d="M905 1748.5 L911.4 1745.6 L914.6 1750 L908.2 1752.9Z" fill="#2a9cb8"/><path d="M908 1752.6 L914.4 1749.7 L917.5 1754.1 L911.1 1757Z" fill="#2fb870"/><path d="M910.9 1756.7 L917.3 1753.8 L920.5 1758.2 L914.1 1761.1Z" fill="#2a9cb8"/><path d="M913.8 1760.8 L920.2 1757.9 L923.4 1762.4 L917 1765.2Z" fill="#3ac050"/><path d="M916.8 1764.9 L923.2 1762 L926.4 1766.5 L920 1769.3Z" fill="#0e0e84"/><path d="M893.3 1721.2 L899.7 1718.3 L902.9 1722.7 L896.5 1725.6Z" fill="#0e0e84"/><path d="M896.3 1725.3 L902.7 1722.4 L905.8 1726.8 L899.4 1729.7Z" fill="#2fb870"/><path d="M902.1 1733.5 L908.5 1730.6 L911.7 1735 L905.3 1737.9Z" fill="#1212a0"/><path d="M905.1 1737.6 L911.5 1734.7 L914.7 1739.2 L908.3 1742Z" fill="#0e0e84"/><path d="M908 1741.7 L914.4 1738.8 L917.6 1743.3 L911.2 1746.1Z" fill="#1a8fc0"/><path d="M911 1745.8 L917.4 1742.9 L920.5 1747.4 L914.1 1750.2Z" fill="#22a8a0"/><path d="M913.9 1749.9 L920.3 1747 L923.5 1751.5 L917.1 1754.4Z" fill="#30b060"/><path d="M916.8 1754 L923.2 1751.1 L926.4 1755.6 L920 1758.5Z" fill="#28a890"/><path d="M919.8 1758.1 L926.2 1755.3 L929.3 1759.7 L922.9 1762.6Z" fill="#1f9ab0"/><path d="M922.7 1762.2 L929.1 1759.4 L932.3 1763.8 L925.9 1766.7Z" fill="#2fb870"/><path d="M899.3 1718.5 L905.7 1715.6 L908.8 1720.1 L902.4 1722.9Z" fill="#1f9ab0"/><path d="M902.2 1722.6 L908.6 1719.7 L911.8 1724.2 L905.4 1727Z" fill="#28a890"/><path d="M905.1 1726.7 L911.5 1723.8 L914.7 1728.3 L908.3 1731.2Z" fill="#2a9cb8"/><path d="M908.1 1730.8 L914.5 1727.9 L917.7 1732.4 L911.2 1735.3Z" fill="#1f9ab0"/><path d="M911 1734.9 L917.4 1732.1 L920.6 1736.5 L914.2 1739.4Z" fill="#30b060"/><path d="M913.9 1739 L920.4 1736.2 L923.5 1740.6 L917.1 1743.5Z" fill="#22a8a0"/><path d="M916.9 1743.1 L923.3 1740.3 L926.5 1744.7 L920.1 1747.6Z" fill="#3ac050"/><path d="M919.8 1747.3 L926.2 1744.4 L929.4 1748.8 L923 1751.7Z" fill="#2a9cb8"/><path d="M922.8 1751.4 L929.2 1748.5 L932.3 1752.9 L925.9 1755.8Z" fill="#30b060"/><path d="M925.7 1755.5 L932.1 1752.6 L935.3 1757 L928.9 1759.9Z" fill="#0e0e84"/><path d="M928.6 1759.6 L935 1756.7 L938.2 1761.1 L931.8 1764Z" fill="#28a890"/><path d="M905.2 1715.8 L911.6 1713 L914.8 1717.4 L908.4 1720.3Z" fill="#30b060"/><path d="M908.1 1719.9 L914.5 1717.1 L917.7 1721.5 L911.3 1724.4Z" fill="#2380c8"/><path d="M911.1 1724.1 L917.5 1721.2 L920.6 1725.6 L914.2 1728.5Z" fill="#30b060"/><path d="M914 1728.2 L920.4 1725.3 L923.6 1729.7 L917.2 1732.6Z" fill="#0e0e84"/><path d="M916.9 1732.3 L923.3 1729.4 L926.5 1733.8 L920.1 1736.7Z" fill="#2a9cb8"/><path d="M919.9 1736.4 L926.3 1733.5 L929.5 1737.9 L923.1 1740.8Z" fill="#1f9ab0"/><path d="M922.8 1740.5 L929.2 1737.6 L932.4 1742 L926 1744.9Z" fill="#22b0b0"/><path d="M925.8 1744.6 L932.2 1741.7 L935.3 1746.2 L928.9 1749Z" fill="#2380c8"/><path d="M928.7 1748.7 L935.1 1745.8 L938.3 1750.3 L931.9 1753.1Z" fill="#2a9cb8"/><path d="M931.6 1752.8 L938 1749.9 L941.2 1754.4 L934.8 1757.2Z" fill="#28a890"/><path d="M934.6 1756.9 L941 1754 L944.1 1758.5 L937.7 1761.3Z" fill="#2380c8"/><path d="M914.1 1717.3 L920.5 1714.4 L923.6 1718.8 L917.2 1721.7Z" fill="#30b060"/><path d="M917 1721.4 L923.4 1718.5 L926.6 1722.9 L920.2 1725.8Z" fill="#1f9ab0"/><path d="M919.9 1725.5 L926.3 1722.6 L929.5 1727.1 L923.1 1729.9Z" fill="#2a9cb8"/><path d="M922.9 1729.6 L929.3 1726.7 L932.4 1731.2 L926 1734Z" fill="#2fb870"/><path d="M925.8 1733.7 L932.2 1730.8 L935.4 1735.3 L929 1738.1Z" fill="#1a8fc0"/><path d="M928.7 1737.8 L935.1 1734.9 L938.3 1739.4 L931.9 1742.3Z" fill="#28a890"/><path d="M931.7 1741.9 L938.1 1739.1 L941.3 1743.5 L934.9 1746.4Z" fill="#22a8a0"/><path d="M934.6 1746 L941 1743.2 L944.2 1747.6 L937.8 1750.5Z" fill="#1212a0"/><path d="M937.6 1750.1 L944 1747.3 L947.1 1751.7 L940.7 1754.6Z" fill="#159098"/><path d="M940.5 1754.3 L946.9 1751.4 L950.1 1755.8 L943.7 1758.7Z" fill="#30b060"/><path d="M917 1710.5 L923.5 1707.6 L926.6 1712.1 L920.2 1714.9Z" fill="#28a890"/><path d="M920 1714.6 L926.4 1711.7 L929.6 1716.2 L923.2 1719.1Z" fill="#22b0b0"/><path d="M922.9 1718.7 L929.3 1715.8 L932.5 1720.3 L926.1 1723.2Z" fill="#1a8fc0"/><path d="M925.9 1722.8 L932.3 1720 L935.4 1724.4 L929 1727.3Z" fill="#1a8fc0"/><path d="M928.8 1726.9 L935.2 1724.1 L938.4 1728.5 L932 1731.4Z" fill="#22a8a0"/><path d="M931.7 1731 L938.1 1728.2 L941.3 1732.6 L934.9 1735.5Z" fill="#30b060"/><path d="M934.7 1735.2 L941.1 1732.3 L944.3 1736.7 L937.8 1739.6Z" fill="#3ac050"/><path d="M937.6 1739.3 L944 1736.4 L947.2 1740.8 L940.8 1743.7Z" fill="#3ac050"/><path d="M940.6 1743.4 L947 1740.5 L950.1 1744.9 L943.7 1747.8Z" fill="#2a9cb8"/><path d="M943.5 1747.5 L949.9 1744.6 L953.1 1749 L946.7 1751.9Z" fill="#159098"/><path d="M946.4 1751.6 L952.8 1748.7 L956 1753.1 L949.6 1756Z" fill="#3ac050"/><path d="M923 1707.8 L929.4 1705 L932.6 1709.4 L926.2 1712.3Z" fill="#0e0e84"/><path d="M925.9 1712 L932.3 1709.1 L935.5 1713.5 L929.1 1716.4Z" fill="#159098"/><path d="M928.9 1716.1 L935.3 1713.2 L938.4 1717.6 L932 1720.5Z" fill="#1a8fc0"/><path d="M931.8 1720.2 L938.2 1717.3 L941.4 1721.7 L935 1724.6Z" fill="#22b0b0"/><path d="M934.7 1724.3 L941.1 1721.4 L944.3 1725.8 L937.9 1728.7Z" fill="#2380c8"/><path d="M937.7 1728.4 L944.1 1725.5 L947.2 1729.9 L940.8 1732.8Z" fill="#2380c8"/><path d="M940.6 1732.5 L947 1729.6 L950.2 1734.1 L943.8 1736.9Z" fill="#30b060"/><path d="M943.5 1736.6 L949.9 1733.7 L953.1 1738.2 L946.7 1741Z" fill="#30b060"/><path d="M946.5 1740.7 L952.9 1737.8 L956.1 1742.3 L949.7 1745.1Z" fill="#1f9ab0"/><path d="M949.4 1744.8 L955.8 1741.9 L959 1746.4 L952.6 1749.3Z" fill="#30b060"/><path d="M952.4 1748.9 L958.8 1746 L961.9 1750.5 L955.5 1753.4Z" fill="#2380c8"/><path d="M928.9 1705.2 L935.3 1702.3 L938.5 1706.7 L932.1 1709.6Z" fill="#1f9ab0"/><path d="M931.8 1709.3 L938.2 1706.4 L941.4 1710.9 L935 1713.7Z" fill="#22a8a0"/><path d="M934.8 1713.4 L941.2 1710.5 L944.4 1715 L938 1717.8Z" fill="#1a8fc0"/><path d="M937.7 1717.5 L944.1 1714.6 L947.3 1719.1 L940.9 1721.9Z" fill="#2a9cb8"/><path d="M940.7 1721.6 L947.1 1718.7 L950.2 1723.2 L943.8 1726.1Z" fill="#2fb870"/><path d="M943.6 1725.7 L950 1722.8 L953.2 1727.3 L946.8 1730.2Z" fill="#1a8fc0"/><path d="M946.5 1729.8 L952.9 1727 L956.1 1731.4 L949.7 1734.3Z" fill="#1212a0"/><path d="M949.5 1733.9 L955.9 1731.1 L959 1735.5 L952.6 1738.4Z" fill="#0e0e84"/><path d="M952.4 1738 L958.8 1735.2 L962 1739.6 L955.6 1742.5Z" fill="#159098"/><path d="M955.3 1742.2 L961.8 1739.3 L964.9 1743.7 L958.5 1746.6Z" fill="#3ac050"/><path d="M958.3 1746.3 L964.7 1743.4 L967.9 1747.8 L961.5 1750.7Z" fill="#28a890"/><path d="M934.8 1702.5 L941.2 1699.6 L944.4 1704.1 L938 1707Z" fill="#2380c8"/><path d="M937.8 1706.6 L944.2 1703.8 L947.4 1708.2 L940.9 1711.1Z" fill="#3ac050"/><path d="M940.7 1710.7 L947.1 1707.9 L950.3 1712.3 L943.9 1715.2Z" fill="#2380c8"/><path d="M943.7 1714.8 L950.1 1712 L953.2 1716.4 L946.8 1719.3Z" fill="#3ac050"/><path d="M946.6 1719 L953 1716.1 L956.2 1720.5 L949.8 1723.4Z" fill="#3ac050"/><path d="M949.5 1723.1 L955.9 1720.2 L959.1 1724.6 L952.7 1727.5Z" fill="#3ac050"/><path d="M952.5 1727.2 L958.9 1724.3 L962 1728.7 L955.6 1731.6Z" fill="#159098"/><path d="M955.4 1731.3 L961.8 1728.4 L965 1732.8 L958.6 1735.7Z" fill="#28a890"/><path d="M958.3 1735.4 L964.7 1732.5 L967.9 1736.9 L961.5 1739.8Z" fill="#28a890"/><path d="M961.3 1739.5 L967.7 1736.6 L970.9 1741.1 L964.4 1743.9Z" fill="#28a890"/><path d="M964.2 1743.6 L970.6 1740.7 L973.8 1745.2 L967.4 1748Z" fill="#2fb870"/><path d="M943.7 1704 L950.1 1701.1 L953.3 1705.5 L946.9 1708.4Z" fill="#159098"/><path d="M946.6 1708.1 L953 1705.2 L956.2 1709.6 L949.8 1712.5Z" fill="#1212a0"/><path d="M949.6 1712.2 L956 1709.3 L959.2 1713.7 L952.8 1716.6Z" fill="#30b060"/><path d="M952.5 1716.3 L958.9 1713.4 L962.1 1717.8 L955.7 1720.7Z" fill="#1212a0"/><path d="M955.5 1720.4 L961.9 1717.5 L965 1722 L958.6 1724.8Z" fill="#22a8a0"/><path d="M958.4 1724.5 L964.8 1721.6 L968 1726.1 L961.6 1728.9Z" fill="#1212a0"/><path d="M961.3 1728.6 L967.7 1725.7 L970.9 1730.2 L964.5 1733Z" fill="#22b0b0"/><path d="M964.3 1732.7 L970.7 1729.8 L973.8 1734.3 L967.4 1737.2Z" fill="#0e0e84"/><path d="M967.2 1736.8 L973.6 1734 L976.8 1738.4 L970.4 1741.3Z" fill="#2380c8"/><path d="M970.1 1740.9 L976.5 1738.1 L979.7 1742.5 L973.3 1745.4Z" fill="#1a8fc0"/><path d="M949.6 1701.3 L956 1698.4 L959.2 1702.9 L952.8 1705.7Z" fill="#1f9ab0"/><path d="M952.6 1705.4 L959 1702.5 L962.1 1707 L955.7 1709.8Z" fill="#2fb870"/><path d="M955.5 1709.5 L961.9 1706.6 L965.1 1711.1 L958.7 1714Z" fill="#0e0e84"/><path d="M958.4 1713.6 L964.9 1710.7 L968 1715.2 L961.6 1718.1Z" fill="#22b0b0"/><path d="M961.4 1717.7 L967.8 1714.9 L971 1719.3 L964.6 1722.2Z" fill="#2fb870"/><path d="M964.3 1721.8 L970.7 1719 L973.9 1723.4 L967.5 1726.3Z" fill="#2fb870"/><path d="M967.3 1725.9 L973.7 1723.1 L976.8 1727.5 L970.4 1730.4Z" fill="#2a9cb8"/><path d="M970.2 1730.1 L976.6 1727.2 L979.8 1731.6 L973.4 1734.5Z" fill="#22b0b0"/><path d="M973.1 1734.2 L979.5 1731.3 L982.7 1735.7 L976.3 1738.6Z" fill="#1a8fc0"/><path d="M976.1 1738.3 L982.5 1735.4 L985.6 1739.8 L979.2 1742.7Z" fill="#30b060"/><path d="M958.5 1702.7 L964.9 1699.9 L968.1 1704.3 L961.7 1707.2Z" fill="#0e0e84"/><path d="M961.4 1706.9 L967.8 1704 L971 1708.4 L964.6 1711.3Z" fill="#22a8a0"/><path d="M964.4 1711 L970.8 1708.1 L974 1712.5 L967.5 1715.4Z" fill="#3ac050"/><path d="M967.3 1715.1 L973.7 1712.2 L976.9 1716.6 L970.5 1719.5Z" fill="#30b060"/><path d="M970.3 1719.2 L976.7 1716.3 L979.8 1720.7 L973.4 1723.6Z" fill="#3ac050"/><path d="M973.2 1723.3 L979.6 1720.4 L982.8 1724.8 L976.4 1727.7Z" fill="#2380c8"/><path d="M979.1 1731.5 L985.5 1728.6 L988.6 1733.1 L982.2 1735.9Z" fill="#3ac050"/><path d="M982 1735.6 L988.4 1732.7 L991.6 1737.2 L985.2 1740Z" fill="#159098"/><path d="M961.5 1696 L967.9 1693.1 L971.1 1697.5 L964.7 1700.4Z" fill="#30b060"/><path d="M964.4 1700.1 L970.8 1697.2 L974 1701.6 L967.6 1704.5Z" fill="#22a8a0"/><path d="M967.4 1704.2 L973.8 1701.3 L976.9 1705.8 L970.5 1708.6Z" fill="#1212a0"/><path d="M970.3 1708.3 L976.7 1705.4 L979.9 1709.9 L973.5 1712.7Z" fill="#28a890"/><path d="M973.2 1712.4 L979.6 1709.5 L982.8 1714 L976.4 1716.8Z" fill="#22b0b0"/><path d="M976.2 1716.5 L982.6 1713.6 L985.8 1718.1 L979.4 1721Z" fill="#22a8a0"/><path d="M979.1 1720.6 L985.5 1717.7 L988.7 1722.2 L982.3 1725.1Z" fill="#22a8a0"/><path d="M982.1 1724.7 L988.5 1721.9 L991.6 1726.3 L985.2 1729.2Z" fill="#159098"/><path d="M985 1728.8 L991.4 1726 L994.6 1730.4 L988.2 1733.3Z" fill="#2380c8"/><path d="M987.9 1732.9 L994.3 1730.1 L997.5 1734.5 L991.1 1737.4Z" fill="#0e0e84"/><path d="M967.4 1693.3 L973.8 1690.4 L977 1694.9 L970.6 1697.7Z" fill="#30b060"/><path d="M970.4 1697.4 L976.8 1694.5 L979.9 1699 L973.5 1701.9Z" fill="#1f9ab0"/><path d="M973.3 1701.5 L979.7 1698.7 L982.9 1703.1 L976.5 1706Z" fill="#2a9cb8"/><path d="M976.2 1705.6 L982.6 1702.8 L985.8 1707.2 L979.4 1710.1Z" fill="#1f9ab0"/><path d="M979.2 1709.7 L985.6 1706.9 L988.7 1711.3 L982.3 1714.2Z" fill="#3ac050"/><path d="M982.1 1713.9 L988.5 1711 L991.7 1715.4 L985.3 1718.3Z" fill="#30b060"/><path d="M985 1718 L991.5 1715.1 L994.6 1719.5 L988.2 1722.4Z" fill="#1212a0"/><path d="M988 1722.1 L994.4 1719.2 L997.6 1723.6 L991.2 1726.5Z" fill="#28a890"/><path d="M990.9 1726.2 L997.3 1723.3 L1000.5 1727.7 L994.1 1730.6Z" fill="#2a9cb8"/><path d="M993.9 1730.3 L1000.3 1727.4 L1003.4 1731.8 L997 1734.7Z" fill="#3ac050"/>
<path d="M969.2 1711.7 L981 1706.4 M909.8 1760.1 L915.6 1768.3 M966.1 1729.4 L980.8 1749.9 M951.4 1708.9 L957.3 1717.1 M933.4 1760.4 L945.2 1776.8 M895.1 1739.6 L912.9 1731.6 M898 1743.7 L909.9 1738.4 M921.7 1733 L933.5 1749.5 M924.6 1758.9 L954.2 1745.6 M954.3 1734.7 L978 1724.1 M980.9 1728.2 L989.7 1740.5 M924.8 1715.4 L942.6 1707.4 M960.3 1710.3 L972.2 1705 M972.1 1715.9 L980.9 1728.2 M974.9 1741.7 L1004.6 1728.4 M895.1 1728.7 L909.8 1749.3 M975.1 1709.1 L987 1703.8 M918.6 1761.6 L948.3 1748.3 M972 1726.7 L1001.7 1713.4 M995.7 1737.8 L1019.4 1727.2 M915.8 1735.7 L921.7 1743.9 M918.6 1761.6 L942.3 1750.9 M927.6 1741.3 L939.5 1735.9 M918.6 1761.6 L930.4 1778 M906.9 1745.1 L930.6 1734.5 M924.6 1758.9 L936.4 1753.6 M951.5 1698 L957.4 1706.2 M921.6 1754.8 L933.5 1749.5 M939.4 1757.7 L945.2 1765.9 M939.5 1725.1 L951.4 1719.7 M901.1 1726.1 L930.7 1712.7 M942.5 1718.3 L972.2 1705 M954.2 1745.6 L983.9 1732.3 M957.4 1706.2 L975.1 1698.2 M978 1724.1 L992.7 1744.6 M969.1 1722.6 L998.8 1709.3 M975.1 1709.1 L987 1703.8 M912.9 1720.7 L921.7 1733 M898 1743.7 L909.9 1738.4 M951.2 1752.4 L969 1744.4 M948.3 1737.4 L972 1726.7 M886.3 1727.3 L910 1716.6 M966.2 1707.6 L989.9 1697 M904 1719.3 L909.9 1727.5 M924.7 1737.2 L936.5 1731.8" stroke="#0c0c7c" stroke-width="2.0" stroke-opacity="1.0" fill="none" stroke-linecap="butt"/>
<path d="M984.2 1656.1 L1007.9 1645.5 M969.3 1690 L972.2 1694.1 M898.3 1689.3 L907.1 1701.6 M880.5 1697.3 L889.3 1709.6 M871.6 1706.7 L883.3 1723.2 M918.9 1707.2 L921.8 1711.3 M972.3 1672.3 L978.2 1669.7 M945.8 1646.2 L948.8 1650.4 M969.5 1635.6 L987.3 1627.6 M880.4 1719.1 L883.3 1723.2 M922.2 1646 L945.9 1635.4 M924.9 1693.6 L927.8 1697.7 M978.5 1626.2 L984.4 1623.5 M886.5 1672.9 L904.3 1664.9 M951.7 1654.5 L963.5 1670.9 M901.2 1693.4 L913.1 1688.1 M910.2 1673.1 L933.9 1662.5 M883.5 1690.5 L901.3 1682.5 M987.4 1605.8 L993.3 1614.1 M924.9 1682.8 L933.8 1695.1 M972.5 1639.7 L990.3 1631.7 M919.2 1641.9 L925.1 1650.1 M987.4 1616.7 L1011.1 1606.1 M936.9 1655.7 L945.7 1668 M934 1651.6 L945.7 1668 M972.5 1628.8 L984.3 1645.3 M922.2 1635.1 L925.2 1639.2 M910.2 1673.1 L916.1 1670.4 M984.4 1612.6 L993.3 1624.9 M936.7 1699.2 L948.4 1715.6 M889.4 1687.9 L892.4 1692 M990.2 1642.6 L996.1 1639.9 M948.9 1628.6 L972.6 1617.9 M919 1696.3 L936.7 1688.3 M975.4 1654.7 L981.3 1652 M871.7 1685 L874.6 1689.1 M895.3 1685.2 L901.3 1682.5 M937 1644.8 L948.7 1661.2 M936.9 1666.6 L942.7 1674.8 M922.1 1656.9 L930.9 1669.2 M880.4 1708.2 L892.3 1702.8 M939.7 1681.5 L945.7 1678.9 M907.1 1701.6 L915.9 1714 M913.2 1666.3 L916.1 1670.4 M978.1 1691.4 L984.1 1688.8 M928 1665.1 L939.8 1659.8 M898.3 1678.4 L922.1 1667.8 M928 1654.2 L934 1651.6 M963.5 1660 L975.3 1676.4 M910.2 1662.2 L916.1 1670.4 M969.5 1635.6 L993.3 1624.9 M975.5 1632.9 L981.3 1641.1 M951.6 1676.2 L957.5 1673.6 M937 1644.8 L960.7 1634.1 M877.7 1660.6 L889.6 1655.2 M921.9 1700.4 L945.6 1689.8 M960.5 1666.8 L966.4 1664.1 M981.5 1619.4 L984.4 1623.5 M933.8 1695.1 L939.7 1692.4 M892.4 1692 L898.3 1689.3 M957.6 1651.8 L969.4 1668.2 M975.1 1698.2 L987 1692.9 M948.9 1628.6 L960.7 1623.3 M963.3 1692.6 L966.3 1696.8 M963.5 1670.9 L975.2 1687.3 M937 1633.9 L942.9 1631.3 M933.9 1662.5 L951.7 1654.5 M978.5 1626.2 L987.3 1638.5 M937 1644.8 L945.8 1657.1 M993.3 1614.1 L1017 1603.4" stroke="#0e0e84" stroke-width="3.0" stroke-opacity="1.0" fill="none" stroke-linecap="butt"/>
<path d="M881.6 1693.9 L888 1691 L891.2 1695.4 L884.8 1698.3Z" fill="#0e0e84"/><path d="M893.4 1699.4 L899.8 1696.5 L903 1701 L896.6 1703.8Z" fill="#22b0b0"/><path d="M872.9 1659.8 L879.3 1656.9 L882.5 1661.3 L876.1 1664.2Z" fill="#10108c"/><path d="M878.9 1657.1 L885.3 1654.2 L888.4 1658.7 L882 1661.5Z" fill="#1a8fc0"/><path d="M908.2 1698.2 L914.6 1695.3 L917.8 1699.7 L911.4 1702.6Z" fill="#10108c"/><path d="M896.5 1670.9 L902.9 1668 L906.1 1672.4 L899.7 1675.3Z" fill="#10108c"/><path d="M917.1 1699.6 L923.5 1696.8 L926.7 1701.2 L920.3 1704.1Z" fill="#10108c"/><path d="M890.7 1651.8 L897.1 1648.9 L900.3 1653.3 L893.9 1656.2Z" fill="#1a8fc0"/><path d="M920.2 1671.1 L926.6 1668.2 L929.8 1672.7 L923.4 1675.5Z" fill="#10108c"/><path d="M937.8 1695.8 L944.2 1692.9 L947.4 1697.3 L941 1700.2Z" fill="#1a8fc0"/><path d="M937.9 1684.9 L944.3 1682 L947.5 1686.4 L941.1 1689.3Z" fill="#10108c"/><path d="M914.4 1641.1 L920.8 1638.3 L924 1642.7 L917.6 1645.6Z" fill="#22b0b0"/><path d="M952.7 1683.7 L959.1 1680.8 L962.3 1685.2 L955.9 1688.1Z" fill="#22b0b0"/><path d="M923.4 1631.7 L929.8 1628.8 L932.9 1633.3 L926.5 1636.1Z" fill="#1a8fc0"/><path d="M935.1 1648.1 L941.5 1645.3 L944.7 1649.7 L938.3 1652.6Z" fill="#10108c"/><path d="M958.6 1681 L965 1678.1 L968.2 1682.6 L961.8 1685.4Z" fill="#22b0b0"/><path d="M949.9 1657.8 L956.3 1654.9 L959.4 1659.3 L953 1662.2Z" fill="#22b0b0"/><path d="M941.1 1634.6 L947.5 1631.7 L950.7 1636.1 L944.3 1639Z" fill="#0e0e84"/><path d="M941.1 1623.7 L947.5 1620.8 L950.7 1625.3 L944.3 1628.1Z" fill="#22b0b0"/><path d="M950 1625.2 L956.4 1622.3 L959.6 1626.7 L953.2 1629.6Z" fill="#22b0b0"/><path d="M982.5 1637.7 L988.9 1634.8 L992.1 1639.3 L985.7 1642.1Z" fill="#22b0b0"/><path d="M976.7 1618.6 L983.1 1615.7 L986.2 1620.2 L979.8 1623Z" fill="#1a8fc0"/><path d="M982.5 1626.8 L988.9 1623.9 L992.1 1628.4 L985.7 1631.3Z" fill="#0e0e84"/><path d="M985.5 1630.9 L991.9 1628.1 L995.1 1632.5 L988.7 1635.4Z" fill="#1a8fc0"/><path d="M979.7 1611.8 L986.1 1609 L989.2 1613.4 L982.8 1616.3Z" fill="#10108c"/><path d="M988.5 1624.2 L994.9 1621.3 L998 1625.7 L991.6 1628.6Z" fill="#22b0b0"/><path d="M979.7 1601 L986.1 1598.1 L989.3 1602.5 L982.9 1605.4Z" fill="#0e0e84"/><path d="M982.7 1605.1 L989.1 1602.2 L992.2 1606.6 L985.8 1609.5Z" fill="#22b0b0"/>
<path d="M1141.6 1248.4 L1148.4 1249.7 L1147.5 1256.6 L1154.3 1257.8 L1153.4 1264.7 L1160.2 1266 L1159.3 1272.9 L1166.1 1274.1 L1165.2 1281 L1172 1282.3 L1171.1 1289.2 L1177.9 1290.4 L1177 1297.3 L1183.8 1298.6 L1182.9 1305.5 L1189.7 1306.7 L1188.8 1313.6 L1195.6 1314.9 L1194.7 1321.8 L1201.5 1323 L1200.6 1329.9 L1207.4 1331.2 L1206.5 1338.1 L1213.3 1339.3 L1212.4 1346.2 L1219.2 1347.5 L1218.3 1354.4 L1225.1 1355.6 L1224.2 1362.5 L1231 1363.8 L1230.1 1370.7 L1236.9 1371.9 L1236 1378.8 L1242.8 1380.1 L1241.9 1387 L1248.7 1388.2 L1247.8 1395.1 L1254.6 1396.4 L1253.7 1403.3 L1260.5 1404.5 L1259.6 1411.4 L1266.4 1412.7 L1265.5 1419.6 L1272.3 1420.8 L1271.4 1427.7 L1278.2 1429 L1277.3 1435.9 L1284.1 1437.1 L1283.2 1444 L1290 1445.3 L1289.1 1452.2 L1295.9 1453.4 L1295 1460.3 L1301.8 1461.6 L1300.9 1468.5 L1307.7 1469.7 L1306.8 1476.6 L1313.6 1477.9 L1312.7 1484.8 L1319.5 1486 L1318.6 1492.9 L1325.4 1494.2 L1324.5 1501.1 L1331.3 1502.3 L1330.4 1509.2 L1337.2 1510.5 L1336.3 1517.4 L1343.1 1518.6 L1342.2 1525.5 L1349 1526.8 L1348.1 1533.7 L1354.9 1534.9 L1354 1541.8 L1360.8 1543.1 L1359.9 1550 L1366.7 1551.2 L1365.8 1558.1 L1372.6 1559.4 L1371.7 1566.3 L1378.5 1567.5 L1378.5 1570.8 L1374.6 1577.8 L1366.8 1575.9 L1362.9 1582.9 L1355.1 1581.1 L1351.2 1588.1 L1343.4 1586.2 L1339.5 1593.2 L1331.7 1591.4 L1327.8 1598.3 L1320 1596.5 L1316 1603.5 L1308.2 1601.7 L1304.3 1608.6 L1296.5 1606.8 L1292.6 1613.8 L1284.8 1611.9 L1280.9 1618.9 L1273.1 1617.1 L1269.2 1624.1 L1261.4 1622.2 L1257.5 1629.2 L1249.7 1627.4 L1245.8 1634.3 L1238 1632.5 L1234 1639.5 L1226.2 1637.7 L1222.3 1644.6 L1214.5 1642.8 L1210.6 1649.8 L1202.8 1647.9 L1198.9 1654.9 L1191.1 1653.1 L1187.2 1660.1 L1179.4 1658.2 L1175.5 1665.2 L1167.7 1663.4 L1163.8 1670.3 L1156 1668.5 L1152 1675.5 L1144.2 1673.7 L1140.3 1680.6 L1132.5 1678.8 L1128.6 1685.8 L1120.8 1683.9 L1116.9 1690.9 L1109.1 1689.1 L1105.2 1696.1 L1097.4 1694.2 L1093.5 1701.2 L1085.7 1699.4 L1081.8 1706.3 L1074 1704.5 L1070 1711.5 L1062.2 1709.7 L1058.3 1716.6 L1050.5 1714.8 L1046.4 1721.8 L1038.4 1720 L1034.3 1727.1 L1026.3 1725.3 L1022.1 1732.3 L1014.2 1730.5 L1010 1737.6 L1004.4 1737.5 L1001.6 1734.2 L1001.8 1729.9 L998.6 1726.8 L999.2 1722.3 L994.3 1719.8 L996.6 1714.7 L991.1 1712.4 L994 1707.1 L987.5 1705.1 L991.5 1700.2 L988.9 1695.6 L992.5 1691.8 L992.2 1687.6 L993.5 1683.5 L990 1678.9 L994.5 1675.2 L990.3 1670.4 L995.5 1666.8 L995 1662.6 L996.5 1658.5 L994 1654 L997.5 1650.1 L994.9 1646.1 L998 1642.5 L993.9 1638.5 L998.5 1635 L993.9 1630.9 L999 1627.4 L998.4 1623.5 L999.4 1619.8 L997.6 1615.9 L999.9 1612.2 L999.4 1608.4 L1000.4 1604.7 L998.2 1600.7 L1000.4 1599.2 L1003.2 1594.3 L1008.8 1595.5 L1012 1591.4 L1017.2 1591.9 L1019.2 1584.9 L1025.7 1588.2 L1027.8 1581.5 L1034.1 1584.5 L1038 1581.9 L1042.5 1580.9 L1045.4 1576 L1051 1577.2 L1053.7 1572.1 L1059.3 1573.3 L1061 1566.1 L1067.7 1569.5 L1068.7 1560.9 L1076 1565.7 L1077 1556.9 L1084.3 1561.8 L1084.8 1552 L1092.7 1558 L1095.8 1553.8 L1101 1554.2 L1103.3 1547.9 L1109.6 1550 L1112.9 1545.8 L1118.2 1545.9 L1119.7 1538 L1126.8 1541.7 L1130.8 1539.2 L1135.3 1537.6 L1138.9 1534 L1143.9 1533.4 L1145.1 1525 L1152.5 1529.3 L1154 1521.4 L1161 1525.2 L1161.2 1515.6 L1168.4 1521.9 L1171.6 1519.3 L1175.8 1518.7 L1178.7 1515.2 L1183.2 1515.4 L1184.8 1508.8 L1190.9 1510.9 L1192 1507 L1195.3 1504.9 L1193.3 1498.8 L1199.8 1498.9 L1201.3 1495.4 L1204.3 1492.7 L1204.1 1488.6 L1207.6 1486.3 L1207.8 1482.5 L1210.8 1480 L1207.4 1474.3 L1214.2 1472.7 L1208.8 1470.2 L1212.7 1465.7 L1210.8 1462.5 L1211.3 1458.7 L1209.3 1455.5 L1209.9 1451.7 L1206.7 1448.7 L1208.3 1444.3 L1204 1442.9 L1205.1 1438.5 L1203 1435.9 L1201.8 1432.8 L1199.4 1430.3 L1198.6 1427 L1195.8 1424.8 L1194.1 1420.5 L1190.7 1420.9 L1187.3 1420.1 L1183.6 1424.2 L1180.5 1419.7 L1177 1421.4 L1173.7 1419.3 L1170 1423.3 L1166.9 1418.9 L1163.4 1421 L1160.2 1418.5 L1156.1 1420.4 L1152.7 1417.5 L1148.6 1419.9 L1145.2 1416.5 L1141.4 1416.5 L1137.7 1415.5 L1133.3 1420.2 L1129.7 1414.5 L1126.7 1415.8 L1123.5 1415.8 L1120.9 1419.1 L1117.2 1417 L1114.2 1418.3 L1111 1418.3 L1108.6 1422.8 L1104.3 1419.7 L1102 1423.9 L1097.3 1423.2 L1094.8 1427 L1090.2 1426.7 L1088.2 1431.6 L1083.2 1429.3 L1079.8 1434.3 L1074.5 1431.6 L1070.3 1433.6 L1065.7 1433.9 L1063.2 1442.2 L1056.9 1436.2 L1053.9 1442.4 L1048.2 1438.5 L1043.9 1440.2 L1039.3 1440.8 L1035.8 1443.6 L1031.3 1443.2 L1029.5 1451.7 L1023.3 1445.6 L1020.1 1449.3 L1015.3 1448 L1012.7 1453.9 L1007.3 1450.4 L1004.7 1456 L999.3 1452.8 L997.2 1461.4 L990.6 1455.4 L988.5 1464.4 L981.8 1458 L977.8 1460.5 L973.1 1460.7 L969.1 1463.3 L964.3 1463.3 L960.4 1466.1 L955.6 1465.9 L951.4 1467.9 L946.8 1468.5 L944.7 1477.2 L938.1 1471.2 L934.8 1476 L929.5 1473.7 L926.5 1481.7 L920.6 1475.5 L916.7 1478.8 L911.7 1477.3 L907.9 1481.4 L902.8 1479.1 L898.7 1481.6 L893.9 1480.9 L890 1484.7 L885 1482.7 L881.7 1489.6 L877.7 1485.8 L873.2 1484.1 L872.4 1479.5 L868.2 1477.6 L867.1 1473.1 L861.7 1472.2 L861.8 1466.8 L856.3 1465.9 L856.5 1460.4 L853.5 1457.5 L851.2 1454.1 L844.4 1453.7 L845.7 1447.1 L841.4 1444.8 L840.2 1440.1 L834.6 1438.8 L834.7 1433.1 L830.6 1430.6 L829.2 1426.1 L825.1 1423.7 L824.1 1419.1 L819.6 1417 L818.9 1412.1 L815.1 1409.5 L813.8 1405.1 L810.6 1402.1 L808.4 1401.2 L812.4 1394.1 L820.4 1395.8 L824.4 1388.7 L832.4 1390.3 L836.4 1383.2 L844.4 1384.9 L848.4 1377.8 L856.4 1379.5 L860.4 1372.4 L868.4 1374 L872.4 1367 L880.4 1368.6 L884.4 1361.5 L892.4 1363.2 L896.4 1356.1 L904.4 1357.8 L908.4 1350.7 L916.4 1352.3 L920.4 1345.2 L928.4 1346.9 L932.4 1339.8 L940.4 1341.5 L944.5 1334.4 L952.4 1336 L956.5 1329 L964.4 1330.6 L968.5 1323.5 L976.4 1325.2 L980.5 1318.1 L988.4 1319.8 L992.5 1312.7 L1000.4 1314.3 L1004.5 1307.2 L1012.4 1308.9 L1016.5 1301.8 L1024.5 1303.5 L1028.5 1296.4 L1036.5 1298 L1040.5 1291 L1048.5 1292.6 L1052.5 1285.5 L1060.5 1287.2 L1064.5 1280.1 L1072.5 1281.8 L1076.5 1274.7 L1084.5 1276.3 L1088.5 1269.2 L1096.5 1270.9 L1100.5 1263.8 L1108.5 1265.5 L1112.5 1258.4 L1120.5 1260 L1124.5 1253 L1132.5 1254.6 L1136.5 1247.5Z" fill="url(#pC)" stroke="#0d0d84" stroke-width="1.2" stroke-linejoin="miter"/>
<g clip-path="url(#kC)">
<path d="M1141.6 1248.4 L1148.4 1249.7 L1147.5 1256.6 L1154.3 1257.8 L1153.4 1264.7 L1160.2 1266 L1159.3 1272.9 L1166.1 1274.1 L1165.2 1281 L1172 1282.3 L1171.1 1289.2 L1177.9 1290.4 L1177 1297.3 L1183.8 1298.6 L1182.9 1305.5 L1189.7 1306.7 L1188.8 1313.6 L1195.6 1314.9 L1194.7 1321.8 L1201.5 1323 L1200.6 1329.9 L1207.4 1331.2 L1206.5 1338.1 L1213.3 1339.3 L1212.4 1346.2 L1219.2 1347.5 L1218.3 1354.4 L1225.1 1355.6 L1224.2 1362.5 L1231 1363.8 L1230.1 1370.7 L1236.9 1371.9 L1236 1378.8 L1242.8 1380.1 L1241.9 1387 L1248.7 1388.2 L1247.8 1395.1 L1254.6 1396.4 L1253.7 1403.3 L1260.5 1404.5 L1259.6 1411.4 L1266.4 1412.7 L1265.5 1419.6 L1272.3 1420.8 L1271.4 1427.7 L1278.2 1429 L1277.3 1435.9 L1284.1 1437.1 L1283.2 1444 L1290 1445.3 L1289.1 1452.2 L1295.9 1453.4 L1295 1460.3 L1301.8 1461.6 L1300.9 1468.5 L1307.7 1469.7 L1306.8 1476.6 L1313.6 1477.9 L1312.7 1484.8 L1319.5 1486 L1318.6 1492.9 L1325.4 1494.2 L1324.5 1501.1 L1331.3 1502.3 L1330.4 1509.2 L1337.2 1510.5 L1336.3 1517.4 L1343.1 1518.6 L1342.2 1525.5 L1349 1526.8 L1348.1 1533.7 L1354.9 1534.9 L1354 1541.8 L1360.8 1543.1 L1359.9 1550 L1366.7 1551.2 L1365.8 1558.1 L1372.6 1559.4 L1371.7 1566.3 L1378.5 1567.5 L1378.5 1570.8 L1374.6 1577.8 L1366.8 1575.9 L1362.9 1582.9 L1355.1 1581.1 L1351.2 1588.1 L1343.4 1586.2 L1339.5 1593.2 L1331.7 1591.4 L1327.8 1598.3 L1320 1596.5 L1316 1603.5 L1308.2 1601.7 L1304.3 1608.6 L1296.5 1606.8 L1292.6 1613.8 L1284.8 1611.9 L1280.9 1618.9 L1273.1 1617.1 L1269.2 1624.1 L1261.4 1622.2 L1257.5 1629.2 L1249.7 1627.4 L1245.8 1634.3 L1238 1632.5 L1234 1639.5 L1226.2 1637.7 L1222.3 1644.6 L1214.5 1642.8 L1210.6 1649.8 L1202.8 1647.9 L1198.9 1654.9 L1191.1 1653.1 L1187.2 1660.1 L1179.4 1658.2 L1175.5 1665.2 L1167.7 1663.4 L1163.8 1670.3 L1156 1668.5 L1152 1675.5 L1144.2 1673.7 L1140.3 1680.6 L1132.5 1678.8 L1128.6 1685.8 L1120.8 1683.9 L1116.9 1690.9 L1109.1 1689.1 L1105.2 1696.1 L1097.4 1694.2 L1093.5 1701.2 L1085.7 1699.4 L1081.8 1706.3 L1074 1704.5 L1070 1711.5 L1062.2 1709.7 L1058.3 1716.6 L1050.5 1714.8 L1046.4 1721.8 L1038.4 1720 L1034.3 1727.1 L1026.3 1725.3 L1022.1 1732.3 L1014.2 1730.5 L1010 1737.6 L1004.4 1737.5 L1001.6 1734.2 L1001.8 1729.9 L998.6 1726.8 L999.2 1722.3 L994.3 1719.8 L996.6 1714.7 L991.1 1712.4 L994 1707.1 L987.5 1705.1 L991.5 1700.2 L988.9 1695.6 L992.5 1691.8 L992.2 1687.6 L993.5 1683.5 L990 1678.9 L994.5 1675.2 L990.3 1670.4 L995.5 1666.8 L995 1662.6 L996.5 1658.5 L994 1654 L997.5 1650.1 L994.9 1646.1 L998 1642.5 L993.9 1638.5 L998.5 1635 L993.9 1630.9 L999 1627.4 L998.4 1623.5 L999.4 1619.8 L997.6 1615.9 L999.9 1612.2 L999.4 1608.4 L1000.4 1604.7 L998.2 1600.7 L1000.4 1599.2 L1003.2 1594.3 L1008.8 1595.5 L1012 1591.4 L1017.2 1591.9 L1019.2 1584.9 L1025.7 1588.2 L1027.8 1581.5 L1034.1 1584.5 L1038 1581.9 L1042.5 1580.9 L1045.4 1576 L1051 1577.2 L1053.7 1572.1 L1059.3 1573.3 L1061 1566.1 L1067.7 1569.5 L1068.7 1560.9 L1076 1565.7 L1077 1556.9 L1084.3 1561.8 L1084.8 1552 L1092.7 1558 L1095.8 1553.8 L1101 1554.2 L1103.3 1547.9 L1109.6 1550 L1112.9 1545.8 L1118.2 1545.9 L1119.7 1538 L1126.8 1541.7 L1130.8 1539.2 L1135.3 1537.6 L1138.9 1534 L1143.9 1533.4 L1145.1 1525 L1152.5 1529.3 L1154 1521.4 L1161 1525.2 L1161.2 1515.6 L1168.4 1521.9 L1171.6 1519.3 L1175.8 1518.7 L1178.7 1515.2 L1183.2 1515.4 L1184.8 1508.8 L1190.9 1510.9 L1192 1507 L1195.3 1504.9 L1193.3 1498.8 L1199.8 1498.9 L1201.3 1495.4 L1204.3 1492.7 L1204.1 1488.6 L1207.6 1486.3 L1207.8 1482.5 L1210.8 1480 L1207.4 1474.3 L1214.2 1472.7 L1208.8 1470.2 L1212.7 1465.7 L1210.8 1462.5 L1211.3 1458.7 L1209.3 1455.5 L1209.9 1451.7 L1206.7 1448.7 L1208.3 1444.3 L1204 1442.9 L1205.1 1438.5 L1203 1435.9 L1201.8 1432.8 L1199.4 1430.3 L1198.6 1427 L1195.8 1424.8 L1194.1 1420.5 L1190.7 1420.9 L1187.3 1420.1 L1183.6 1424.2 L1180.5 1419.7 L1177 1421.4 L1173.7 1419.3 L1170 1423.3 L1166.9 1418.9 L1163.4 1421 L1160.2 1418.5 L1156.1 1420.4 L1152.7 1417.5 L1148.6 1419.9 L1145.2 1416.5 L1141.4 1416.5 L1137.7 1415.5 L1133.3 1420.2 L1129.7 1414.5 L1126.7 1415.8 L1123.5 1415.8 L1120.9 1419.1 L1117.2 1417 L1114.2 1418.3 L1111 1418.3 L1108.6 1422.8 L1104.3 1419.7 L1102 1423.9 L1097.3 1423.2 L1094.8 1427 L1090.2 1426.7 L1088.2 1431.6 L1083.2 1429.3 L1079.8 1434.3 L1074.5 1431.6 L1070.3 1433.6 L1065.7 1433.9 L1063.2 1442.2 L1056.9 1436.2 L1053.9 1442.4 L1048.2 1438.5 L1043.9 1440.2 L1039.3 1440.8 L1035.8 1443.6 L1031.3 1443.2 L1029.5 1451.7 L1023.3 1445.6 L1020.1 1449.3 L1015.3 1448 L1012.7 1453.9 L1007.3 1450.4 L1004.7 1456 L999.3 1452.8 L997.2 1461.4 L990.6 1455.4 L988.5 1464.4 L981.8 1458 L977.8 1460.5 L973.1 1460.7 L969.1 1463.3 L964.3 1463.3 L960.4 1466.1 L955.6 1465.9 L951.4 1467.9 L946.8 1468.5 L944.7 1477.2 L938.1 1471.2 L934.8 1476 L929.5 1473.7 L926.5 1481.7 L920.6 1475.5 L916.7 1478.8 L911.7 1477.3 L907.9 1481.4 L902.8 1479.1 L898.7 1481.6 L893.9 1480.9 L890 1484.7 L885 1482.7 L881.7 1489.6 L877.7 1485.8 L873.2 1484.1 L872.4 1479.5 L868.2 1477.6 L867.1 1473.1 L861.7 1472.2 L861.8 1466.8 L856.3 1465.9 L856.5 1460.4 L853.5 1457.5 L851.2 1454.1 L844.4 1453.7 L845.7 1447.1 L841.4 1444.8 L840.2 1440.1 L834.6 1438.8 L834.7 1433.1 L830.6 1430.6 L829.2 1426.1 L825.1 1423.7 L824.1 1419.1 L819.6 1417 L818.9 1412.1 L815.1 1409.5 L813.8 1405.1 L810.6 1402.1 L808.4 1401.2 L812.4 1394.1 L820.4 1395.8 L824.4 1388.7 L832.4 1390.3 L836.4 1383.2 L844.4 1384.9 L848.4 1377.8 L856.4 1379.5 L860.4 1372.4 L868.4 1374 L872.4 1367 L880.4 1368.6 L884.4 1361.5 L892.4 1363.2 L896.4 1356.1 L904.4 1357.8 L908.4 1350.7 L916.4 1352.3 L920.4 1345.2 L928.4 1346.9 L932.4 1339.8 L940.4 1341.5 L944.5 1334.4 L952.4 1336 L956.5 1329 L964.4 1330.6 L968.5 1323.5 L976.4 1325.2 L980.5 1318.1 L988.4 1319.8 L992.5 1312.7 L1000.4 1314.3 L1004.5 1307.2 L1012.4 1308.9 L1016.5 1301.8 L1024.5 1303.5 L1028.5 1296.4 L1036.5 1298 L1040.5 1291 L1048.5 1292.6 L1052.5 1285.5 L1060.5 1287.2 L1064.5 1280.1 L1072.5 1281.8 L1076.5 1274.7 L1084.5 1276.3 L1088.5 1269.2 L1096.5 1270.9 L1100.5 1263.8 L1108.5 1265.5 L1112.5 1258.4 L1120.5 1260 L1124.5 1253 L1132.5 1254.6 L1136.5 1247.5Z" fill="none" stroke="#0c0c8c" stroke-width="7" stroke-opacity=".7"/>
<ellipse cx="1150" cy="1400" rx="40" ry="10" fill="#22a0b4" fill-opacity="0.8" transform="rotate(8 1150 1400)" filter="url(#b4)"/>
<ellipse cx="1120" cy="1405" rx="14" ry="7" fill="#35c068" fill-opacity="0.8" transform="rotate(10 1120 1405)" filter="url(#b2)"/>
<ellipse cx="1175" cy="1395" rx="12" ry="6" fill="#38c060" fill-opacity="0.8" transform="rotate(20 1175 1395)" filter="url(#b2)"/>
<ellipse cx="1200" cy="1440" rx="10" ry="40" fill="#22a0b8" fill-opacity="0.8" transform="rotate(-15 1200 1440)" filter="url(#b4)"/>
<ellipse cx="1198" cy="1420" rx="6" ry="14" fill="#38c060" fill-opacity="0.8" transform="rotate(-20 1198 1420)" filter="url(#b2)"/>
<ellipse cx="1180" cy="1350" rx="10" ry="30" fill="#2498c0" fill-opacity="0.6" transform="rotate(-40 1180 1350)" filter="url(#b4)"/>
<ellipse cx="1195" cy="1362" rx="5" ry="12" fill="#35b868" fill-opacity="0.7" transform="rotate(-40 1195 1362)" filter="url(#b2)"/>
<ellipse cx="1100" cy="1330" rx="30" ry="8" fill="#2090c4" fill-opacity="0.5" transform="rotate(-20 1100 1330)" filter="url(#b4)"/>
<ellipse cx="1010" cy="1440" rx="50" ry="9" fill="#2098c4" fill-opacity="0.7" transform="rotate(-15 1010 1440)" filter="url(#b4)"/>
<ellipse cx="1000" cy="1445" rx="14" ry="6" fill="#30b0a0" fill-opacity="0.7" transform="rotate(-15 1000 1445)" filter="url(#b2)"/>
<ellipse cx="1115" cy="1560" rx="12" ry="8" fill="#2498c8" fill-opacity="0.6" transform="rotate(0 1115 1560)" filter="url(#b4)"/>
<ellipse cx="1060" cy="1568" rx="10" ry="6" fill="#22a0c0" fill-opacity="0.7" transform="rotate(-20 1060 1568)" filter="url(#b4)"/>
<ellipse cx="1155" cy="1525" rx="16" ry="6" fill="#25a0b8" fill-opacity="0.7" transform="rotate(-25 1155 1525)" filter="url(#b4)"/>
<ellipse cx="1085" cy="1590" rx="10" ry="6" fill="#2a9ad0" fill-opacity="0.7" transform="rotate(0 1085 1590)" filter="url(#b4)"/>
<ellipse cx="1010" cy="1705" rx="9" ry="50" fill="#22a8b8" fill-opacity="0.7" transform="rotate(-32 1010 1705)" filter="url(#b4)"/>
</g>
<ellipse cx="1130.8" cy="1397.9" rx="1.5" ry="1.2" fill="#f4f4fb" fill-opacity="0.9" transform="rotate(35 1130.8 1397.9)"/><ellipse cx="1193.6" cy="1390.2" rx="1.6" ry="1" fill="#f4f4fb" fill-opacity="0.9" transform="rotate(20 1193.6 1390.2)"/><ellipse cx="1161.2" cy="1321.2" rx="1.7" ry="1.1" fill="#f4f4fb" fill-opacity="0.9" transform="rotate(-60 1161.2 1321.2)"/><ellipse cx="1157.5" cy="1278.4" rx="2.7" ry="1.3" fill="#f4f4fb" fill-opacity="0.9" transform="rotate(35 1157.5 1278.4)"/><ellipse cx="1120.5" cy="1284.5" rx="1.9" ry="1.7" fill="#f4f4fb" fill-opacity="0.9" transform="rotate(20 1120.5 1284.5)"/><ellipse cx="1132.8" cy="1300" rx="2.5" ry="1.4" fill="#f4f4fb" fill-opacity="0.9" transform="rotate(20 1132.8 1300)"/><ellipse cx="1185.4" cy="1337.9" rx="2.5" ry="1.9" fill="#f4f4fb" fill-opacity="0.9" transform="rotate(35 1185.4 1337.9)"/><ellipse cx="1186.9" cy="1396.4" rx="2.8" ry="1.6" fill="#f4f4fb" fill-opacity="0.9" transform="rotate(-25 1186.9 1396.4)"/><ellipse cx="1141.7" cy="1255.4" rx="2.6" ry="2" fill="#f4f4fb" fill-opacity="0.9" transform="rotate(-60 1141.7 1255.4)"/><ellipse cx="1109" cy="1306.9" rx="1.8" ry="1.2" fill="#f4f4fb" fill-opacity="0.9" transform="rotate(-60 1109 1306.9)"/><ellipse cx="1163.1" cy="1388.2" rx="1.9" ry="1.7" fill="#f4f4fb" fill-opacity="0.9" transform="rotate(35 1163.1 1388.2)"/><ellipse cx="1209.5" cy="1438.9" rx="1.8" ry="1.1" fill="#f4f4fb" fill-opacity="0.9" transform="rotate(35 1209.5 1438.9)"/><ellipse cx="1155.4" cy="1325.1" rx="2.4" ry="1.3" fill="#f4f4fb" fill-opacity="0.9" transform="rotate(-25 1155.4 1325.1)"/><ellipse cx="999" cy="1694.9" rx="2.7" ry="1.4" fill="#f4f4fb" fill-opacity="0.9" transform="rotate(-60 999 1694.9)"/><ellipse cx="1184.4" cy="1389.7" rx="1.7" ry="1.5" fill="#f4f4fb" fill-opacity="0.9" transform="rotate(35 1184.4 1389.7)"/><ellipse cx="1180.7" cy="1390.1" rx="1.9" ry="1.4" fill="#f4f4fb" fill-opacity="0.9" transform="rotate(-25 1180.7 1390.1)"/><ellipse cx="1159.4" cy="1355.4" rx="1.9" ry="1.1" fill="#f4f4fb" fill-opacity="0.9" transform="rotate(20 1159.4 1355.4)"/><ellipse cx="1172.3" cy="1317.7" rx="1.5" ry="1.1" fill="#f4f4fb" fill-opacity="0.9" transform="rotate(20 1172.3 1317.7)"/><ellipse cx="1321" cy="1587.7" rx="2.8" ry="1.7" fill="#f4f4fb" fill-opacity="0.9" transform="rotate(20 1321 1587.7)"/><ellipse cx="1134.5" cy="1356.9" rx="1.9" ry="1.3" fill="#f4f4fb" fill-opacity="0.9" transform="rotate(20 1134.5 1356.9)"/><ellipse cx="1171.1" cy="1410.1" rx="1.4" ry="1.2" fill="#f4f4fb" fill-opacity="0.9" transform="rotate(20 1171.1 1410.1)"/><ellipse cx="1241.7" cy="1411.1" rx="1.9" ry="1.2" fill="#f4f4fb" fill-opacity="0.9" transform="rotate(-25 1241.7 1411.1)"/><ellipse cx="1231.3" cy="1436.6" rx="2.8" ry="2.2" fill="#f4f4fb" fill-opacity="0.9" transform="rotate(35 1231.3 1436.6)"/><ellipse cx="1124.2" cy="1330.4" rx="1.9" ry="1.5" fill="#f4f4fb" fill-opacity="0.9" transform="rotate(20 1124.2 1330.4)"/><ellipse cx="1252.1" cy="1400.7" rx="2.8" ry="2.3" fill="#f4f4fb" fill-opacity="0.9" transform="rotate(-60 1252.1 1400.7)"/><ellipse cx="1146.3" cy="1561.9" rx="1.7" ry="1.4" fill="#f4f4fb" fill-opacity="0.9" transform="rotate(-25 1146.3 1561.9)"/><ellipse cx="1335" cy="1570.9" rx="2.7" ry="2" fill="#f4f4fb" fill-opacity="0.9" transform="rotate(-60 1335 1570.9)"/><ellipse cx="1191.1" cy="1413.2" rx="1.8" ry="0.9" fill="#f4f4fb" fill-opacity="0.9" transform="rotate(-60 1191.1 1413.2)"/><ellipse cx="1167.8" cy="1387.1" rx="2.1" ry="1.3" fill="#f4f4fb" fill-opacity="0.9" transform="rotate(20 1167.8 1387.1)"/><ellipse cx="1205.7" cy="1441.6" rx="1.9" ry="1.7" fill="#f4f4fb" fill-opacity="0.9" transform="rotate(20 1205.7 1441.6)"/><ellipse cx="1214.7" cy="1360.7" rx="2.2" ry="1.4" fill="#f4f4fb" fill-opacity="0.9" transform="rotate(-60 1214.7 1360.7)"/><ellipse cx="1240.3" cy="1441.1" rx="2.8" ry="1.4" fill="#f4f4fb" fill-opacity="0.9" transform="rotate(-60 1240.3 1441.1)"/><ellipse cx="1167.7" cy="1367.4" rx="2.1" ry="1.2" fill="#f4f4fb" fill-opacity="0.9" transform="rotate(-60 1167.7 1367.4)"/><ellipse cx="1157.1" cy="1347.8" rx="2.5" ry="1.7" fill="#f4f4fb" fill-opacity="0.9" transform="rotate(35 1157.1 1347.8)"/><ellipse cx="1201.9" cy="1430.1" rx="1.4" ry="0.8" fill="#f4f4fb" fill-opacity="0.9" transform="rotate(35 1201.9 1430.1)"/><ellipse cx="1331.3" cy="1539.5" rx="1.9" ry="1.1" fill="#f4f4fb" fill-opacity="0.9" transform="rotate(35 1331.3 1539.5)"/><ellipse cx="1207" cy="1609.4" rx="2.9" ry="2.1" fill="#f4f4fb" fill-opacity="0.9" transform="rotate(35 1207 1609.4)"/><ellipse cx="1114.7" cy="1665.1" rx="1.9" ry="1" fill="#f4f4fb" fill-opacity="0.9" transform="rotate(20 1114.7 1665.1)"/><ellipse cx="879" cy="1485.9" rx="2.1" ry="1.4" fill="#f4f4fb" fill-opacity="0.9" transform="rotate(-25 879 1485.9)"/><ellipse cx="1167.6" cy="1295" rx="2.1" ry="1.5" fill="#f4f4fb" fill-opacity="0.9" transform="rotate(35 1167.6 1295)"/><ellipse cx="1233.2" cy="1567.8" rx="2.1" ry="1.1" fill="#f4f4fb" fill-opacity="0.9" transform="rotate(-25 1233.2 1567.8)"/><ellipse cx="1222.8" cy="1535.7" rx="1.5" ry="1.3" fill="#f4f4fb" fill-opacity="0.9" transform="rotate(20 1222.8 1535.7)"/><ellipse cx="1216.3" cy="1444.5" rx="1.7" ry="1.3" fill="#f4f4fb" fill-opacity="0.9" transform="rotate(-60 1216.3 1444.5)"/><ellipse cx="1145.9" cy="1324.4" rx="2" ry="1.1" fill="#f4f4fb" fill-opacity="0.9" transform="rotate(35 1145.9 1324.4)"/><ellipse cx="1244.4" cy="1419" rx="2.3" ry="2" fill="#f4f4fb" fill-opacity="0.9" transform="rotate(20 1244.4 1419)"/><ellipse cx="1158.2" cy="1299.5" rx="1.5" ry="1" fill="#f4f4fb" fill-opacity="0.9" transform="rotate(35 1158.2 1299.5)"/><ellipse cx="1160.2" cy="1312.5" rx="2.8" ry="2" fill="#f4f4fb" fill-opacity="0.9" transform="rotate(-60 1160.2 1312.5)"/><ellipse cx="1118.7" cy="1627.9" rx="2.8" ry="2.3" fill="#f4f4fb" fill-opacity="0.9" transform="rotate(20 1118.7 1627.9)"/><ellipse cx="1154.6" cy="1342.9" rx="2.9" ry="2.5" fill="#f4f4fb" fill-opacity="0.9" transform="rotate(-60 1154.6 1342.9)"/><ellipse cx="1145" cy="1360.8" rx="3" ry="2.1" fill="#f4f4fb" fill-opacity="0.9" transform="rotate(35 1145 1360.8)"/><ellipse cx="1106.4" cy="1307.7" rx="1.5" ry="1.2" fill="#f4f4fb" fill-opacity="0.9" transform="rotate(-60 1106.4 1307.7)"/><ellipse cx="1167.8" cy="1350.8" rx="2" ry="1.2" fill="#f4f4fb" fill-opacity="0.9" transform="rotate(-60 1167.8 1350.8)"/><ellipse cx="1249.5" cy="1456.9" rx="2.1" ry="1.4" fill="#f4f4fb" fill-opacity="0.9" transform="rotate(20 1249.5 1456.9)"/><ellipse cx="1322.3" cy="1514.9" rx="1.9" ry="1.2" fill="#f4f4fb" fill-opacity="0.9" transform="rotate(35 1322.3 1514.9)"/><ellipse cx="1231.3" cy="1408.5" rx="1.8" ry="1.3" fill="#f4f4fb" fill-opacity="0.9" transform="rotate(20 1231.3 1408.5)"/>
<ellipse cx="1056" cy="1312" rx="14" ry="2.2" fill="#f2f2fa" fill-opacity=".9" transform="rotate(-10 1056 1312)"/>
<ellipse cx="1106" cy="1322" rx="11" ry="2.2" fill="#f2f2fa" fill-opacity=".9" transform="rotate(-10 1106 1322)"/>
<ellipse cx="1140" cy="1292" rx="12" ry="2.2" fill="#f2f2fa" fill-opacity=".9" transform="rotate(-10 1140 1292)"/>
<ellipse cx="1113" cy="1350" rx="12" ry="2.2" fill="#f2f2fa" fill-opacity=".9" transform="rotate(-10 1113 1350)"/>
<ellipse cx="1093" cy="1370" rx="7" ry="2.2" fill="#f2f2fa" fill-opacity=".9" transform="rotate(-10 1093 1370)"/>
<ellipse cx="1170" cy="1318" rx="8" ry="2.2" fill="#f2f2fa" fill-opacity=".9" transform="rotate(-10 1170 1318)"/>
<ellipse cx="1075" cy="1292" rx="7" ry="2.2" fill="#f2f2fa" fill-opacity=".9" transform="rotate(-10 1075 1292)"/>
<ellipse cx="1128" cy="1378" rx="8" ry="2.2" fill="#f2f2fa" fill-opacity=".9" transform="rotate(-10 1128 1378)"/>
<ellipse cx="1092" cy="1405" rx="9" ry="2.2" fill="#f2f2fa" fill-opacity=".9" transform="rotate(-10 1092 1405)"/>
<ellipse cx="1100" cy="1418" rx="8" ry="2.2" fill="#f2f2fa" fill-opacity=".9" transform="rotate(-10 1100 1418)"/>
</g>
<rect x="725.5" y="1526.5" width="11" height="3" fill="#2a78d0" transform="rotate(-10 731 1528)"/>
<rect x="732.5" y="1538.5" width="11" height="3" fill="#0e0e84" transform="rotate(60 738 1540)"/>
<rect x="739.5" y="1544.5" width="11" height="3" fill="#0e0e84" transform="rotate(70 745 1546)"/>
<rect x="807.5" y="1735.5" width="11" height="3" fill="#15155a" transform="rotate(-35 813 1737)"/>
</g>
<text class="t" x="1296" y="37.6" font-size="38" textLength="342" lengthAdjust="spacing">Effective stress (v-m)</text>
<rect x="1618.5" y="85" width="19" height="46.8" fill="#f20d0d"/>
<rect x="1618.5" y="131.4" width="19" height="46.8" fill="#ff8b0c"/>
<rect x="1618.5" y="177.9" width="19" height="46.8" fill="#ffee1c"/>
<rect x="1618.5" y="224.3" width="19" height="46.8" fill="#bfe73a"/>
<rect x="1618.5" y="270.8" width="19" height="46.8" fill="#8fd934"/>
<rect x="1618.5" y="317.2" width="19" height="46.8" fill="#8dd833"/>
<rect x="1618.5" y="363.6" width="19" height="46.8" fill="#7ee0ae"/>
<rect x="1618.5" y="410.1" width="19" height="46.8" fill="#48e0f6"/>
<rect x="1618.5" y="456.5" width="19" height="46.8" fill="#0f90e4"/>
<rect x="1618.5" y="503" width="19" height="46.4" fill="#0a63d6"/>
<text class="t" x="1409" y="85.3" font-size="35" textLength="177" lengthAdjust="spacing">4.093 e+05</text>
<rect x="1606" y="86.8" width="13" height="3" fill="#0a0a0a"/>
<text class="t" x="1409" y="132.2" font-size="35" textLength="177" lengthAdjust="spacing">3.684 e+05</text>
<rect x="1606" y="133.2" width="13" height="3" fill="#0a0a0a"/>
<text class="t" x="1409" y="179.1" font-size="35" textLength="177" lengthAdjust="spacing">3.275 e+05</text>
<rect x="1606" y="179.7" width="13" height="3" fill="#0a0a0a"/>
<text class="t" x="1409" y="226" font-size="35" textLength="177" lengthAdjust="spacing">2.866 e+05</text>
<rect x="1606" y="226.1" width="13" height="3" fill="#0a0a0a"/>
<text class="t" x="1409" y="272.9" font-size="35" textLength="177" lengthAdjust="spacing">2.456 e+05</text>
<rect x="1606" y="272.6" width="13" height="3" fill="#0a0a0a"/>
<text class="t" x="1409" y="319.8" font-size="35" textLength="177" lengthAdjust="spacing">2.047 e+05</text>
<rect x="1606" y="319" width="13" height="3" fill="#0a0a0a"/>
<text class="t" x="1409" y="366.7" font-size="35" textLength="177" lengthAdjust="spacing">1.638 e+05</text>
<rect x="1606" y="365.4" width="13" height="3" fill="#0a0a0a"/>
<text class="t" x="1409" y="413.6" font-size="35" textLength="177" lengthAdjust="spacing">1.229 e+05</text>
<rect x="1606" y="411.9" width="13" height="3" fill="#0a0a0a"/>
<text class="t" x="1409" y="460.5" font-size="35" textLength="177" lengthAdjust="spacing">8.193 e+04</text>
<rect x="1606" y="458.3" width="13" height="3" fill="#0a0a0a"/>
<text class="t" x="1409" y="507.4" font-size="35" textLength="177" lengthAdjust="spacing">4.100 e+04</text>
<rect x="1606" y="504.8" width="13" height="3" fill="#0a0a0a"/>
<text class="t" x="1409" y="554.3" font-size="35" textLength="177" lengthAdjust="spacing">7.709 e+01</text>
<rect x="1606" y="551.2" width="13" height="3" fill="#0a0a0a"/>
<text class="t" x="1288" y="654" font-size="38" textLength="339" lengthAdjust="spacing">Effective stress (v-m)</text>
<rect x="1604.7" y="699" width="18.6" height="44.9" fill="#f20d0d"/>
<rect x="1604.7" y="743.5" width="18.6" height="44.9" fill="#ff8b0c"/>
<rect x="1604.7" y="788" width="18.6" height="44.9" fill="#ffee1c"/>
<rect x="1604.7" y="832.5" width="18.6" height="44.9" fill="#bfe73a"/>
<rect x="1604.7" y="877" width="18.6" height="44.9" fill="#8fd934"/>
<rect x="1604.7" y="921.5" width="18.6" height="44.9" fill="#8dd833"/>
<rect x="1604.7" y="966" width="18.6" height="44.9" fill="#7ee0ae"/>
<rect x="1604.7" y="1010.5" width="18.6" height="44.9" fill="#48e0f6"/>
<rect x="1604.7" y="1055" width="18.6" height="44.9" fill="#0f90e4"/>
<rect x="1604.7" y="1099.5" width="18.6" height="44.5" fill="#0a63d6"/>
<text class="t" x="1399" y="702" font-size="37" textLength="175" lengthAdjust="spacing">5.487 e+05</text>
<rect x="1592" y="700.5" width="13.2" height="3" fill="#0a0a0a"/>
<text class="t" x="1399" y="746.9" font-size="37" textLength="175" lengthAdjust="spacing">4.939 e+05</text>
<rect x="1592" y="745" width="13.2" height="3" fill="#0a0a0a"/>
<text class="t" x="1399" y="791.7" font-size="37" textLength="175" lengthAdjust="spacing">4.390 e+05</text>
<rect x="1592" y="789.5" width="13.2" height="3" fill="#0a0a0a"/>
<text class="t" x="1399" y="836.6" font-size="37" textLength="175" lengthAdjust="spacing">3.841 e+05</text>
<rect x="1592" y="834" width="13.2" height="3" fill="#0a0a0a"/>
<text class="t" x="1399" y="881.4" font-size="37" textLength="175" lengthAdjust="spacing">3.293 e+05</text>
<rect x="1592" y="878.5" width="13.2" height="3" fill="#0a0a0a"/>
<text class="t" x="1399" y="926.3" font-size="37" textLength="175" lengthAdjust="spacing">2.744 e+05</text>
<rect x="1592" y="923" width="13.2" height="3" fill="#0a0a0a"/>
<text class="t" x="1399" y="971.2" font-size="37" textLength="175" lengthAdjust="spacing">2.196 e+05</text>
<rect x="1592" y="967.5" width="13.2" height="3" fill="#0a0a0a"/>
<text class="t" x="1399" y="1016" font-size="37" textLength="175" lengthAdjust="spacing">1.647 e+05</text>
<rect x="1592" y="1012" width="13.2" height="3" fill="#0a0a0a"/>
<text class="t" x="1399" y="1060.9" font-size="37" textLength="175" lengthAdjust="spacing">1.098 e+05</text>
<rect x="1592" y="1056.5" width="13.2" height="3" fill="#0a0a0a"/>
<text class="t" x="1399" y="1105.7" font-size="37" textLength="175" lengthAdjust="spacing">5.498 e+04</text>
<rect x="1592" y="1101" width="13.2" height="3" fill="#0a0a0a"/>
<text class="t" x="1399" y="1150.6" font-size="37" textLength="175" lengthAdjust="spacing">1.230 e+02</text>
<rect x="1592" y="1145.5" width="13.2" height="3" fill="#0a0a0a"/>
<text class="t" x="1282.7" y="1261" font-size="38" textLength="338" lengthAdjust="spacing">Effective stress (v-m)</text>
<rect x="1599.8" y="1304.6" width="18.7" height="45.5" fill="#f20d0d"/>
<rect x="1599.8" y="1349.7" width="18.7" height="45.5" fill="#ff8b0c"/>
<rect x="1599.8" y="1394.8" width="18.7" height="45.5" fill="#ffee1c"/>
<rect x="1599.8" y="1439.9" width="18.7" height="45.5" fill="#bfe73a"/>
<rect x="1599.8" y="1485" width="18.7" height="45.5" fill="#8fd934"/>
<rect x="1599.8" y="1530.1" width="18.7" height="45.5" fill="#8dd833"/>
<rect x="1599.8" y="1575.2" width="18.7" height="45.5" fill="#7ee0ae"/>
<rect x="1599.8" y="1620.3" width="18.7" height="45.5" fill="#48e0f6"/>
<rect x="1599.8" y="1665.4" width="18.7" height="45.5" fill="#0f90e4"/>
<rect x="1599.8" y="1710.5" width="18.7" height="45.1" fill="#0a63d6"/>
<text class="t" x="1394" y="1310.9" font-size="37" textLength="175" lengthAdjust="spacing">6.619 e+05</text>
<rect x="1587.5" y="1306" width="12.8" height="3" fill="#0a0a0a"/>
<text class="t" x="1394" y="1355.7" font-size="37" textLength="175" lengthAdjust="spacing">5.957 e+05</text>
<rect x="1587.5" y="1351.1" width="12.8" height="3" fill="#0a0a0a"/>
<text class="t" x="1394" y="1400.5" font-size="37" textLength="175" lengthAdjust="spacing">5.295 e+05</text>
<rect x="1587.5" y="1396.2" width="12.8" height="3" fill="#0a0a0a"/>
<text class="t" x="1394" y="1445.3" font-size="37" textLength="175" lengthAdjust="spacing">4.634 e+05</text>
<rect x="1587.5" y="1441.3" width="12.8" height="3" fill="#0a0a0a"/>
<text class="t" x="1394" y="1490.1" font-size="37" textLength="175" lengthAdjust="spacing">3.972 e+05</text>
<rect x="1587.5" y="1486.4" width="12.8" height="3" fill="#0a0a0a"/>
<text class="t" x="1394" y="1534.9" font-size="37" textLength="175" lengthAdjust="spacing">3.310 e+05</text>
<rect x="1587.5" y="1531.5" width="12.8" height="3" fill="#0a0a0a"/>
<text class="t" x="1394" y="1579.7" font-size="37" textLength="175" lengthAdjust="spacing">2.649 e+05</text>
<rect x="1587.5" y="1576.6" width="12.8" height="3" fill="#0a0a0a"/>
<text class="t" x="1394" y="1624.5" font-size="37" textLength="175" lengthAdjust="spacing">1.987 e+05</text>
<rect x="1587.5" y="1621.7" width="12.8" height="3" fill="#0a0a0a"/>
<text class="t" x="1394" y="1669.3" font-size="37" textLength="175" lengthAdjust="spacing">1.325 e+05</text>
<rect x="1587.5" y="1666.8" width="12.8" height="3" fill="#0a0a0a"/>
<text class="t" x="1394" y="1714.1" font-size="37" textLength="175" lengthAdjust="spacing">6.636 e+04</text>
<rect x="1587.5" y="1711.9" width="12.8" height="3" fill="#0a0a0a"/>
<text class="t" x="1394" y="1758.9" font-size="37" textLength="175" lengthAdjust="spacing">1.954 e+02</text>
<rect x="1587.5" y="1757" width="12.8" height="3" fill="#0a0a0a"/>
</svg>
</body></html>
